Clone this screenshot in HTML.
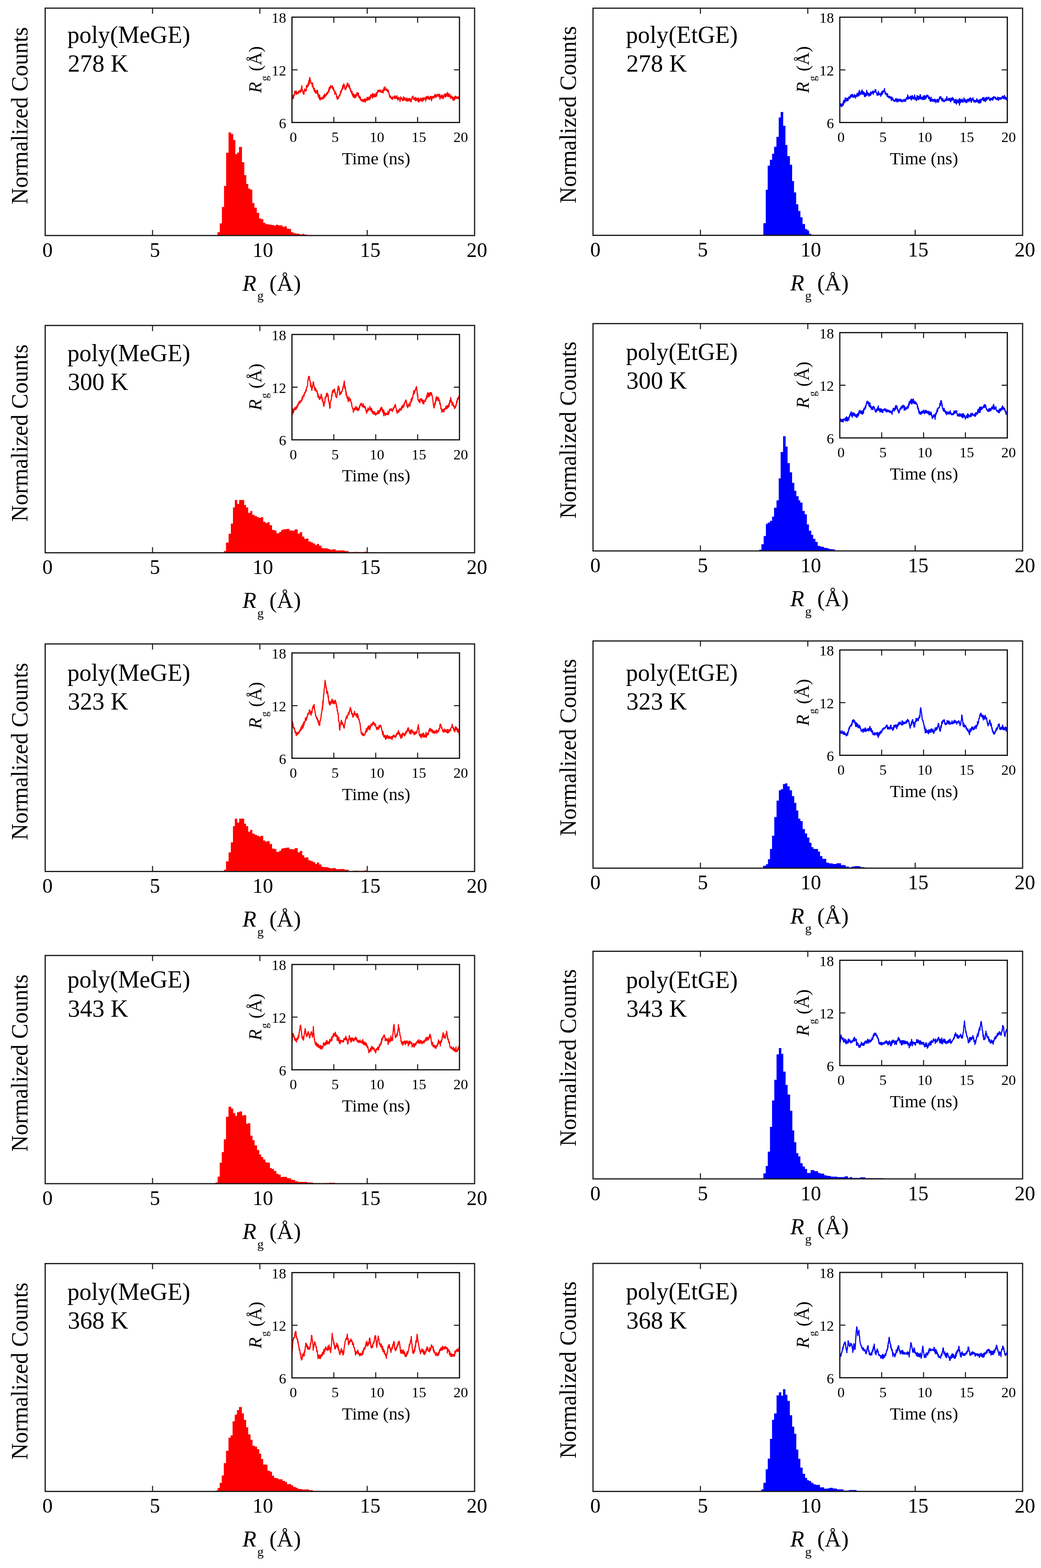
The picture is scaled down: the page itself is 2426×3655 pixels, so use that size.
<!DOCTYPE html>
<html><head><meta charset="utf-8"><style>
html,body{margin:0;padding:0;background:#fff;}
svg{display:block;}
text{font-family:"Liberation Serif", "Times New Roman", serif;fill:#000;}
</style></head><body>
<svg width="2426" height="3655" viewBox="0 0 2426 3655">
<rect width="2426" height="3655" fill="#fff"/>
<path d="M355.5 549V536M355.5 19V32M605.6 549V536M605.6 19V32M855.8 549V536M855.8 19V32" stroke="#1a1a1a" stroke-width="2.4" fill="none"/>
<path d="M499.2 549V548.7H506.8V541.3H512.2V520.7H517.2V482.4H522.1V433.4H527V356.1H532.6V308.7H538.7V312.5H543.6V326.3H548.5V359.2H552.8V355.4H556.9V342.4H563.9V378.3H569.3V408.2H573.9V428.8H578.5V439.6H583.4V441.9H588V473.2H592.9V483.9H598.4V496.2H604V509.2H608.6V510.7H613.7V519.2H618.6V522.2H623.2V523H628.5V523.7H633.1V524.5H638.5V526H643.1V523.7H647.7V525.3H653V525.3H658.4V529.1H663V527.6H668.3V532.9H673.7V533.7H678.3V541.3H683.6V543.6H689V544.4H695.1V545.2H699.7V546.7H704.3V545.2H708.9V546.7H715V547.8H730V549Z" fill="#ff0000"/>
<rect x="105.3" y="19" width="1000.7" height="530" fill="none" stroke="#1a1a1a" stroke-width="2.8"/>
<text x="110.8" y="598.5" font-size="48" text-anchor="middle">0</text>
<text x="361" y="598.5" font-size="48" text-anchor="middle">5</text>
<text x="612.6" y="598.5" font-size="48" text-anchor="middle">10</text>
<text x="862.8" y="598.5" font-size="48" text-anchor="middle">15</text>
<text x="1111.5" y="598.5" font-size="48" text-anchor="middle">20</text>
<text x="565.1" y="677.8" font-size="53"><tspan font-style="italic">R</tspan><tspan dx="2" dy="21.6" font-size="30">g</tspan><tspan dy="-21.6"> (Å)</tspan></text>
<text transform="translate(64.3,476.2) rotate(-90)" font-size="54.5" textLength="413" lengthAdjust="spacingAndGlyphs">Normalized Counts</text>
<text x="157" y="100" font-size="57" textLength="286.3" lengthAdjust="spacingAndGlyphs">poly(MeGE)</text>
<text x="158" y="167.3" font-size="57">278 K</text>
<path d="M680.4 232.6 680.8 229.6 681.3 231.5 681.7 230.6 682.1 222.2 682.6 225.4 683.0 223.1 683.4 225.7 683.9 229.1 684.3 225.6 684.7 223.3 685.2 219.9 685.6 222.9 686.0 221.6 686.5 217.8 686.9 212.9 687.3 213.3 687.8 217.1 688.2 214.1 688.6 215.2 689.1 217.2 689.5 217.4 689.9 211.8 690.4 213.4 690.8 220.3 691.2 217.4 691.7 217.9 692.1 215.5 692.5 217.0 693.0 215.3 693.4 216.5 693.8 215.6 694.3 217.5 694.7 218.4 695.1 218.0 695.6 214.7 696.0 212.4 696.4 214.2 696.9 212.9 697.3 214.8 697.8 214.1 698.2 214.9 698.6 213.9 699.1 210.2 699.5 215.7 699.9 210.7 700.4 211.0 700.8 212.3 701.2 213.3 701.7 212.0 702.1 205.6 702.5 209.7 703.0 206.2 703.4 199.8 703.8 209.2 704.3 208.6 704.7 211.8 705.1 212.5 705.6 211.3 706.0 214.3 706.4 218.2 706.9 216.1 707.3 216.6 707.7 216.3 708.2 220.0 708.6 216.1 709.0 211.7 709.5 211.8 709.9 207.2 710.3 211.0 710.8 208.9 711.2 209.9 711.6 212.1 712.1 209.0 712.5 209.8 712.9 212.7 713.4 210.8 713.8 209.9 714.2 199.4 714.7 203.3 715.1 204.4 715.5 202.5 716.0 198.2 716.4 203.1 716.8 198.0 717.3 198.8 717.7 200.8 718.1 194.0 718.6 200.0 719.0 194.6 719.4 194.0 719.9 187.1 720.3 192.0 720.7 196.5 721.2 189.5 721.6 180.8 722.0 180.5 722.5 186.4 722.9 188.3 723.3 185.6 723.8 190.2 724.2 191.3 724.6 194.1 725.1 192.8 725.5 194.2 725.9 193.4 726.4 194.0 726.8 195.2 727.2 197.2 727.7 198.6 728.1 202.7 728.5 193.3 729.0 198.8 729.4 202.3 729.9 202.6 730.3 206.6 730.7 206.4 731.2 204.7 731.6 206.6 732.0 211.1 732.5 208.9 732.9 206.4 733.3 214.4 733.8 210.9 734.2 213.7 734.6 210.6 735.1 212.1 735.5 213.7 735.9 217.4 736.4 213.8 736.8 215.7 737.2 211.7 737.7 213.5 738.1 215.2 738.5 216.1 739.0 214.7 739.4 218.5 739.8 210.4 740.3 213.2 740.7 221.1 741.1 221.8 741.6 220.7 742.0 226.6 742.4 219.3 742.9 224.9 743.3 225.7 743.7 226.5 744.2 228.2 744.6 231.7 745.0 221.9 745.5 228.4 745.9 232.2 746.3 233.0 746.8 232.1 747.2 232.4 747.6 231.9 748.1 228.2 748.5 229.6 748.9 227.2 749.4 229.3 749.8 227.1 750.2 230.4 750.7 228.6 751.1 229.7 751.5 228.8 752.0 228.9 752.4 230.9 752.8 228.4 753.3 224.7 753.7 226.9 754.1 223.3 754.6 225.6 755.0 222.0 755.4 228.6 755.9 226.2 756.3 226.6 756.7 219.4 757.2 225.8 757.6 224.4 758.0 223.6 758.5 221.8 758.9 222.9 759.3 223.8 759.8 220.0 760.2 219.4 760.6 220.2 761.1 221.2 761.5 216.6 762.0 220.4 762.4 216.6 762.8 214.8 763.3 218.1 763.7 217.8 764.1 214.7 764.6 216.6 765.0 213.5 765.4 212.6 765.9 208.4 766.3 212.7 766.7 213.7 767.2 204.1 767.6 208.0 768.0 205.6 768.5 209.0 768.9 204.1 769.3 202.3 769.8 204.8 770.2 205.9 770.6 199.4 771.1 203.0 771.5 200.0 771.9 201.3 772.4 203.3 772.8 201.9 773.2 201.8 773.7 200.6 774.1 203.6 774.5 200.5 775.0 205.3 775.4 207.3 775.8 203.2 776.3 203.9 776.7 209.5 777.1 204.3 777.6 208.2 778.0 208.8 778.4 212.7 778.9 213.0 779.3 212.2 779.7 211.8 780.2 219.7 780.6 213.0 781.0 214.5 781.5 215.8 781.9 218.6 782.3 215.9 782.8 217.3 783.2 217.6 783.6 219.9 784.1 225.7 784.5 226.4 784.9 226.0 785.4 224.2 785.8 230.5 786.2 231.7 786.7 228.9 787.1 228.0 787.5 228.6 788.0 226.7 788.4 229.0 788.8 229.7 789.3 227.3 789.7 224.0 790.1 223.6 790.6 224.6 791.0 221.4 791.4 221.9 791.9 223.0 792.3 223.2 792.7 218.0 793.2 217.1 793.6 213.3 794.0 212.8 794.5 211.7 794.9 216.2 795.4 212.0 795.8 211.3 796.2 208.8 796.7 210.7 797.1 206.2 797.5 207.1 798.0 205.2 798.4 199.5 798.8 202.3 799.3 207.1 799.7 202.7 800.1 202.3 800.6 203.0 801.0 195.4 801.4 199.2 801.9 201.4 802.3 197.9 802.7 201.9 803.2 203.1 803.6 205.0 804.0 208.9 804.5 208.2 804.9 208.5 805.3 207.8 805.8 207.5 806.2 207.3 806.6 203.1 807.1 199.4 807.5 204.8 807.9 201.7 808.4 199.3 808.8 201.1 809.2 193.9 809.7 196.6 810.1 196.1 810.5 195.5 811.0 194.5 811.4 199.4 811.8 200.7 812.3 200.9 812.7 199.5 813.1 203.6 813.6 202.8 814.0 198.0 814.4 201.7 814.9 202.4 815.3 207.7 815.7 205.3 816.2 205.9 816.6 206.5 817.0 210.8 817.5 213.9 817.9 210.3 818.3 213.6 818.8 213.6 819.2 215.1 819.6 217.9 820.1 213.3 820.5 212.9 820.9 218.8 821.4 222.4 821.8 219.1 822.2 219.3 822.7 220.6 823.1 226.2 823.5 218.3 824.0 224.3 824.4 223.7 824.8 221.1 825.3 227.2 825.7 227.7 826.1 226.6 826.6 225.8 827.0 221.3 827.5 226.4 827.9 228.3 828.3 220.8 828.8 222.4 829.2 223.4 829.6 223.5 830.1 225.5 830.5 221.9 830.9 219.1 831.4 221.0 831.8 215.7 832.2 219.8 832.7 216.1 833.1 221.4 833.5 221.6 834.0 220.1 834.4 223.3 834.8 217.9 835.3 217.0 835.7 223.6 836.1 226.9 836.6 224.5 837.0 226.1 837.4 224.8 837.9 224.2 838.3 229.3 838.7 230.5 839.2 226.0 839.6 229.9 840.0 227.2 840.5 230.5 840.9 233.6 841.3 233.0 841.8 232.7 842.2 235.5 842.6 232.6 843.1 232.8 843.5 232.2 843.9 233.0 844.4 232.7 844.8 231.8 845.2 233.2 845.7 237.0 846.1 237.5 846.5 236.3 847.0 233.8 847.4 234.3 847.8 232.3 848.3 234.2 848.7 235.5 849.1 236.6 849.6 230.1 850.0 234.1 850.4 234.6 850.9 235.9 851.3 238.2 851.7 233.0 852.2 231.6 852.6 230.7 853.0 231.1 853.5 231.9 853.9 231.0 854.3 234.2 854.8 234.3 855.2 233.6 855.6 227.1 856.1 233.8 856.5 230.6 856.9 226.9 857.4 231.4 857.8 231.1 858.2 230.9 858.7 228.6 859.1 232.1 859.6 228.5 860.0 226.2 860.4 228.7 860.9 232.6 861.3 232.6 861.7 227.6 862.2 227.6 862.6 224.8 863.0 223.8 863.5 229.1 863.9 220.9 864.3 222.2 864.8 223.0 865.2 220.7 865.6 222.5 866.1 222.5 866.5 221.5 866.9 226.7 867.4 224.1 867.8 221.7 868.2 218.0 868.7 229.0 869.1 221.7 869.5 225.4 870.0 219.5 870.4 225.5 870.8 224.0 871.3 221.6 871.7 222.2 872.1 220.4 872.6 225.8 873.0 218.7 873.4 221.6 873.9 222.4 874.3 224.7 874.7 222.2 875.2 221.2 875.6 224.7 876.0 225.7 876.5 217.2 876.9 216.2 877.3 223.5 877.8 221.1 878.2 222.2 878.6 217.9 879.1 215.6 879.5 214.0 879.9 213.8 880.4 211.6 880.8 214.1 881.2 210.2 881.7 214.3 882.1 212.7 882.5 211.1 883.0 212.0 883.4 213.0 883.8 211.5 884.3 212.9 884.7 210.5 885.1 211.3 885.6 210.5 886.0 209.3 886.4 214.4 886.9 212.9 887.3 212.7 887.7 213.0 888.2 214.9 888.6 212.5 889.0 213.2 889.5 213.6 889.9 215.4 890.3 213.7 890.8 213.4 891.2 209.5 891.6 210.5 892.1 212.2 892.5 213.9 893.0 216.4 893.4 211.7 893.8 209.4 894.3 209.2 894.7 204.5 895.1 208.6 895.6 210.8 896.0 207.4 896.4 208.6 896.9 205.1 897.3 202.5 897.7 206.5 898.2 207.3 898.6 209.8 899.0 209.5 899.5 208.4 899.9 210.3 900.3 210.0 900.8 207.4 901.2 210.9 901.6 207.8 902.1 208.0 902.5 209.8 902.9 213.5 903.4 209.8 903.8 211.5 904.2 214.1 904.7 214.3 905.1 210.5 905.5 216.0 906.0 217.4 906.4 217.0 906.8 217.3 907.3 223.1 907.7 221.8 908.1 225.8 908.6 222.9 909.0 227.6 909.4 225.2 909.9 223.8 910.3 225.4 910.7 227.4 911.2 226.6 911.6 226.6 912.0 227.9 912.5 230.3 912.9 227.0 913.3 229.9 913.8 228.6 914.2 232.0 914.6 227.1 915.1 226.0 915.5 229.7 915.9 226.4 916.4 226.0 916.8 226.3 917.2 227.4 917.7 227.2 918.1 226.2 918.5 225.6 919.0 224.1 919.4 229.1 919.8 230.1 920.3 223.2 920.7 226.2 921.1 227.4 921.6 228.7 922.0 229.4 922.4 228.5 922.9 228.7 923.3 224.7 923.7 227.9 924.2 226.6 924.6 227.1 925.1 223.4 925.5 230.2 925.9 231.1 926.4 232.4 926.8 230.3 927.2 233.3 927.7 227.7 928.1 228.0 928.5 227.2 929.0 231.3 929.4 228.7 929.8 226.9 930.3 229.8 930.7 231.2 931.1 230.8 931.6 232.0 932.0 235.9 932.4 236.4 932.9 232.1 933.3 230.7 933.7 225.8 934.2 226.4 934.6 231.3 935.0 230.8 935.5 228.5 935.9 228.4 936.3 230.9 936.8 230.3 937.2 232.2 937.6 234.6 938.1 230.9 938.5 234.3 938.9 229.8 939.4 234.2 939.8 230.8 940.2 225.6 940.7 227.5 941.1 233.9 941.5 228.5 942.0 232.6 942.4 232.0 942.8 229.2 943.3 232.8 943.7 227.6 944.1 232.6 944.6 230.9 945.0 231.3 945.4 233.6 945.9 231.1 946.3 233.9 946.7 234.6 947.2 231.4 947.6 235.5 948.0 228.3 948.5 234.9 948.9 232.2 949.3 231.2 949.8 231.6 950.2 235.8 950.6 230.2 951.1 235.0 951.5 233.4 951.9 230.4 952.4 234.3 952.8 231.4 953.2 229.5 953.7 229.7 954.1 235.0 954.5 232.6 955.0 232.2 955.4 229.8 955.8 229.8 956.3 230.0 956.7 233.5 957.2 236.9 957.6 235.6 958.0 237.9 958.5 231.9 958.9 232.8 959.3 232.0 959.8 229.8 960.2 227.5 960.6 225.4 961.1 226.9 961.5 226.5 961.9 226.0 962.4 224.0 962.8 227.4 963.2 231.3 963.7 230.3 964.1 231.2 964.5 228.8 965.0 228.6 965.4 230.9 965.8 230.8 966.3 229.7 966.7 231.6 967.1 233.7 967.6 226.8 968.0 227.9 968.4 235.0 968.9 229.7 969.3 229.9 969.7 232.8 970.2 228.7 970.6 234.1 971.0 230.5 971.5 233.7 971.9 231.6 972.3 229.4 972.8 230.7 973.2 232.5 973.6 234.8 974.1 233.3 974.5 232.6 974.9 238.0 975.4 228.3 975.8 229.5 976.2 237.3 976.7 234.1 977.1 233.4 977.5 234.0 978.0 232.1 978.4 234.2 978.8 235.7 979.3 234.3 979.7 231.0 980.1 233.8 980.6 228.4 981.0 232.0 981.4 233.7 981.9 230.2 982.3 233.7 982.7 233.2 983.2 234.3 983.6 236.6 984.0 236.0 984.5 229.8 984.9 235.8 985.3 234.3 985.8 227.6 986.2 233.9 986.6 233.8 987.1 233.2 987.5 229.4 987.9 232.1 988.4 229.6 988.8 228.1 989.2 229.2 989.7 230.3 990.1 228.7 990.6 229.0 991.0 230.3 991.4 228.5 991.9 235.7 992.3 225.9 992.7 230.4 993.2 227.1 993.6 231.6 994.0 226.9 994.5 229.8 994.9 225.1 995.3 229.5 995.8 229.6 996.2 227.0 996.6 224.7 997.1 225.6 997.5 227.6 997.9 224.2 998.4 230.7 998.8 228.5 999.2 226.8 999.7 228.4 1000.1 227.2 1000.5 228.1 1001.0 232.3 1001.4 228.5 1001.8 226.1 1002.3 227.3 1002.7 230.4 1003.1 225.4 1003.6 227.1 1004.0 226.6 1004.4 224.4 1004.9 225.7 1005.3 229.4 1005.7 234.9 1006.2 231.1 1006.6 228.9 1007.0 226.7 1007.5 226.6 1007.9 224.9 1008.3 226.0 1008.8 226.4 1009.2 225.7 1009.6 229.3 1010.1 224.6 1010.5 228.2 1010.9 227.2 1011.4 225.1 1011.8 227.5 1012.2 222.9 1012.7 226.9 1013.1 225.3 1013.5 225.8 1014.0 219.7 1014.4 225.6 1014.8 224.4 1015.3 221.3 1015.7 223.4 1016.1 227.4 1016.6 225.6 1017.0 223.1 1017.4 222.1 1017.9 222.5 1018.3 220.5 1018.7 221.9 1019.2 224.3 1019.6 220.9 1020.0 220.8 1020.5 219.4 1020.9 223.3 1021.3 221.8 1021.8 221.1 1022.2 222.4 1022.7 225.8 1023.1 222.4 1023.5 225.4 1024.0 219.8 1024.4 225.9 1024.8 219.6 1025.3 231.3 1025.7 224.0 1026.1 225.4 1026.6 226.5 1027.0 227.7 1027.4 226.7 1027.9 224.9 1028.3 223.0 1028.7 227.0 1029.2 221.8 1029.6 225.2 1030.0 223.0 1030.5 229.6 1030.9 221.9 1031.3 224.4 1031.8 227.9 1032.2 227.0 1032.6 225.5 1033.1 229.6 1033.5 227.2 1033.9 224.1 1034.4 224.5 1034.8 220.6 1035.2 224.7 1035.7 222.7 1036.1 219.3 1036.5 221.4 1037.0 223.7 1037.4 224.9 1037.8 225.5 1038.3 226.6 1038.7 222.8 1039.1 218.0 1039.6 218.5 1040.0 220.9 1040.4 219.3 1040.9 220.0 1041.3 223.1 1041.7 224.6 1042.2 223.6 1042.6 221.0 1043.0 215.3 1043.5 218.9 1043.9 220.3 1044.3 221.2 1044.8 225.5 1045.2 222.6 1045.6 223.1 1046.1 221.1 1046.5 218.9 1046.9 224.8 1047.4 220.0 1047.8 223.1 1048.2 219.8 1048.7 222.9 1049.1 225.2 1049.5 229.2 1050.0 226.0 1050.4 227.7 1050.8 226.9 1051.3 223.5 1051.7 227.6 1052.1 226.1 1052.6 227.9 1053.0 224.4 1053.4 225.0 1053.9 231.2 1054.3 229.3 1054.8 227.3 1055.2 229.7 1055.6 228.3 1056.1 227.5 1056.5 234.2 1056.9 226.9 1057.4 231.3 1057.8 229.1 1058.2 231.8 1058.7 232.0 1059.1 233.2 1059.5 228.2 1060.0 224.9 1060.4 230.3 1060.8 225.2 1061.3 224.2 1061.7 228.6 1062.1 227.4 1062.6 228.9 1063.0 225.9 1063.4 229.5 1063.9 225.5 1064.3 227.2 1064.7 227.1 1065.2 228.3 1065.6 226.7 1066.0 229.9 1066.5 227.0 1066.9 228.5 1067.3 227.7 1067.8 229.4 1068.2 225.9 1068.6 226.5 1069.1 229.7 1069.5 228.3 1069.9 228.2 1070.4 224.4 1070.8 225.7" fill="none" stroke="#ff0000" stroke-width="2.6" stroke-linejoin="round"/>
<rect x="680.4" y="40" width="390.4" height="245.5" fill="none" stroke="#111" stroke-width="2.8"/>
<path d="M778 285.5V272.5M778 40V53M875.6 285.5V272.5M875.6 40V53M973.2 285.5V272.5M973.2 40V53M680.4 162.8H693.4M1070.8 162.8H1057.8" stroke="#111" stroke-width="2.3" fill="none"/>
<text x="683.4" y="330.8" font-size="34" text-anchor="middle">0</text>
<text x="781" y="330.8" font-size="34" text-anchor="middle">5</text>
<text x="878.6" y="330.8" font-size="34" text-anchor="middle">10</text>
<text x="976.2" y="330.8" font-size="34" text-anchor="middle">15</text>
<text x="1073.8" y="330.8" font-size="34" text-anchor="middle">20</text>
<text x="666.9" y="298.7" font-size="34" text-anchor="end">6</text>
<text x="666.9" y="175.9" font-size="34" text-anchor="end">12</text>
<text x="666.9" y="53.2" font-size="34" text-anchor="end">18</text>
<text x="876.6" y="382.5" font-size="41" text-anchor="middle">Time (ns)</text>
<text transform="translate(608.6,216.7) rotate(-90)" font-size="42"><tspan font-style="italic">R</tspan><tspan dx="2" dy="16.4" font-size="25">g</tspan><tspan dy="-16.4"> (Å)</tspan></text>
<path d="M1632.3 548.6V535.6M1632.3 19.1V32.1M1882.5 548.6V535.6M1882.5 19.1V32.1M2132.8 548.6V535.6M2132.8 19.1V32.1" stroke="#1a1a1a" stroke-width="2.4" fill="none"/>
<path d="M1774.9 548.6V547.7H1779V520.2H1784.6V442.3H1789.1V386.2H1794.1V372.6H1799.3V358.4H1804V342.2H1809.4V318.9H1814.8V273.8H1819.3V261H1825.2V293.2H1830.4V338.1H1834.9V364.1H1840.9V384.1H1846V422H1850.4V448.4H1855.4V476.2H1860.4V491.7H1865.3V506.6H1870.3V522.2H1876.1V533.7H1880.5V538.4H1885.9V545.2H1890.6V547.9H1900.8V548.6Z" fill="#0000ff"/>
<rect x="1382" y="19.1" width="1001.1" height="529.5" fill="none" stroke="#1a1a1a" stroke-width="2.8"/>
<text x="1387.5" y="598.1" font-size="48" text-anchor="middle">0</text>
<text x="1637.8" y="598.1" font-size="48" text-anchor="middle">5</text>
<text x="1889.5" y="598.1" font-size="48" text-anchor="middle">10</text>
<text x="2139.8" y="598.1" font-size="48" text-anchor="middle">15</text>
<text x="2388.6" y="598.1" font-size="48" text-anchor="middle">20</text>
<text x="1841.8" y="677.4" font-size="53"><tspan font-style="italic">R</tspan><tspan dx="2" dy="21.6" font-size="30">g</tspan><tspan dy="-21.6"> (Å)</tspan></text>
<text transform="translate(1342,473.9) rotate(-90)" font-size="54.5" textLength="413" lengthAdjust="spacingAndGlyphs">Normalized Counts</text>
<text x="1458.7" y="100" font-size="57" textLength="260.6" lengthAdjust="spacingAndGlyphs">poly(EtGE)</text>
<text x="1459.7" y="167.3" font-size="57">278 K</text>
<path d="M1957.1 243.7 1957.5 243.8 1958.0 243.3 1958.4 241.9 1958.8 243.7 1959.3 242.4 1959.7 247.6 1960.1 242.9 1960.6 242.5 1961.0 244.5 1961.4 245.7 1961.9 248.4 1962.3 245.9 1962.7 243.3 1963.2 244.9 1963.6 241.6 1964.0 243.6 1964.5 245.6 1964.9 238.7 1965.3 244.6 1965.8 234.8 1966.2 241.4 1966.6 239.6 1967.1 233.6 1967.5 233.5 1967.9 236.0 1968.4 238.6 1968.8 239.0 1969.2 235.3 1969.7 227.7 1970.1 234.5 1970.5 233.6 1971.0 232.7 1971.4 234.3 1971.8 235.8 1972.3 234.4 1972.7 232.1 1973.1 229.1 1973.6 231.8 1974.0 235.0 1974.5 229.4 1974.9 231.2 1975.3 230.6 1975.8 231.2 1976.2 234.9 1976.6 232.0 1977.1 227.2 1977.5 229.3 1977.9 227.3 1978.4 229.4 1978.8 225.9 1979.2 227.1 1979.7 228.0 1980.1 226.1 1980.5 230.0 1981.0 224.0 1981.4 226.6 1981.8 223.4 1982.3 223.8 1982.7 226.6 1983.1 220.7 1983.6 226.0 1984.0 224.0 1984.4 225.5 1984.9 221.7 1985.3 220.7 1985.7 224.0 1986.2 223.2 1986.6 219.7 1987.0 224.1 1987.5 225.9 1987.9 223.0 1988.3 227.1 1988.8 223.0 1989.2 224.4 1989.6 224.6 1990.1 226.5 1990.5 226.9 1990.9 221.1 1991.4 223.9 1991.8 220.5 1992.2 224.3 1992.7 224.2 1993.1 224.1 1993.5 224.1 1994.0 228.8 1994.4 223.0 1994.8 222.4 1995.3 223.2 1995.7 221.6 1996.1 223.7 1996.6 223.5 1997.0 224.3 1997.4 217.4 1997.9 221.4 1998.3 220.9 1998.7 224.9 1999.2 221.5 1999.6 223.4 2000.0 218.6 2000.5 222.8 2000.9 217.4 2001.3 214.8 2001.8 223.2 2002.2 213.7 2002.6 210.8 2003.1 216.9 2003.5 217.9 2003.9 216.5 2004.4 218.2 2004.8 220.8 2005.2 219.2 2005.7 218.5 2006.1 216.7 2006.6 213.2 2007.0 216.4 2007.4 214.5 2007.9 219.3 2008.3 215.3 2008.7 209.8 2009.2 212.9 2009.6 218.6 2010.0 212.3 2010.5 215.0 2010.9 216.5 2011.3 220.2 2011.8 213.9 2012.2 219.1 2012.6 214.4 2013.1 215.3 2013.5 215.7 2013.9 218.4 2014.4 222.4 2014.8 225.4 2015.2 218.4 2015.7 216.7 2016.1 222.9 2016.5 220.6 2017.0 224.6 2017.4 222.5 2017.8 219.2 2018.3 222.4 2018.7 221.1 2019.1 222.8 2019.6 210.5 2020.0 222.1 2020.4 217.8 2020.9 219.0 2021.3 219.2 2021.7 215.1 2022.2 220.6 2022.6 218.3 2023.0 216.9 2023.5 221.4 2023.9 218.2 2024.3 219.4 2024.8 224.2 2025.2 220.3 2025.6 221.0 2026.1 218.3 2026.5 221.7 2026.9 218.7 2027.4 223.0 2027.8 219.4 2028.2 220.4 2028.7 214.6 2029.1 221.8 2029.5 220.9 2030.0 219.8 2030.4 219.0 2030.8 218.3 2031.3 216.6 2031.7 214.5 2032.1 214.4 2032.6 216.9 2033.0 214.9 2033.4 212.8 2033.9 215.3 2034.3 215.5 2034.7 217.3 2035.2 220.0 2035.6 212.4 2036.0 215.8 2036.5 214.0 2036.9 215.4 2037.3 213.9 2037.8 215.2 2038.2 215.3 2038.7 213.1 2039.1 213.9 2039.5 208.7 2040.0 212.6 2040.4 213.1 2040.8 208.9 2041.3 210.9 2041.7 216.5 2042.1 215.8 2042.6 217.3 2043.0 217.6 2043.4 216.7 2043.9 220.8 2044.3 222.6 2044.7 220.6 2045.2 219.5 2045.6 219.9 2046.0 220.0 2046.5 219.5 2046.9 213.1 2047.3 215.2 2047.8 221.9 2048.2 215.7 2048.6 218.6 2049.1 219.8 2049.5 220.2 2049.9 219.0 2050.4 219.3 2050.8 219.8 2051.2 220.5 2051.7 219.5 2052.1 217.8 2052.5 224.5 2053.0 221.0 2053.4 217.4 2053.8 221.4 2054.3 214.8 2054.7 216.0 2055.1 217.8 2055.6 213.2 2056.0 214.0 2056.4 219.8 2056.9 215.0 2057.3 216.6 2057.7 211.6 2058.2 214.1 2058.6 212.4 2059.0 213.1 2059.5 214.6 2059.9 213.9 2060.3 210.3 2060.8 212.1 2061.2 206.2 2061.6 211.3 2062.1 213.1 2062.5 213.2 2062.9 219.0 2063.4 217.7 2063.8 219.7 2064.2 216.5 2064.7 217.5 2065.1 217.8 2065.5 219.2 2066.0 219.8 2066.4 218.1 2066.8 222.9 2067.3 223.8 2067.7 222.3 2068.1 225.5 2068.6 218.9 2069.0 224.6 2069.4 224.4 2069.9 224.0 2070.3 226.1 2070.7 227.5 2071.2 225.1 2071.6 227.4 2072.1 226.2 2072.5 226.6 2072.9 225.8 2073.4 224.3 2073.8 228.1 2074.2 229.4 2074.7 225.3 2075.1 227.4 2075.5 227.8 2076.0 228.5 2076.4 226.8 2076.8 227.5 2077.3 234.5 2077.7 229.0 2078.1 226.4 2078.6 226.5 2079.0 228.7 2079.4 232.1 2079.9 229.7 2080.3 231.1 2080.7 229.0 2081.2 232.8 2081.6 232.4 2082.0 234.4 2082.5 233.4 2082.9 233.2 2083.3 233.0 2083.8 236.4 2084.2 234.8 2084.6 235.7 2085.1 235.3 2085.5 234.1 2085.9 236.5 2086.4 232.7 2086.8 231.9 2087.2 234.5 2087.7 232.3 2088.1 229.3 2088.5 231.9 2089.0 231.1 2089.4 234.6 2089.8 236.7 2090.3 237.8 2090.7 235.5 2091.1 231.9 2091.6 234.8 2092.0 234.5 2092.4 230.6 2092.9 234.9 2093.3 232.2 2093.7 237.0 2094.2 234.9 2094.6 232.6 2095.0 232.8 2095.5 235.5 2095.9 232.6 2096.3 231.5 2096.8 233.7 2097.2 232.3 2097.6 231.2 2098.1 233.3 2098.5 232.1 2098.9 236.5 2099.4 236.2 2099.8 234.4 2100.2 231.7 2100.7 236.4 2101.1 235.5 2101.5 236.6 2102.0 236.2 2102.4 236.9 2102.8 236.0 2103.3 237.6 2103.7 234.1 2104.2 232.8 2104.6 232.9 2105.0 234.4 2105.5 235.0 2105.9 234.7 2106.3 233.7 2106.8 231.5 2107.2 234.3 2107.6 236.3 2108.1 232.3 2108.5 235.5 2108.9 235.9 2109.4 236.1 2109.8 231.7 2110.2 236.4 2110.7 231.2 2111.1 234.3 2111.5 232.4 2112.0 228.0 2112.4 227.7 2112.8 227.7 2113.3 230.1 2113.7 229.2 2114.1 229.1 2114.6 226.6 2115.0 231.5 2115.4 221.2 2115.9 225.6 2116.3 223.8 2116.7 230.2 2117.2 227.8 2117.6 228.2 2118.0 226.7 2118.5 229.8 2118.9 227.4 2119.3 227.5 2119.8 226.8 2120.2 229.8 2120.6 228.7 2121.1 226.7 2121.5 224.4 2121.9 230.2 2122.4 225.2 2122.8 225.7 2123.2 231.9 2123.7 224.1 2124.1 233.3 2124.5 231.7 2125.0 231.3 2125.4 227.6 2125.8 224.6 2126.3 222.7 2126.7 225.3 2127.1 226.4 2127.6 229.5 2128.0 228.2 2128.4 228.6 2128.9 227.1 2129.3 226.1 2129.7 231.4 2130.2 228.0 2130.6 226.8 2131.0 230.2 2131.5 221.2 2131.9 228.9 2132.3 224.8 2132.8 230.2 2133.2 232.2 2133.6 228.1 2134.1 230.2 2134.5 228.4 2134.9 229.0 2135.4 234.7 2135.8 230.6 2136.3 233.3 2136.7 228.1 2137.1 222.6 2137.6 227.4 2138.0 229.3 2138.4 229.4 2138.9 226.5 2139.3 224.6 2139.7 229.2 2140.2 232.5 2140.6 228.7 2141.0 226.1 2141.5 224.7 2141.9 231.4 2142.3 228.5 2142.8 227.5 2143.2 226.7 2143.6 229.8 2144.1 220.9 2144.5 227.1 2144.9 223.9 2145.4 221.4 2145.8 230.8 2146.2 229.2 2146.7 227.4 2147.1 227.2 2147.5 228.8 2148.0 227.1 2148.4 231.4 2148.8 227.2 2149.3 226.8 2149.7 226.1 2150.1 226.9 2150.6 226.1 2151.0 229.1 2151.4 232.6 2151.9 230.8 2152.3 231.1 2152.7 223.5 2153.2 226.7 2153.6 229.9 2154.0 227.7 2154.5 222.8 2154.9 231.5 2155.3 231.8 2155.8 227.3 2156.2 227.9 2156.6 224.3 2157.1 227.1 2157.5 230.3 2157.9 229.3 2158.4 226.4 2158.8 226.9 2159.2 222.1 2159.7 226.5 2160.1 223.5 2160.5 223.5 2161.0 224.6 2161.4 222.0 2161.8 221.7 2162.3 225.0 2162.7 223.3 2163.1 223.0 2163.6 226.9 2164.0 230.3 2164.4 227.7 2164.9 229.4 2165.3 227.0 2165.7 230.0 2166.2 226.1 2166.6 226.6 2167.0 232.8 2167.5 235.1 2167.9 235.7 2168.3 234.4 2168.8 232.2 2169.2 229.3 2169.7 236.3 2170.1 226.9 2170.5 232.5 2171.0 231.2 2171.4 232.2 2171.8 234.9 2172.3 234.4 2172.7 235.0 2173.1 236.0 2173.6 231.3 2174.0 235.9 2174.4 232.7 2174.9 232.1 2175.3 233.7 2175.7 233.8 2176.2 234.2 2176.6 234.5 2177.0 237.1 2177.5 234.0 2177.9 231.1 2178.3 232.5 2178.8 235.8 2179.2 231.2 2179.6 233.1 2180.1 235.4 2180.5 237.0 2180.9 239.5 2181.4 238.6 2181.8 234.0 2182.2 234.8 2182.7 235.1 2183.1 233.0 2183.5 232.2 2184.0 235.6 2184.4 235.8 2184.8 235.3 2185.3 238.5 2185.7 231.2 2186.1 237.1 2186.6 237.3 2187.0 237.4 2187.4 237.6 2187.9 234.0 2188.3 233.0 2188.7 233.0 2189.2 229.0 2189.6 227.5 2190.0 225.5 2190.5 230.2 2190.9 227.4 2191.3 227.0 2191.8 225.9 2192.2 228.5 2192.6 225.5 2193.1 226.7 2193.5 228.2 2193.9 232.3 2194.4 229.9 2194.8 234.5 2195.2 229.8 2195.7 230.6 2196.1 232.5 2196.5 235.8 2197.0 232.7 2197.4 229.7 2197.8 234.0 2198.3 233.1 2198.7 235.0 2199.1 236.3 2199.6 234.6 2200.0 237.2 2200.4 236.5 2200.9 234.3 2201.3 234.9 2201.8 235.8 2202.2 235.1 2202.6 231.4 2203.1 232.2 2203.5 233.4 2203.9 234.6 2204.4 231.3 2204.8 229.8 2205.2 231.7 2205.7 228.8 2206.1 232.0 2206.5 225.2 2207.0 234.6 2207.4 232.0 2207.8 232.0 2208.3 231.9 2208.7 232.9 2209.1 231.0 2209.6 230.6 2210.0 232.4 2210.4 229.5 2210.9 234.4 2211.3 233.0 2211.7 231.1 2212.2 232.9 2212.6 229.1 2213.0 231.1 2213.5 230.7 2213.9 234.0 2214.3 231.6 2214.8 236.3 2215.2 231.4 2215.6 237.5 2216.1 228.7 2216.5 234.6 2216.9 230.3 2217.4 230.6 2217.8 229.5 2218.2 233.6 2218.7 229.7 2219.1 233.8 2219.5 227.0 2220.0 230.7 2220.4 230.5 2220.8 231.8 2221.3 230.1 2221.7 229.2 2222.1 233.2 2222.6 233.2 2223.0 233.8 2223.4 239.2 2223.9 233.4 2224.3 232.4 2224.7 233.7 2225.2 238.9 2225.6 235.8 2226.0 237.7 2226.5 240.1 2226.9 232.0 2227.3 239.3 2227.8 231.3 2228.2 237.0 2228.6 240.1 2229.1 242.9 2229.5 237.7 2229.9 234.1 2230.4 233.6 2230.8 238.3 2231.2 237.6 2231.7 238.8 2232.1 233.1 2232.5 237.3 2233.0 234.0 2233.4 233.5 2233.9 239.9 2234.3 233.7 2234.7 233.8 2235.2 235.6 2235.6 229.8 2236.0 245.1 2236.5 233.4 2236.9 236.1 2237.3 234.7 2237.8 236.1 2238.2 231.3 2238.6 239.5 2239.1 238.2 2239.5 237.7 2239.9 233.9 2240.4 235.7 2240.8 233.3 2241.2 234.1 2241.7 236.9 2242.1 230.9 2242.5 233.2 2243.0 233.0 2243.4 236.0 2243.8 237.9 2244.3 238.7 2244.7 235.0 2245.1 233.9 2245.6 233.3 2246.0 233.4 2246.4 228.6 2246.9 230.2 2247.3 234.1 2247.7 237.1 2248.2 234.1 2248.6 231.0 2249.0 234.2 2249.5 236.5 2249.9 234.0 2250.3 237.5 2250.8 234.4 2251.2 236.2 2251.6 239.7 2252.1 235.2 2252.5 235.2 2252.9 232.2 2253.4 234.2 2253.8 238.7 2254.2 234.2 2254.7 232.8 2255.1 231.2 2255.5 232.3 2256.0 231.3 2256.4 235.3 2256.8 233.4 2257.3 233.4 2257.7 232.5 2258.1 237.2 2258.6 231.3 2259.0 229.6 2259.4 233.8 2259.9 233.3 2260.3 229.5 2260.7 232.9 2261.2 234.7 2261.6 227.8 2262.0 234.3 2262.5 229.2 2262.9 234.1 2263.3 238.8 2263.8 238.1 2264.2 233.9 2264.6 231.6 2265.1 232.6 2265.5 233.2 2265.9 230.3 2266.4 232.6 2266.8 233.3 2267.3 228.0 2267.7 230.8 2268.1 233.6 2268.6 235.9 2269.0 234.8 2269.4 233.1 2269.9 237.7 2270.3 235.5 2270.7 234.6 2271.2 235.5 2271.6 234.4 2272.0 238.0 2272.5 235.6 2272.9 238.5 2273.3 237.0 2273.8 233.7 2274.2 235.7 2274.6 234.2 2275.1 236.2 2275.5 236.6 2275.9 236.8 2276.4 230.1 2276.8 233.0 2277.2 237.9 2277.7 236.5 2278.1 233.7 2278.5 235.5 2279.0 238.1 2279.4 233.1 2279.8 236.9 2280.3 235.7 2280.7 237.6 2281.1 238.1 2281.6 240.6 2282.0 238.7 2282.4 233.2 2282.9 239.9 2283.3 236.0 2283.7 236.9 2284.2 231.5 2284.6 238.9 2285.0 234.8 2285.5 239.5 2285.9 233.4 2286.3 232.0 2286.8 236.1 2287.2 230.8 2287.6 233.0 2288.1 231.1 2288.5 232.4 2288.9 231.6 2289.4 231.5 2289.8 227.6 2290.2 230.7 2290.7 230.8 2291.1 231.3 2291.5 234.8 2292.0 231.6 2292.4 234.7 2292.8 227.0 2293.3 231.7 2293.7 232.8 2294.1 234.8 2294.6 234.1 2295.0 230.1 2295.4 230.5 2295.9 237.0 2296.3 235.5 2296.7 228.2 2297.2 234.7 2297.6 233.0 2298.0 230.4 2298.5 234.1 2298.9 226.9 2299.4 231.1 2299.8 227.4 2300.2 227.6 2300.7 231.9 2301.1 229.8 2301.5 230.2 2302.0 230.4 2302.4 228.3 2302.8 230.0 2303.3 228.0 2303.7 226.4 2304.1 228.1 2304.6 226.8 2305.0 227.4 2305.4 231.6 2305.9 231.1 2306.3 233.1 2306.7 231.8 2307.2 234.9 2307.6 233.1 2308.0 230.3 2308.5 230.8 2308.9 229.8 2309.3 228.5 2309.8 230.6 2310.2 232.6 2310.6 231.2 2311.1 230.6 2311.5 232.1 2311.9 231.3 2312.4 228.9 2312.8 227.9 2313.2 233.7 2313.7 230.2 2314.1 226.9 2314.5 232.1 2315.0 228.5 2315.4 229.6 2315.8 225.3 2316.3 227.8 2316.7 228.6 2317.1 225.8 2317.6 226.4 2318.0 227.3 2318.4 227.6 2318.9 227.7 2319.3 226.6 2319.7 229.0 2320.2 229.9 2320.6 227.0 2321.0 231.7 2321.5 231.8 2321.9 230.7 2322.3 231.1 2322.8 232.1 2323.2 230.4 2323.6 229.0 2324.1 229.0 2324.5 229.9 2324.9 231.5 2325.4 226.0 2325.8 227.8 2326.2 230.3 2326.7 234.3 2327.1 229.3 2327.5 228.9 2328.0 228.0 2328.4 229.5 2328.8 230.1 2329.3 228.2 2329.7 231.7 2330.1 227.4 2330.6 228.5 2331.0 230.6 2331.5 227.7 2331.9 231.3 2332.3 230.3 2332.8 228.9 2333.2 228.5 2333.6 231.0 2334.1 229.3 2334.5 228.9 2334.9 229.1 2335.4 224.5 2335.8 226.1 2336.2 226.5 2336.7 229.0 2337.1 224.4 2337.5 227.4 2338.0 227.1 2338.4 228.4 2338.8 227.5 2339.3 225.5 2339.7 230.4 2340.1 223.7 2340.6 225.8 2341.0 222.5 2341.4 230.0 2341.9 226.7 2342.3 228.8 2342.7 226.4 2343.2 226.2 2343.6 229.6 2344.0 231.7 2344.5 228.4 2344.9 232.1 2345.3 227.8 2345.8 229.8 2346.2 228.6 2346.6 233.5 2347.1 233.9 2347.5 233.5" fill="none" stroke="#0000ff" stroke-width="2.6" stroke-linejoin="round"/>
<rect x="1957.1" y="40.1" width="390.4" height="245.5" fill="none" stroke="#111" stroke-width="2.8"/>
<path d="M2054.7 285.6V272.6M2054.7 40.1V53.1M2152.3 285.6V272.6M2152.3 40.1V53.1M2249.9 285.6V272.6M2249.9 40.1V53.1M1957.1 162.9H1970.1M2347.5 162.9H2334.5" stroke="#111" stroke-width="2.3" fill="none"/>
<text x="1960.1" y="330.9" font-size="34" text-anchor="middle">0</text>
<text x="2057.7" y="330.9" font-size="34" text-anchor="middle">5</text>
<text x="2155.3" y="330.9" font-size="34" text-anchor="middle">10</text>
<text x="2252.9" y="330.9" font-size="34" text-anchor="middle">15</text>
<text x="2350.5" y="330.9" font-size="34" text-anchor="middle">20</text>
<text x="1943.6" y="298.8" font-size="34" text-anchor="end">6</text>
<text x="1943.6" y="176.1" font-size="34" text-anchor="end">12</text>
<text x="1943.6" y="53.3" font-size="34" text-anchor="end">18</text>
<text x="2153.3" y="382.6" font-size="41" text-anchor="middle">Time (ns)</text>
<text transform="translate(1885.3,216.8) rotate(-90)" font-size="42"><tspan font-style="italic">R</tspan><tspan dx="2" dy="16.4" font-size="25">g</tspan><tspan dy="-16.4"> (Å)</tspan></text>
<path d="M355.5 1288.5V1275.5M355.5 758.7V771.7M605.6 1288.5V1275.5M605.6 758.7V771.7M855.8 1288.5V1275.5M855.8 758.7V771.7" stroke="#1a1a1a" stroke-width="2.4" fill="none"/>
<path d="M521.8 1288.5V1284.6H526.7V1264.8H532.7V1244.2H538V1220.6H542.9V1182.8H547.3V1165.4H552.8V1174.6H557.4V1165.4H563.5V1165.4H569.1V1177H573.4V1182.8H578.3V1195.7H583.1V1191.3H588V1200H593.3V1203H598.9V1205.4H603.7V1207.1H607.8V1205.4H613.4V1216.3H618.3V1219.2H622.4V1217.5H628.4V1224.3H634V1235.2H639.3V1236.4H644.2V1242.9H650.7V1240H655.1V1235.7H658.7V1234H664.8V1233.2H669.6V1232.8H674.5V1236.4H681.3V1236.9H686.6V1234H693.9V1243.9H698.7V1240.5H704.3V1250.7H709.1V1256.3H713.3V1255.5H718.8V1262.3H724.2V1264.3H729V1266.7H734.6V1270.8H738.7V1267.7H743.6V1272H749.1V1277.6H754V1278.3H759.3V1278.3H764.2V1279.8H769V1281.2H775.1V1280.5H782.3V1283.2H789.6V1282.9H802.9V1284.6H812.6V1287H822.3V1286.6H834.4V1286.8H849V1286.1H856.2V1287.5H868.4V1288.5Z" fill="#ff0000"/>
<rect x="105.3" y="758.7" width="1000.7" height="529.8" fill="none" stroke="#1a1a1a" stroke-width="2.8"/>
<text x="110.8" y="1338" font-size="48" text-anchor="middle">0</text>
<text x="361" y="1338" font-size="48" text-anchor="middle">5</text>
<text x="612.6" y="1338" font-size="48" text-anchor="middle">10</text>
<text x="862.8" y="1338" font-size="48" text-anchor="middle">15</text>
<text x="1111.5" y="1338" font-size="48" text-anchor="middle">20</text>
<text x="565.1" y="1417.3" font-size="53"><tspan font-style="italic">R</tspan><tspan dx="2" dy="21.6" font-size="30">g</tspan><tspan dy="-21.6"> (Å)</tspan></text>
<text transform="translate(64.3,1215.9) rotate(-90)" font-size="54.5" textLength="413" lengthAdjust="spacingAndGlyphs">Normalized Counts</text>
<text x="157" y="841.6" font-size="57" textLength="286.3" lengthAdjust="spacingAndGlyphs">poly(MeGE)</text>
<text x="158" y="908.9" font-size="57">300 K</text>
<path d="M680.4 964.2 680.8 964.3 681.3 959.7 681.7 962.9 682.1 965.6 682.6 956.3 683.0 957.9 683.4 953.0 683.9 957.2 684.3 961.1 684.7 959.4 685.2 954.6 685.6 955.5 686.0 955.0 686.5 952.1 686.9 954.6 687.3 949.8 687.8 951.4 688.2 952.5 688.6 952.1 689.1 955.1 689.5 954.0 689.9 949.1 690.4 953.2 690.8 946.9 691.2 950.3 691.7 950.2 692.1 948.8 692.5 950.6 693.0 946.2 693.4 944.1 693.8 946.1 694.3 941.8 694.7 945.6 695.1 945.2 695.6 938.7 696.0 939.5 696.4 939.0 696.9 940.0 697.3 940.3 697.8 934.8 698.2 935.1 698.6 939.7 699.1 937.7 699.5 935.3 699.9 936.1 700.4 938.2 700.8 935.3 701.2 933.8 701.7 933.0 702.1 934.4 702.5 932.3 703.0 932.6 703.4 934.5 703.8 926.6 704.3 931.4 704.7 927.2 705.1 926.9 705.6 928.9 706.0 922.2 706.4 924.1 706.9 924.5 707.3 924.0 707.7 921.0 708.2 921.8 708.6 923.7 709.0 917.6 709.5 915.7 709.9 916.2 710.3 915.3 710.8 916.2 711.2 916.4 711.6 913.1 712.1 911.1 712.5 910.6 712.9 909.1 713.4 912.1 713.8 906.4 714.2 905.4 714.7 904.3 715.1 902.5 715.5 901.2 716.0 901.3 716.4 899.9 716.8 896.8 717.3 890.0 717.7 885.7 718.1 886.6 718.6 884.1 719.0 878.5 719.4 877.6 719.9 880.8 720.3 880.9 720.7 877.4 721.2 881.6 721.6 884.9 722.0 887.1 722.5 889.0 722.9 888.2 723.3 893.5 723.8 901.1 724.2 899.4 724.6 892.9 725.1 902.5 725.5 900.3 725.9 901.6 726.4 908.7 726.8 909.8 727.2 905.8 727.7 901.8 728.1 901.2 728.5 902.9 729.0 897.3 729.4 894.4 729.9 890.4 730.3 889.9 730.7 892.6 731.2 896.0 731.6 899.5 732.0 898.5 732.5 901.2 732.9 902.0 733.3 905.7 733.8 908.5 734.2 910.6 734.6 909.5 735.1 904.0 735.5 906.1 735.9 908.7 736.4 907.3 736.8 911.7 737.2 910.0 737.7 912.7 738.1 910.7 738.5 912.6 739.0 912.0 739.4 916.7 739.8 917.9 740.3 916.3 740.7 920.5 741.1 926.0 741.6 919.2 742.0 921.6 742.4 922.3 742.9 924.4 743.3 924.9 743.7 929.0 744.2 926.6 744.6 931.1 745.0 931.0 745.5 925.2 745.9 929.1 746.3 928.9 746.8 929.4 747.2 924.6 747.6 924.0 748.1 923.2 748.5 918.9 748.9 922.8 749.4 921.7 749.8 927.6 750.2 925.2 750.7 932.8 751.1 931.0 751.5 935.4 752.0 930.1 752.4 934.1 752.8 937.8 753.3 938.2 753.7 944.4 754.1 945.3 754.6 947.3 755.0 945.3 755.4 943.1 755.9 936.7 756.3 938.1 756.7 939.3 757.2 936.7 757.6 926.8 758.0 927.3 758.5 925.9 758.9 927.1 759.3 927.5 759.8 922.6 760.2 921.2 760.6 925.0 761.1 917.0 761.5 918.4 762.0 917.8 762.4 916.5 762.8 923.5 763.3 918.1 763.7 917.6 764.1 920.5 764.6 921.1 765.0 923.7 765.4 934.2 765.9 932.1 766.3 935.8 766.7 936.3 767.2 941.6 767.6 940.3 768.0 946.0 768.5 951.6 768.9 950.9 769.3 949.3 769.8 938.3 770.2 937.4 770.6 935.0 771.1 933.7 771.5 933.7 771.9 930.5 772.4 929.1 772.8 924.9 773.2 920.7 773.7 923.7 774.1 914.1 774.5 917.2 775.0 911.2 775.4 914.1 775.8 909.5 776.3 912.6 776.7 913.3 777.1 912.1 777.6 913.8 778.0 907.9 778.4 907.8 778.9 909.3 779.3 911.1 779.7 907.3 780.2 911.7 780.6 914.5 781.0 917.6 781.5 915.7 781.9 916.5 782.3 923.9 782.8 923.0 783.2 924.2 783.6 923.8 784.1 926.6 784.5 926.9 784.9 923.2 785.4 922.0 785.8 916.4 786.2 913.5 786.7 914.1 787.1 909.0 787.5 902.9 788.0 902.9 788.4 899.7 788.8 903.8 789.3 907.5 789.7 908.6 790.1 902.8 790.6 908.6 791.0 907.2 791.4 920.4 791.9 916.1 792.3 920.0 792.7 915.9 793.2 913.9 793.6 914.4 794.0 915.4 794.5 917.1 794.9 915.2 795.4 917.6 795.8 913.6 796.2 912.3 796.7 912.6 797.1 912.7 797.5 912.3 798.0 907.4 798.4 908.6 798.8 905.0 799.3 901.3 799.7 904.6 800.1 900.1 800.6 899.3 801.0 894.3 801.4 894.6 801.9 895.1 802.3 888.1 802.7 892.7 803.2 904.0 803.6 898.9 804.0 905.1 804.5 906.5 804.9 903.4 805.3 910.3 805.8 911.0 806.2 913.2 806.6 921.5 807.1 913.5 807.5 921.0 807.9 921.2 808.4 921.9 808.8 927.6 809.2 923.3 809.7 927.5 810.1 930.0 810.5 928.3 811.0 928.8 811.4 936.1 811.8 930.1 812.3 932.8 812.7 933.9 813.1 925.1 813.6 927.7 814.0 933.3 814.4 930.6 814.9 931.7 815.3 933.9 815.7 930.5 816.2 934.8 816.6 929.7 817.0 934.9 817.5 935.5 817.9 935.2 818.3 937.5 818.8 941.4 819.2 940.5 819.6 940.3 820.1 946.7 820.5 948.2 820.9 948.7 821.4 952.0 821.8 951.9 822.2 952.0 822.7 954.8 823.1 955.6 823.5 961.1 824.0 955.1 824.4 953.1 824.8 954.8 825.3 957.0 825.7 954.0 826.1 951.8 826.6 954.1 827.0 954.7 827.5 950.4 827.9 950.1 828.3 950.4 828.8 950.8 829.2 954.6 829.6 947.0 830.1 949.2 830.5 949.6 830.9 951.0 831.4 950.5 831.8 954.3 832.2 956.2 832.7 951.9 833.1 951.5 833.5 956.0 834.0 955.4 834.4 957.3 834.8 951.6 835.3 953.7 835.7 956.1 836.1 951.1 836.6 954.9 837.0 953.9 837.4 951.0 837.9 946.9 838.3 950.0 838.7 945.1 839.2 945.2 839.6 942.5 840.0 945.2 840.5 940.8 840.9 941.4 841.3 944.1 841.8 942.8 842.2 942.1 842.6 943.9 843.1 939.9 843.5 945.6 843.9 943.8 844.4 948.0 844.8 944.6 845.2 946.2 845.7 948.1 846.1 945.6 846.5 945.8 847.0 941.5 847.4 945.3 847.8 949.6 848.3 947.8 848.7 950.2 849.1 948.8 849.6 948.6 850.0 950.7 850.4 950.8 850.9 947.1 851.3 951.5 851.7 949.9 852.2 953.4 852.6 956.7 853.0 957.4 853.5 958.9 853.9 958.7 854.3 963.4 854.8 961.2 855.2 956.3 855.6 958.5 856.1 959.3 856.5 954.7 856.9 957.7 857.4 952.9 857.8 950.8 858.2 957.2 858.7 953.1 859.1 953.2 859.6 955.1 860.0 953.3 860.4 953.4 860.9 954.0 861.3 954.4 861.7 952.6 862.2 947.4 862.6 950.1 863.0 952.5 863.5 956.2 863.9 953.7 864.3 953.9 864.8 953.0 865.2 954.5 865.6 960.0 866.1 951.9 866.5 955.7 866.9 958.1 867.4 956.8 867.8 960.0 868.2 960.6 868.7 963.9 869.1 960.1 869.5 958.5 870.0 959.2 870.4 963.6 870.8 962.3 871.3 965.7 871.7 961.9 872.1 963.4 872.6 964.9 873.0 959.5 873.4 962.4 873.9 965.9 874.3 963.1 874.7 966.8 875.2 965.3 875.6 967.7 876.0 964.0 876.5 965.7 876.9 963.3 877.3 965.7 877.8 964.0 878.2 964.5 878.6 964.4 879.1 961.9 879.5 961.7 879.9 963.1 880.4 964.8 880.8 957.1 881.2 963.9 881.7 958.3 882.1 961.6 882.5 959.9 883.0 961.4 883.4 963.5 883.8 956.9 884.3 960.9 884.7 961.0 885.1 959.2 885.6 957.6 886.0 958.5 886.4 951.8 886.9 957.9 887.3 951.5 887.7 952.8 888.2 955.4 888.6 949.1 889.0 954.4 889.5 952.9 889.9 950.2 890.3 952.1 890.8 955.1 891.2 955.7 891.6 960.9 892.1 957.3 892.5 955.4 893.0 954.9 893.4 964.1 893.8 959.4 894.3 969.2 894.7 957.9 895.1 964.3 895.6 964.9 896.0 960.9 896.4 965.6 896.9 963.8 897.3 963.6 897.7 965.0 898.2 968.9 898.6 963.5 899.0 964.2 899.5 966.5 899.9 965.0 900.3 963.7 900.8 964.4 901.2 966.3 901.6 965.1 902.1 964.9 902.5 963.7 902.9 963.1 903.4 965.7 903.8 965.7 904.2 958.6 904.7 967.0 905.1 961.7 905.5 961.5 906.0 964.9 906.4 964.1 906.8 959.7 907.3 961.1 907.7 954.0 908.1 954.1 908.6 955.4 909.0 957.0 909.4 956.2 909.9 954.1 910.3 953.9 910.7 956.1 911.2 953.2 911.6 952.1 912.0 954.9 912.5 957.3 912.9 954.8 913.3 957.1 913.8 956.2 914.2 958.0 914.6 959.1 915.1 955.3 915.5 955.5 915.9 952.1 916.4 952.0 916.8 950.3 917.2 954.3 917.7 950.6 918.1 950.8 918.5 950.9 919.0 946.8 919.4 947.7 919.8 949.0 920.3 944.4 920.7 947.2 921.1 942.5 921.6 945.6 922.0 948.2 922.4 948.1 922.9 951.2 923.3 953.2 923.7 954.7 924.2 956.6 924.6 959.5 925.1 959.8 925.5 963.4 925.9 957.0 926.4 959.9 926.8 961.6 927.2 959.9 927.7 959.8 928.1 956.8 928.5 958.4 929.0 960.9 929.4 957.8 929.8 955.7 930.3 959.2 930.7 953.4 931.1 956.3 931.6 953.9 932.0 952.8 932.4 952.5 932.9 955.7 933.3 952.8 933.7 952.6 934.2 953.3 934.6 956.7 935.0 952.9 935.5 948.7 935.9 951.0 936.3 952.7 936.8 950.2 937.2 946.3 937.6 948.8 938.1 950.0 938.5 944.9 938.9 949.4 939.4 949.4 939.8 947.3 940.2 949.2 940.7 948.7 941.1 944.0 941.5 940.7 942.0 945.3 942.4 938.5 942.8 938.9 943.3 938.4 943.7 937.5 944.1 937.1 944.6 935.8 945.0 933.0 945.4 937.6 945.9 932.8 946.3 932.6 946.7 934.7 947.2 936.4 947.6 942.0 948.0 939.5 948.5 947.1 948.9 942.8 949.3 947.4 949.8 950.2 950.2 949.5 950.6 949.7 951.1 945.4 951.5 947.4 951.9 945.9 952.4 942.7 952.8 942.1 953.2 942.2 953.7 945.5 954.1 942.4 954.5 941.1 955.0 939.5 955.4 947.2 955.8 939.2 956.3 941.6 956.7 936.2 957.2 936.4 957.6 937.7 958.0 930.8 958.5 936.9 958.9 935.2 959.3 928.1 959.8 934.5 960.2 927.3 960.6 931.3 961.1 930.0 961.5 925.6 961.9 926.9 962.4 921.1 962.8 921.1 963.2 916.7 963.7 916.5 964.1 911.0 964.5 918.3 965.0 912.7 965.4 917.2 965.8 916.4 966.3 914.7 966.7 911.1 967.1 909.3 967.6 911.4 968.0 910.8 968.4 908.4 968.9 904.8 969.3 908.0 969.7 903.1 970.2 904.5 970.6 900.7 971.0 906.0 971.5 906.6 971.9 912.2 972.3 915.8 972.8 922.9 973.2 918.4 973.6 922.2 974.1 932.4 974.5 932.1 974.9 931.9 975.4 934.1 975.8 935.1 976.2 936.4 976.7 932.8 977.1 934.8 977.5 932.0 978.0 938.3 978.4 934.8 978.8 938.7 979.3 930.4 979.7 929.4 980.1 931.8 980.6 931.8 981.0 931.6 981.4 930.3 981.9 932.5 982.3 929.2 982.7 935.1 983.2 931.5 983.6 931.5 984.0 935.0 984.5 933.7 984.9 939.9 985.3 935.5 985.8 939.1 986.2 937.1 986.6 935.2 987.1 932.6 987.5 941.9 987.9 936.9 988.4 937.0 988.8 936.8 989.2 935.7 989.7 935.4 990.1 936.2 990.6 935.7 991.0 931.6 991.4 935.3 991.9 934.6 992.3 929.0 992.7 930.8 993.2 930.1 993.6 924.3 994.0 926.9 994.5 923.0 994.9 927.5 995.3 918.8 995.8 921.7 996.2 923.1 996.6 925.6 997.1 915.2 997.5 920.9 997.9 923.1 998.4 924.2 998.8 917.1 999.2 920.4 999.7 921.3 1000.1 924.0 1000.5 924.4 1001.0 921.3 1001.4 915.6 1001.8 922.2 1002.3 917.7 1002.7 918.4 1003.1 914.7 1003.6 917.7 1004.0 917.2 1004.4 920.4 1004.9 915.2 1005.3 915.9 1005.7 917.2 1006.2 919.8 1006.6 920.2 1007.0 924.1 1007.5 923.9 1007.9 929.5 1008.3 931.5 1008.8 933.3 1009.2 936.0 1009.6 939.9 1010.1 944.3 1010.5 944.9 1010.9 949.9 1011.4 949.5 1011.8 950.8 1012.2 945.9 1012.7 946.5 1013.1 940.1 1013.5 938.0 1014.0 943.1 1014.4 937.2 1014.8 936.5 1015.3 933.3 1015.7 928.9 1016.1 935.7 1016.6 927.6 1017.0 924.9 1017.4 924.9 1017.9 932.3 1018.3 926.3 1018.7 928.9 1019.2 925.9 1019.6 929.1 1020.0 926.9 1020.5 929.0 1020.9 926.6 1021.3 934.5 1021.8 929.4 1022.2 927.7 1022.7 929.1 1023.1 932.5 1023.5 932.2 1024.0 933.2 1024.4 933.0 1024.8 941.1 1025.3 942.5 1025.7 939.1 1026.1 940.4 1026.6 945.7 1027.0 946.9 1027.4 952.9 1027.9 953.3 1028.3 952.2 1028.7 954.5 1029.2 953.7 1029.6 961.2 1030.0 957.8 1030.5 957.8 1030.9 954.2 1031.3 956.6 1031.8 958.5 1032.2 956.9 1032.6 958.1 1033.1 956.1 1033.5 959.5 1033.9 954.5 1034.4 955.5 1034.8 960.2 1035.2 952.4 1035.7 953.7 1036.1 954.5 1036.5 954.5 1037.0 954.2 1037.4 954.4 1037.8 953.4 1038.3 953.5 1038.7 947.9 1039.1 946.9 1039.6 950.7 1040.0 953.1 1040.4 947.1 1040.9 947.2 1041.3 948.4 1041.7 948.9 1042.2 951.8 1042.6 945.3 1043.0 950.4 1043.5 950.8 1043.9 946.2 1044.3 949.8 1044.8 947.3 1045.2 943.3 1045.6 943.4 1046.1 941.2 1046.5 947.8 1046.9 941.1 1047.4 939.5 1047.8 940.2 1048.2 933.4 1048.7 935.4 1049.1 934.8 1049.5 937.8 1050.0 934.3 1050.4 926.8 1050.8 930.4 1051.3 932.9 1051.7 932.2 1052.1 935.8 1052.6 938.8 1053.0 938.7 1053.4 944.5 1053.9 939.2 1054.3 942.2 1054.8 943.5 1055.2 938.0 1055.6 940.5 1056.1 944.5 1056.5 943.8 1056.9 947.7 1057.4 945.2 1057.8 944.2 1058.2 946.6 1058.7 947.4 1059.1 952.4 1059.5 952.5 1060.0 951.5 1060.4 948.9 1060.8 950.5 1061.3 947.6 1061.7 949.4 1062.1 944.3 1062.6 946.6 1063.0 945.0 1063.4 941.3 1063.9 939.8 1064.3 934.3 1064.7 937.1 1065.2 938.3 1065.6 933.6 1066.0 928.6 1066.5 932.1 1066.9 928.6 1067.3 929.2 1067.8 930.3 1068.2 926.7 1068.6 928.9 1069.1 924.2 1069.5 925.1 1069.9 923.7 1070.4 924.4 1070.8 919.5" fill="none" stroke="#ff0000" stroke-width="2.6" stroke-linejoin="round"/>
<rect x="680.4" y="779.7" width="390.4" height="245.5" fill="none" stroke="#111" stroke-width="2.8"/>
<path d="M778 1025.2V1012.2M778 779.7V792.7M875.6 1025.2V1012.2M875.6 779.7V792.7M973.2 1025.2V1012.2M973.2 779.7V792.7M680.4 902.5H693.4M1070.8 902.5H1057.8" stroke="#111" stroke-width="2.3" fill="none"/>
<text x="683.4" y="1070.5" font-size="34" text-anchor="middle">0</text>
<text x="781" y="1070.5" font-size="34" text-anchor="middle">5</text>
<text x="878.6" y="1070.5" font-size="34" text-anchor="middle">10</text>
<text x="976.2" y="1070.5" font-size="34" text-anchor="middle">15</text>
<text x="1073.8" y="1070.5" font-size="34" text-anchor="middle">20</text>
<text x="666.9" y="1038.4" font-size="34" text-anchor="end">6</text>
<text x="666.9" y="915.7" font-size="34" text-anchor="end">12</text>
<text x="666.9" y="792.9" font-size="34" text-anchor="end">18</text>
<text x="876.6" y="1122.2" font-size="41" text-anchor="middle">Time (ns)</text>
<text transform="translate(608.6,956.4) rotate(-90)" font-size="42"><tspan font-style="italic">R</tspan><tspan dx="2" dy="16.4" font-size="25">g</tspan><tspan dy="-16.4"> (Å)</tspan></text>
<path d="M1632.3 1284.2V1271.2M1632.3 754.3V767.3M1882.5 1284.2V1271.2M1882.5 754.3V767.3M2132.8 1284.2V1271.2M2132.8 754.3V767.3" stroke="#1a1a1a" stroke-width="2.4" fill="none"/>
<path d="M1769.2 1284.2V1281.6H1774.4V1268.5H1779.7V1249.4H1784.9V1221.2H1788.9V1218H1794.4V1214H1799.3V1204.2H1803.9V1183.6H1809.6V1166.2H1814.8V1115H1819.3V1053.4H1824.9V1016.7H1830.8V1040.9H1835.4V1079.6H1840.7V1101H1845.9V1125.5H1851.1V1143.9H1855.7V1156.6H1861V1166.2H1864.9V1171.4H1870.2V1191.1H1875.4V1199H1880.4V1222.6H1885.2V1237H1890.5V1246.8H1895.1V1256H1900.3V1263.2H1905.6V1272.4H1912.1V1274.4H1920V1277H1925.2V1277.6H1930.5V1279.6H1935.7V1280.3H1941V1280.7H1946.2V1283.3H1956.7V1284.2Z" fill="#0000ff"/>
<rect x="1382" y="754.3" width="1001.1" height="529.9" fill="none" stroke="#1a1a1a" stroke-width="2.8"/>
<text x="1387.5" y="1333.7" font-size="48" text-anchor="middle">0</text>
<text x="1637.8" y="1333.7" font-size="48" text-anchor="middle">5</text>
<text x="1889.5" y="1333.7" font-size="48" text-anchor="middle">10</text>
<text x="2139.8" y="1333.7" font-size="48" text-anchor="middle">15</text>
<text x="2388.6" y="1333.7" font-size="48" text-anchor="middle">20</text>
<text x="1841.8" y="1413" font-size="53"><tspan font-style="italic">R</tspan><tspan dx="2" dy="21.6" font-size="30">g</tspan><tspan dy="-21.6"> (Å)</tspan></text>
<text transform="translate(1342,1209.1) rotate(-90)" font-size="54.5" textLength="413" lengthAdjust="spacingAndGlyphs">Normalized Counts</text>
<text x="1458.7" y="839" font-size="57" textLength="260.6" lengthAdjust="spacingAndGlyphs">poly(EtGE)</text>
<text x="1459.7" y="906.3" font-size="57">300 K</text>
<path d="M1957.1 980.0 1957.5 978.4 1958.0 982.1 1958.4 979.5 1958.8 976.4 1959.3 977.5 1959.7 980.4 1960.1 978.2 1960.6 982.3 1961.0 982.2 1961.4 982.9 1961.9 979.5 1962.3 978.7 1962.7 977.8 1963.2 980.5 1963.6 977.9 1964.0 982.9 1964.5 979.9 1964.9 983.9 1965.3 980.8 1965.8 978.9 1966.2 976.2 1966.6 976.6 1967.1 979.2 1967.5 977.9 1967.9 978.8 1968.4 978.4 1968.8 977.5 1969.2 979.3 1969.7 977.4 1970.1 974.0 1970.5 976.2 1971.0 974.1 1971.4 981.4 1971.8 977.6 1972.3 979.4 1972.7 971.3 1973.1 977.6 1973.6 975.2 1974.0 979.4 1974.5 975.5 1974.9 981.6 1975.3 973.5 1975.8 973.4 1976.2 976.8 1976.6 974.1 1977.1 977.3 1977.5 975.3 1977.9 979.4 1978.4 976.6 1978.8 970.8 1979.2 970.5 1979.7 971.8 1980.1 968.1 1980.5 970.9 1981.0 967.9 1981.4 963.8 1981.8 963.6 1982.3 963.3 1982.7 964.2 1983.1 964.2 1983.6 959.6 1984.0 968.0 1984.4 969.2 1984.9 965.3 1985.3 968.5 1985.7 966.6 1986.2 972.8 1986.6 968.6 1987.0 961.8 1987.5 967.2 1987.9 965.3 1988.3 965.1 1988.8 967.8 1989.2 965.0 1989.6 962.5 1990.1 963.2 1990.5 967.2 1990.9 969.8 1991.4 966.0 1991.8 964.9 1992.2 964.7 1992.7 968.1 1993.1 967.2 1993.5 968.9 1994.0 970.7 1994.4 971.2 1994.8 968.7 1995.3 966.5 1995.7 972.9 1996.1 967.7 1996.6 967.4 1997.0 966.9 1997.4 973.0 1997.9 968.9 1998.3 964.5 1998.7 967.9 1999.2 967.2 1999.6 963.6 2000.0 969.8 2000.5 968.0 2000.9 966.8 2001.3 966.6 2001.8 960.7 2002.2 957.9 2002.6 958.8 2003.1 962.2 2003.5 959.0 2003.9 959.5 2004.4 956.4 2004.8 963.2 2005.2 960.7 2005.7 961.4 2006.1 959.0 2006.6 959.1 2007.0 960.6 2007.4 964.0 2007.9 962.9 2008.3 962.0 2008.7 958.1 2009.2 963.5 2009.6 965.4 2010.0 957.7 2010.5 959.1 2010.9 963.2 2011.3 958.4 2011.8 957.3 2012.2 963.6 2012.6 953.8 2013.1 957.1 2013.5 955.4 2013.9 950.8 2014.4 954.5 2014.8 952.5 2015.2 953.0 2015.7 953.8 2016.1 952.9 2016.5 946.9 2017.0 946.7 2017.4 950.7 2017.8 944.8 2018.3 946.0 2018.7 943.3 2019.1 939.4 2019.6 939.8 2020.0 937.9 2020.4 935.8 2020.9 940.0 2021.3 938.4 2021.7 935.3 2022.2 940.4 2022.6 938.6 2023.0 938.6 2023.5 940.9 2023.9 942.0 2024.3 937.1 2024.8 945.7 2025.2 943.5 2025.6 943.3 2026.1 947.3 2026.5 944.8 2026.9 944.4 2027.4 939.0 2027.8 949.1 2028.2 946.0 2028.7 949.6 2029.1 945.4 2029.5 950.4 2030.0 950.8 2030.4 948.1 2030.8 954.4 2031.3 948.8 2031.7 950.5 2032.1 953.4 2032.6 948.8 2033.0 953.6 2033.4 951.8 2033.9 949.3 2034.3 955.0 2034.7 950.3 2035.2 947.2 2035.6 949.0 2036.0 947.0 2036.5 947.9 2036.9 949.4 2037.3 949.3 2037.8 952.8 2038.2 951.4 2038.7 955.8 2039.1 957.1 2039.5 956.9 2040.0 959.7 2040.4 957.6 2040.8 960.3 2041.3 958.2 2041.7 960.6 2042.1 953.8 2042.6 958.3 2043.0 954.3 2043.4 958.0 2043.9 954.4 2044.3 954.6 2044.7 952.5 2045.2 956.1 2045.6 950.2 2046.0 953.5 2046.5 950.7 2046.9 946.0 2047.3 954.3 2047.8 956.8 2048.2 956.2 2048.6 952.3 2049.1 954.5 2049.5 956.6 2049.9 953.1 2050.4 954.6 2050.8 960.5 2051.2 954.5 2051.7 955.9 2052.1 952.7 2052.5 959.3 2053.0 955.1 2053.4 955.6 2053.8 957.2 2054.3 953.4 2054.7 960.5 2055.1 958.8 2055.6 955.9 2056.0 958.6 2056.4 957.0 2056.9 955.6 2057.3 961.8 2057.7 955.0 2058.2 958.1 2058.6 955.4 2059.0 955.8 2059.5 955.1 2059.9 954.4 2060.3 956.0 2060.8 955.9 2061.2 952.5 2061.6 954.9 2062.1 953.8 2062.5 957.6 2062.9 957.9 2063.4 955.1 2063.8 956.8 2064.2 953.3 2064.7 958.2 2065.1 956.4 2065.5 960.2 2066.0 959.5 2066.4 955.4 2066.8 960.5 2067.3 958.5 2067.7 955.9 2068.1 955.6 2068.6 955.5 2069.0 956.9 2069.4 959.1 2069.9 958.6 2070.3 956.4 2070.7 957.9 2071.2 958.7 2071.6 959.7 2072.1 959.1 2072.5 958.1 2072.9 961.4 2073.4 956.5 2073.8 958.2 2074.2 958.3 2074.7 959.2 2075.1 959.3 2075.5 962.1 2076.0 961.9 2076.4 961.2 2076.8 961.0 2077.3 959.0 2077.7 961.1 2078.1 961.5 2078.6 959.1 2079.0 966.0 2079.4 957.4 2079.9 959.9 2080.3 955.6 2080.7 957.0 2081.2 953.9 2081.6 951.7 2082.0 955.8 2082.5 955.7 2082.9 953.6 2083.3 953.4 2083.8 952.2 2084.2 958.1 2084.6 952.9 2085.1 951.7 2085.5 952.9 2085.9 952.2 2086.4 951.5 2086.8 946.4 2087.2 954.7 2087.7 945.6 2088.1 951.3 2088.5 951.1 2089.0 947.7 2089.4 948.8 2089.8 947.6 2090.3 945.9 2090.7 948.5 2091.1 953.2 2091.6 954.0 2092.0 952.6 2092.4 957.6 2092.9 957.6 2093.3 959.6 2093.7 956.5 2094.2 959.8 2094.6 962.7 2095.0 962.1 2095.5 960.9 2095.9 960.0 2096.3 956.6 2096.8 956.0 2097.2 952.5 2097.6 953.5 2098.1 953.5 2098.5 953.0 2098.9 954.5 2099.4 949.3 2099.8 953.4 2100.2 948.3 2100.7 950.8 2101.1 950.4 2101.5 947.2 2102.0 949.5 2102.4 946.4 2102.8 947.8 2103.3 951.5 2103.7 945.6 2104.2 946.4 2104.6 949.0 2105.0 944.6 2105.5 945.8 2105.9 946.5 2106.3 949.0 2106.8 945.6 2107.2 955.9 2107.6 947.3 2108.1 948.2 2108.5 950.4 2108.9 947.8 2109.4 950.8 2109.8 955.7 2110.2 955.7 2110.7 952.7 2111.1 952.0 2111.5 952.0 2112.0 952.5 2112.4 950.5 2112.8 953.0 2113.3 949.1 2113.7 951.0 2114.1 952.5 2114.6 947.7 2115.0 949.4 2115.4 949.4 2115.9 946.4 2116.3 951.3 2116.7 949.6 2117.2 941.9 2117.6 945.8 2118.0 943.0 2118.5 945.8 2118.9 936.3 2119.3 938.1 2119.8 940.4 2120.2 941.4 2120.6 938.1 2121.1 936.5 2121.5 934.2 2121.9 933.2 2122.4 936.3 2122.8 939.4 2123.2 935.9 2123.7 930.4 2124.1 931.0 2124.5 936.8 2125.0 942.2 2125.4 934.4 2125.8 934.6 2126.3 931.6 2126.7 934.0 2127.1 934.5 2127.6 937.6 2128.0 939.2 2128.4 930.0 2128.9 934.6 2129.3 938.5 2129.7 938.7 2130.2 940.7 2130.6 940.6 2131.0 939.6 2131.5 935.1 2131.9 940.8 2132.3 938.9 2132.8 937.8 2133.2 936.8 2133.6 936.7 2134.1 940.7 2134.5 941.8 2134.9 938.9 2135.4 939.1 2135.8 940.7 2136.3 941.1 2136.7 942.4 2137.1 942.4 2137.6 943.2 2138.0 950.1 2138.4 947.7 2138.9 946.8 2139.3 954.5 2139.7 951.4 2140.2 952.6 2140.6 952.9 2141.0 959.2 2141.5 959.4 2141.9 964.0 2142.3 963.4 2142.8 958.3 2143.2 960.4 2143.6 961.8 2144.1 961.6 2144.5 964.0 2144.9 965.6 2145.4 963.9 2145.8 961.4 2146.2 960.5 2146.7 962.2 2147.1 965.3 2147.5 960.3 2148.0 961.6 2148.4 961.6 2148.8 958.1 2149.3 963.4 2149.7 958.3 2150.1 960.1 2150.6 958.5 2151.0 958.7 2151.4 959.3 2151.9 960.5 2152.3 961.8 2152.7 955.9 2153.2 958.8 2153.6 960.6 2154.0 960.9 2154.5 964.6 2154.9 961.3 2155.3 959.6 2155.8 962.3 2156.2 958.4 2156.6 956.2 2157.1 962.0 2157.5 957.8 2157.9 956.6 2158.4 959.2 2158.8 961.2 2159.2 959.7 2159.7 962.5 2160.1 958.5 2160.5 960.4 2161.0 958.7 2161.4 961.2 2161.8 962.8 2162.3 963.2 2162.7 959.4 2163.1 964.2 2163.6 961.7 2164.0 962.9 2164.4 958.9 2164.9 964.6 2165.3 967.2 2165.7 961.0 2166.2 963.9 2166.6 960.1 2167.0 964.0 2167.5 964.4 2167.9 965.4 2168.3 965.3 2168.8 967.3 2169.2 965.5 2169.7 960.6 2170.1 965.9 2170.5 962.7 2171.0 965.9 2171.4 970.5 2171.8 968.7 2172.3 970.7 2172.7 975.6 2173.1 972.8 2173.6 973.6 2174.0 969.6 2174.4 969.3 2174.9 970.5 2175.3 972.3 2175.7 972.0 2176.2 966.8 2176.6 972.0 2177.0 966.8 2177.5 971.3 2177.9 970.0 2178.3 971.0 2178.8 966.0 2179.2 977.5 2179.6 969.7 2180.1 970.7 2180.5 968.7 2180.9 962.5 2181.4 965.9 2181.8 964.4 2182.2 964.1 2182.7 963.1 2183.1 959.5 2183.5 956.0 2184.0 954.6 2184.4 953.1 2184.8 959.7 2185.3 956.6 2185.7 952.0 2186.1 953.1 2186.6 950.4 2187.0 951.1 2187.4 951.3 2187.9 951.0 2188.3 950.6 2188.7 950.5 2189.2 949.2 2189.6 946.8 2190.0 945.9 2190.5 940.3 2190.9 942.6 2191.3 945.6 2191.8 939.1 2192.2 936.4 2192.6 934.0 2193.1 935.2 2193.5 934.2 2193.9 935.5 2194.4 941.4 2194.8 939.5 2195.2 946.7 2195.7 942.8 2196.1 948.8 2196.5 952.2 2197.0 952.3 2197.4 951.4 2197.8 953.7 2198.3 957.9 2198.7 955.7 2199.1 956.7 2199.6 957.3 2200.0 958.2 2200.4 951.8 2200.9 959.1 2201.3 958.5 2201.8 958.9 2202.2 956.2 2202.6 960.3 2203.1 960.3 2203.5 961.3 2203.9 963.8 2204.4 962.4 2204.8 958.7 2205.2 962.8 2205.7 961.1 2206.1 966.8 2206.5 964.2 2207.0 962.4 2207.4 962.6 2207.8 961.5 2208.3 959.8 2208.7 962.6 2209.1 963.4 2209.6 964.9 2210.0 962.7 2210.4 963.6 2210.9 965.0 2211.3 963.8 2211.7 960.2 2212.2 965.0 2212.6 960.9 2213.0 962.4 2213.5 963.0 2213.9 962.1 2214.3 957.5 2214.8 964.3 2215.2 963.1 2215.6 961.4 2216.1 963.4 2216.5 965.8 2216.9 966.2 2217.4 965.5 2217.8 967.1 2218.2 964.5 2218.7 966.4 2219.1 964.2 2219.5 966.5 2220.0 966.0 2220.4 966.9 2220.8 964.2 2221.3 963.5 2221.7 966.5 2222.1 963.9 2222.6 963.3 2223.0 959.8 2223.4 957.9 2223.9 960.6 2224.3 961.8 2224.7 964.0 2225.2 960.1 2225.6 963.4 2226.0 961.1 2226.5 957.9 2226.9 957.9 2227.3 958.5 2227.8 961.5 2228.2 961.2 2228.6 961.5 2229.1 962.4 2229.5 957.4 2229.9 963.2 2230.4 963.6 2230.8 966.0 2231.2 968.5 2231.7 969.8 2232.1 965.3 2232.5 969.0 2233.0 967.4 2233.4 967.8 2233.9 967.0 2234.3 966.6 2234.7 969.6 2235.2 965.1 2235.6 968.5 2236.0 964.4 2236.5 966.2 2236.9 970.6 2237.3 965.8 2237.8 964.7 2238.2 969.2 2238.6 969.1 2239.1 967.4 2239.5 969.8 2239.9 968.3 2240.4 967.0 2240.8 967.3 2241.2 965.6 2241.7 972.5 2242.1 970.1 2242.5 964.3 2243.0 971.6 2243.4 969.8 2243.8 973.9 2244.3 971.9 2244.7 966.1 2245.1 970.6 2245.6 964.3 2246.0 971.4 2246.4 968.9 2246.9 969.2 2247.3 970.9 2247.7 971.4 2248.2 968.1 2248.6 970.9 2249.0 974.7 2249.5 974.7 2249.9 977.1 2250.3 972.3 2250.8 973.0 2251.2 972.9 2251.6 971.9 2252.1 972.6 2252.5 968.7 2252.9 969.9 2253.4 968.8 2253.8 967.1 2254.2 974.0 2254.7 973.8 2255.1 965.2 2255.5 964.4 2256.0 974.2 2256.4 966.0 2256.8 967.2 2257.3 968.8 2257.7 967.7 2258.1 970.4 2258.6 968.6 2259.0 969.5 2259.4 969.0 2259.9 968.5 2260.3 968.7 2260.7 971.9 2261.2 968.5 2261.6 970.6 2262.0 965.5 2262.5 963.8 2262.9 966.0 2263.3 969.0 2263.8 967.4 2264.2 970.5 2264.6 963.9 2265.1 966.3 2265.5 967.8 2265.9 963.5 2266.4 963.5 2266.8 967.3 2267.3 966.3 2267.7 967.3 2268.1 967.5 2268.6 967.1 2269.0 967.6 2269.4 966.9 2269.9 969.2 2270.3 966.2 2270.7 967.3 2271.2 966.1 2271.6 965.4 2272.0 970.8 2272.5 963.2 2272.9 967.8 2273.3 965.3 2273.8 969.4 2274.2 968.1 2274.6 961.7 2275.1 961.5 2275.5 963.3 2275.9 965.3 2276.4 964.6 2276.8 964.9 2277.2 964.8 2277.7 965.2 2278.1 961.3 2278.5 957.3 2279.0 960.8 2279.4 954.2 2279.8 960.0 2280.3 961.7 2280.7 957.7 2281.1 958.9 2281.6 957.5 2282.0 951.8 2282.4 961.2 2282.9 950.1 2283.3 948.8 2283.7 952.4 2284.2 961.4 2284.6 954.9 2285.0 952.9 2285.5 955.7 2285.9 949.6 2286.3 949.0 2286.8 948.4 2287.2 952.5 2287.6 953.9 2288.1 951.8 2288.5 954.5 2288.9 949.9 2289.4 950.0 2289.8 949.7 2290.2 951.0 2290.7 949.4 2291.1 951.0 2291.5 948.5 2292.0 947.0 2292.4 945.9 2292.8 949.0 2293.3 944.2 2293.7 946.5 2294.1 947.1 2294.6 943.0 2295.0 950.0 2295.4 943.3 2295.9 943.2 2296.3 948.3 2296.7 948.4 2297.2 945.3 2297.6 947.4 2298.0 950.3 2298.5 953.4 2298.9 952.0 2299.4 952.4 2299.8 955.1 2300.2 956.5 2300.7 955.4 2301.1 955.7 2301.5 955.1 2302.0 955.9 2302.4 959.4 2302.8 956.6 2303.3 955.9 2303.7 955.5 2304.1 953.9 2304.6 952.8 2305.0 959.0 2305.4 958.7 2305.9 957.5 2306.3 956.3 2306.7 954.3 2307.2 951.9 2307.6 953.5 2308.0 953.7 2308.5 957.5 2308.9 957.3 2309.3 957.4 2309.8 952.9 2310.2 951.8 2310.6 950.6 2311.1 951.9 2311.5 948.4 2311.9 949.6 2312.4 953.5 2312.8 952.8 2313.2 953.1 2313.7 949.4 2314.1 947.6 2314.5 945.8 2315.0 944.0 2315.4 949.9 2315.8 942.5 2316.3 954.5 2316.7 949.9 2317.1 947.6 2317.6 949.4 2318.0 953.7 2318.4 952.1 2318.9 952.3 2319.3 951.1 2319.7 953.4 2320.2 953.3 2320.6 951.7 2321.0 948.4 2321.5 954.9 2321.9 955.4 2322.3 957.8 2322.8 957.3 2323.2 957.9 2323.6 958.3 2324.1 957.8 2324.5 959.2 2324.9 957.5 2325.4 960.4 2325.8 959.3 2326.2 956.0 2326.7 961.1 2327.1 957.6 2327.5 961.9 2328.0 961.2 2328.4 958.7 2328.8 962.4 2329.3 954.1 2329.7 957.2 2330.1 955.0 2330.6 955.8 2331.0 952.2 2331.5 958.3 2331.9 954.2 2332.3 952.7 2332.8 954.7 2333.2 954.0 2333.6 955.1 2334.1 952.5 2334.5 956.2 2334.9 949.0 2335.4 948.6 2335.8 947.3 2336.2 952.4 2336.7 946.1 2337.1 953.8 2337.5 952.6 2338.0 951.4 2338.4 953.0 2338.8 949.7 2339.3 954.7 2339.7 953.8 2340.1 954.7 2340.6 951.5 2341.0 952.7 2341.4 952.1 2341.9 956.4 2342.3 958.3 2342.7 957.0 2343.2 960.8 2343.6 957.8 2344.0 959.4 2344.5 965.4 2344.9 960.5 2345.3 964.5 2345.8 961.9 2346.2 961.8 2346.6 966.3 2347.1 964.6 2347.5 967.2" fill="none" stroke="#0000ff" stroke-width="2.6" stroke-linejoin="round"/>
<rect x="1957.1" y="775.3" width="390.4" height="245.5" fill="none" stroke="#111" stroke-width="2.8"/>
<path d="M2054.7 1020.8V1007.8M2054.7 775.3V788.3M2152.3 1020.8V1007.8M2152.3 775.3V788.3M2249.9 1020.8V1007.8M2249.9 775.3V788.3M1957.1 898H1970.1M2347.5 898H2334.5" stroke="#111" stroke-width="2.3" fill="none"/>
<text x="1960.1" y="1066.1" font-size="34" text-anchor="middle">0</text>
<text x="2057.7" y="1066.1" font-size="34" text-anchor="middle">5</text>
<text x="2155.3" y="1066.1" font-size="34" text-anchor="middle">10</text>
<text x="2252.9" y="1066.1" font-size="34" text-anchor="middle">15</text>
<text x="2350.5" y="1066.1" font-size="34" text-anchor="middle">20</text>
<text x="1943.6" y="1034" font-size="34" text-anchor="end">6</text>
<text x="1943.6" y="911.2" font-size="34" text-anchor="end">12</text>
<text x="1943.6" y="788.5" font-size="34" text-anchor="end">18</text>
<text x="2153.3" y="1117.8" font-size="41" text-anchor="middle">Time (ns)</text>
<text transform="translate(1885.3,952) rotate(-90)" font-size="42"><tspan font-style="italic">R</tspan><tspan dx="2" dy="16.4" font-size="25">g</tspan><tspan dy="-16.4"> (Å)</tspan></text>
<path d="M355.5 2031.4V2018.4M355.5 1501V1514M605.6 2031.4V2018.4M605.6 1501V1514M855.8 2031.4V2018.4M855.8 1501V1514" stroke="#1a1a1a" stroke-width="2.4" fill="none"/>
<path d="M521.8 2031.4V2027.5H526.7V2007.7H532.7V1987.1H538V1963.5H542.9V1925.7H547.3V1908.3H552.8V1917.5H557.4V1908.3H563.5V1908.3H569.1V1919.9H573.4V1925.7H578.3V1938.6H583.1V1934.2H588V1942.9H593.3V1945.9H598.9V1948.3H603.7V1950H607.8V1948.3H613.4V1959.2H618.3V1962.1H622.4V1960.4H628.4V1967.2H634V1978.1H639.3V1979.3H644.2V1985.8H650.7V1982.9H655.1V1978.6H658.7V1976.9H664.8V1976.1H669.6V1975.7H674.5V1979.3H681.3V1979.8H686.6V1976.9H693.9V1986.8H698.7V1983.4H704.3V1993.6H709.1V1999.2H713.3V1998.4H718.8V2005.2H724.2V2007.2H729V2009.6H734.6V2013.7H738.7V2010.6H743.6V2014.9H749.1V2020.5H754V2021.2H759.3V2021.2H764.2V2022.7H769V2024.1H775.1V2023.4H782.3V2026.1H789.6V2025.8H802.9V2027.5H812.6V2029.9H822.3V2029.5H834.4V2029.7H849V2029H856.2V2030.4H868.4V2031.4Z" fill="#ff0000"/>
<rect x="105.3" y="1501" width="1000.7" height="530.4" fill="none" stroke="#1a1a1a" stroke-width="2.8"/>
<text x="110.8" y="2080.9" font-size="48" text-anchor="middle">0</text>
<text x="361" y="2080.9" font-size="48" text-anchor="middle">5</text>
<text x="612.6" y="2080.9" font-size="48" text-anchor="middle">10</text>
<text x="862.8" y="2080.9" font-size="48" text-anchor="middle">15</text>
<text x="1111.5" y="2080.9" font-size="48" text-anchor="middle">20</text>
<text x="565.1" y="2160.2" font-size="53"><tspan font-style="italic">R</tspan><tspan dx="2" dy="21.6" font-size="30">g</tspan><tspan dy="-21.6"> (Å)</tspan></text>
<text transform="translate(64.3,1958.2) rotate(-90)" font-size="54.5" textLength="413" lengthAdjust="spacingAndGlyphs">Normalized Counts</text>
<text x="157" y="1586.5" font-size="57" textLength="286.3" lengthAdjust="spacingAndGlyphs">poly(MeGE)</text>
<text x="158" y="1653.8" font-size="57">323 K</text>
<path d="M680.4 1676.4 680.8 1684.4 681.3 1683.9 681.7 1682.9 682.1 1684.1 682.6 1688.0 683.0 1687.7 683.4 1695.0 683.9 1697.0 684.3 1695.7 684.7 1697.0 685.2 1699.5 685.6 1695.8 686.0 1700.2 686.5 1699.8 686.9 1699.3 687.3 1702.8 687.8 1708.0 688.2 1707.3 688.6 1705.2 689.1 1707.0 689.5 1710.2 689.9 1707.6 690.4 1714.9 690.8 1709.8 691.2 1709.0 691.7 1708.2 692.1 1708.0 692.5 1712.8 693.0 1709.6 693.4 1707.0 693.8 1711.7 694.3 1711.1 694.7 1707.1 695.1 1707.0 695.6 1708.0 696.0 1709.5 696.4 1709.2 696.9 1705.8 697.3 1707.4 697.8 1703.7 698.2 1703.0 698.6 1704.9 699.1 1700.9 699.5 1703.6 699.9 1701.8 700.4 1702.6 700.8 1700.9 701.2 1695.6 701.7 1695.3 702.1 1695.6 702.5 1700.8 703.0 1694.9 703.4 1694.2 703.8 1690.8 704.3 1693.5 704.7 1696.3 705.1 1697.7 705.6 1689.3 706.0 1696.5 706.4 1686.2 706.9 1694.0 707.3 1692.0 707.7 1687.0 708.2 1682.6 708.6 1689.5 709.0 1685.8 709.5 1684.3 709.9 1683.0 710.3 1684.1 710.8 1681.2 711.2 1681.1 711.6 1674.1 712.1 1679.5 712.5 1675.8 712.9 1674.2 713.4 1673.2 713.8 1675.4 714.2 1678.9 714.7 1671.6 715.1 1670.8 715.5 1670.6 716.0 1672.9 716.4 1667.8 716.8 1667.2 717.3 1665.7 717.7 1662.2 718.1 1664.8 718.6 1664.7 719.0 1664.6 719.4 1665.1 719.9 1662.0 720.3 1660.7 720.7 1656.8 721.2 1654.6 721.6 1656.6 722.0 1654.8 722.5 1660.2 722.9 1659.5 723.3 1664.3 723.8 1659.3 724.2 1663.1 724.6 1664.1 725.1 1667.3 725.5 1658.3 725.9 1663.8 726.4 1661.8 726.8 1661.6 727.2 1659.9 727.7 1652.3 728.1 1650.5 728.5 1649.7 729.0 1651.3 729.4 1645.9 729.9 1647.6 730.3 1650.1 730.7 1648.2 731.2 1644.2 731.6 1648.8 732.0 1642.2 732.5 1644.5 732.9 1652.0 733.3 1654.4 733.8 1656.7 734.2 1657.8 734.6 1662.9 735.1 1662.6 735.5 1668.8 735.9 1667.9 736.4 1668.9 736.8 1669.7 737.2 1673.9 737.7 1672.4 738.1 1675.2 738.5 1674.4 739.0 1676.2 739.4 1673.8 739.8 1678.2 740.3 1678.5 740.7 1679.0 741.1 1683.9 741.6 1681.8 742.0 1678.5 742.4 1683.8 742.9 1689.5 743.3 1685.9 743.7 1688.5 744.2 1687.9 744.6 1685.5 745.0 1691.2 745.5 1682.4 745.9 1680.4 746.3 1679.9 746.8 1679.7 747.2 1675.3 747.6 1673.7 748.1 1673.4 748.5 1665.3 748.9 1664.8 749.4 1661.5 749.8 1659.6 750.2 1656.4 750.7 1653.4 751.1 1646.6 751.5 1653.9 752.0 1646.0 752.4 1634.3 752.8 1642.4 753.3 1633.2 753.7 1629.7 754.1 1619.3 754.6 1619.3 755.0 1612.9 755.4 1606.9 755.9 1605.2 756.3 1600.6 756.7 1595.2 757.2 1591.6 757.6 1585.8 758.0 1589.6 758.5 1591.3 758.9 1597.3 759.3 1598.2 759.8 1602.8 760.2 1604.0 760.6 1602.3 761.1 1607.0 761.5 1616.2 762.0 1616.4 762.4 1611.1 762.8 1611.3 763.3 1612.8 763.7 1613.4 764.1 1619.1 764.6 1625.6 765.0 1621.6 765.4 1626.9 765.9 1631.9 766.3 1635.0 766.7 1638.0 767.2 1641.2 767.6 1639.2 768.0 1635.5 768.5 1640.9 768.9 1643.5 769.3 1639.4 769.8 1636.9 770.2 1641.4 770.6 1638.3 771.1 1635.1 771.5 1639.2 771.9 1639.8 772.4 1634.0 772.8 1636.2 773.2 1635.1 773.7 1629.7 774.1 1630.6 774.5 1634.6 775.0 1633.5 775.4 1639.1 775.8 1634.3 776.3 1632.6 776.7 1636.7 777.1 1638.7 777.6 1640.7 778.0 1635.1 778.4 1636.6 778.9 1639.8 779.3 1635.5 779.7 1634.3 780.2 1635.8 780.6 1639.0 781.0 1632.2 781.5 1632.6 781.9 1636.2 782.3 1636.4 782.8 1636.7 783.2 1642.2 783.6 1639.4 784.1 1648.5 784.5 1645.3 784.9 1647.5 785.4 1648.4 785.8 1656.4 786.2 1657.4 786.7 1656.0 787.1 1659.7 787.5 1663.3 788.0 1665.1 788.4 1663.8 788.8 1676.6 789.3 1680.6 789.7 1679.8 790.1 1682.5 790.6 1685.0 791.0 1697.2 791.4 1699.3 791.9 1702.0 792.3 1696.5 792.7 1692.9 793.2 1689.0 793.6 1688.6 794.0 1684.7 794.5 1686.4 794.9 1680.3 795.4 1679.0 795.8 1685.1 796.2 1681.6 796.7 1688.5 797.1 1686.4 797.5 1685.0 798.0 1683.8 798.4 1685.3 798.8 1688.9 799.3 1689.3 799.7 1688.5 800.1 1690.5 800.6 1694.6 801.0 1694.3 801.4 1693.3 801.9 1697.4 802.3 1697.0 802.7 1690.0 803.2 1688.2 803.6 1688.3 804.0 1686.3 804.5 1682.5 804.9 1679.0 805.3 1678.2 805.8 1675.0 806.2 1674.9 806.6 1675.7 807.1 1669.4 807.5 1673.6 807.9 1670.1 808.4 1673.6 808.8 1674.5 809.2 1672.3 809.7 1667.6 810.1 1668.1 810.5 1665.8 811.0 1665.8 811.4 1667.0 811.8 1661.3 812.3 1665.4 812.7 1662.9 813.1 1661.9 813.6 1664.7 814.0 1657.9 814.4 1659.8 814.9 1654.9 815.3 1656.4 815.7 1656.6 816.2 1648.9 816.6 1657.0 817.0 1655.0 817.5 1655.2 817.9 1652.3 818.3 1657.7 818.8 1657.3 819.2 1663.5 819.6 1660.2 820.1 1662.6 820.5 1662.8 820.9 1666.1 821.4 1664.1 821.8 1665.0 822.2 1671.9 822.7 1668.5 823.1 1671.0 823.5 1665.5 824.0 1667.0 824.4 1668.1 824.8 1662.1 825.3 1662.2 825.7 1664.0 826.1 1659.9 826.6 1658.1 827.0 1666.0 827.5 1665.7 827.9 1664.6 828.3 1664.6 828.8 1666.4 829.2 1664.3 829.6 1667.2 830.1 1669.4 830.5 1665.2 830.9 1664.0 831.4 1668.5 831.8 1666.5 832.2 1670.0 832.7 1673.0 833.1 1663.6 833.5 1667.5 834.0 1666.9 834.4 1670.2 834.8 1669.0 835.3 1674.6 835.7 1674.6 836.1 1677.4 836.6 1676.5 837.0 1678.5 837.4 1681.6 837.9 1683.6 838.3 1683.6 838.7 1683.8 839.2 1689.3 839.6 1688.7 840.0 1697.3 840.5 1698.3 840.9 1702.0 841.3 1703.0 841.8 1709.2 842.2 1709.2 842.6 1710.8 843.1 1709.7 843.5 1712.8 843.9 1709.8 844.4 1711.1 844.8 1708.1 845.2 1713.7 845.7 1710.8 846.1 1710.8 846.5 1711.9 847.0 1711.8 847.4 1712.7 847.8 1715.2 848.3 1711.5 848.7 1711.7 849.1 1713.8 849.6 1712.4 850.0 1711.4 850.4 1711.5 850.9 1711.1 851.3 1706.9 851.7 1707.4 852.2 1704.6 852.6 1703.6 853.0 1704.6 853.5 1698.5 853.9 1704.7 854.3 1704.0 854.8 1706.1 855.2 1704.7 855.6 1704.0 856.1 1696.4 856.5 1696.8 856.9 1698.7 857.4 1699.4 857.8 1694.2 858.2 1693.7 858.7 1697.4 859.1 1698.3 859.6 1693.7 860.0 1691.2 860.4 1695.4 860.9 1701.1 861.3 1696.6 861.7 1695.0 862.2 1700.6 862.6 1693.2 863.0 1692.9 863.5 1695.8 863.9 1694.2 864.3 1688.3 864.8 1688.6 865.2 1689.7 865.6 1688.6 866.1 1687.9 866.5 1691.2 866.9 1686.6 867.4 1691.3 867.8 1686.4 868.2 1686.5 868.7 1685.4 869.1 1686.9 869.5 1683.6 870.0 1682.7 870.4 1688.0 870.8 1686.4 871.3 1686.6 871.7 1686.5 872.1 1685.4 872.6 1686.1 873.0 1690.3 873.4 1691.1 873.9 1687.1 874.3 1692.0 874.7 1692.4 875.2 1688.8 875.6 1693.3 876.0 1694.0 876.5 1693.9 876.9 1697.6 877.3 1695.9 877.8 1700.6 878.2 1699.0 878.6 1695.2 879.1 1698.4 879.5 1696.4 879.9 1695.6 880.4 1698.5 880.8 1699.4 881.2 1697.2 881.7 1696.8 882.1 1695.2 882.5 1699.6 883.0 1697.9 883.4 1690.8 883.8 1694.6 884.3 1695.7 884.7 1695.2 885.1 1692.7 885.6 1691.2 886.0 1691.1 886.4 1692.6 886.9 1690.9 887.3 1691.0 887.7 1693.8 888.2 1693.4 888.6 1695.4 889.0 1697.4 889.5 1699.3 889.9 1704.4 890.3 1703.9 890.8 1703.9 891.2 1706.7 891.6 1712.2 892.1 1708.8 892.5 1710.6 893.0 1705.7 893.4 1712.1 893.8 1715.9 894.3 1713.7 894.7 1718.2 895.1 1713.6 895.6 1715.5 896.0 1715.9 896.4 1718.0 896.9 1719.3 897.3 1715.0 897.7 1716.7 898.2 1718.4 898.6 1723.4 899.0 1715.0 899.5 1717.8 899.9 1722.4 900.3 1720.8 900.8 1718.3 901.2 1720.0 901.6 1714.7 902.1 1716.5 902.5 1714.0 902.9 1714.2 903.4 1718.7 903.8 1715.9 904.2 1720.1 904.7 1718.7 905.1 1719.3 905.5 1721.4 906.0 1720.2 906.4 1716.9 906.8 1718.9 907.3 1715.8 907.7 1719.4 908.1 1718.3 908.6 1721.0 909.0 1719.1 909.4 1721.8 909.9 1719.5 910.3 1719.0 910.7 1718.1 911.2 1717.5 911.6 1720.6 912.0 1718.0 912.5 1716.9 912.9 1717.4 913.3 1722.9 913.8 1723.8 914.2 1716.9 914.6 1718.5 915.1 1719.9 915.5 1716.1 915.9 1715.8 916.4 1714.1 916.8 1718.0 917.2 1716.9 917.7 1714.7 918.1 1713.3 918.5 1713.2 919.0 1717.1 919.4 1716.1 919.8 1716.6 920.3 1718.0 920.7 1719.1 921.1 1717.8 921.6 1718.8 922.0 1715.9 922.4 1714.4 922.9 1713.6 923.3 1716.6 923.7 1714.7 924.2 1709.7 924.6 1710.8 925.1 1709.6 925.5 1710.8 925.9 1712.3 926.4 1708.1 926.8 1710.4 927.2 1709.8 927.7 1706.2 928.1 1708.3 928.5 1702.8 929.0 1710.7 929.4 1707.5 929.8 1707.0 930.3 1707.6 930.7 1707.6 931.1 1711.5 931.6 1714.6 932.0 1711.2 932.4 1716.5 932.9 1713.4 933.3 1716.0 933.7 1715.4 934.2 1721.3 934.6 1720.7 935.0 1717.9 935.5 1715.5 935.9 1711.4 936.3 1717.6 936.8 1715.7 937.2 1719.0 937.6 1713.9 938.1 1715.2 938.5 1709.4 938.9 1708.7 939.4 1711.3 939.8 1712.3 940.2 1712.2 940.7 1710.7 941.1 1712.1 941.5 1711.0 942.0 1714.1 942.4 1710.8 942.8 1713.3 943.3 1715.8 943.7 1713.4 944.1 1708.5 944.6 1710.7 945.0 1707.6 945.4 1711.7 945.9 1705.1 946.3 1706.3 946.7 1708.8 947.2 1707.4 947.6 1704.2 948.0 1703.8 948.5 1705.6 948.9 1705.5 949.3 1699.5 949.8 1699.6 950.2 1704.2 950.6 1696.8 951.1 1700.8 951.5 1699.1 951.9 1696.6 952.4 1701.7 952.8 1699.6 953.2 1702.4 953.7 1706.0 954.1 1707.9 954.5 1704.6 955.0 1705.0 955.4 1710.5 955.8 1706.0 956.3 1702.6 956.7 1705.2 957.2 1707.8 957.6 1707.1 958.0 1711.0 958.5 1702.5 958.9 1706.5 959.3 1702.6 959.8 1700.6 960.2 1702.3 960.6 1706.6 961.1 1705.8 961.5 1707.0 961.9 1704.4 962.4 1706.9 962.8 1709.3 963.2 1708.7 963.7 1706.3 964.1 1706.2 964.5 1706.3 965.0 1712.6 965.4 1711.9 965.8 1707.9 966.3 1711.5 966.7 1710.5 967.1 1712.0 967.6 1709.1 968.0 1708.6 968.4 1705.9 968.9 1710.4 969.3 1708.5 969.7 1707.0 970.2 1707.0 970.6 1705.0 971.0 1709.0 971.5 1706.1 971.9 1706.0 972.3 1703.4 972.8 1699.3 973.2 1699.7 973.6 1694.9 974.1 1696.0 974.5 1694.4 974.9 1689.1 975.4 1694.6 975.8 1696.9 976.2 1697.7 976.7 1708.6 977.1 1711.8 977.5 1714.5 978.0 1712.0 978.4 1712.4 978.8 1712.6 979.3 1714.7 979.7 1713.2 980.1 1718.2 980.6 1715.5 981.0 1710.7 981.4 1719.2 981.9 1719.8 982.3 1712.4 982.7 1714.6 983.2 1714.3 983.6 1714.2 984.0 1713.7 984.5 1712.6 984.9 1709.6 985.3 1715.9 985.8 1718.3 986.2 1717.5 986.6 1711.5 987.1 1708.7 987.5 1714.3 987.9 1711.9 988.4 1715.9 988.8 1718.1 989.2 1717.8 989.7 1717.8 990.1 1714.7 990.6 1712.9 991.0 1718.2 991.4 1716.6 991.9 1715.1 992.3 1714.1 992.7 1707.0 993.2 1709.6 993.6 1718.7 994.0 1710.8 994.5 1713.5 994.9 1714.6 995.3 1713.5 995.8 1710.9 996.2 1710.2 996.6 1708.9 997.1 1711.9 997.5 1712.9 997.9 1709.1 998.4 1711.4 998.8 1707.9 999.2 1706.7 999.7 1701.8 1000.1 1705.3 1000.5 1704.9 1001.0 1699.4 1001.4 1702.5 1001.8 1697.5 1002.3 1702.2 1002.7 1699.6 1003.1 1698.9 1003.6 1704.0 1004.0 1703.0 1004.4 1700.1 1004.9 1703.1 1005.3 1704.5 1005.7 1702.5 1006.2 1700.1 1006.6 1706.1 1007.0 1700.7 1007.5 1706.9 1007.9 1704.0 1008.3 1704.8 1008.8 1703.5 1009.2 1705.2 1009.6 1708.7 1010.1 1703.6 1010.5 1707.4 1010.9 1707.7 1011.4 1705.6 1011.8 1707.2 1012.2 1709.4 1012.7 1709.1 1013.1 1704.9 1013.5 1706.9 1014.0 1707.5 1014.4 1707.1 1014.8 1708.1 1015.3 1706.0 1015.7 1703.1 1016.1 1707.0 1016.6 1703.7 1017.0 1708.0 1017.4 1701.8 1017.9 1709.1 1018.3 1705.5 1018.7 1706.6 1019.2 1703.8 1019.6 1706.0 1020.0 1703.7 1020.5 1705.7 1020.9 1704.1 1021.3 1706.3 1021.8 1704.3 1022.2 1704.6 1022.7 1698.5 1023.1 1701.5 1023.5 1699.1 1024.0 1698.6 1024.4 1698.3 1024.8 1694.2 1025.3 1689.3 1025.7 1694.2 1026.1 1687.9 1026.6 1688.1 1027.0 1692.7 1027.4 1689.1 1027.9 1693.2 1028.3 1694.6 1028.7 1697.3 1029.2 1697.1 1029.6 1697.7 1030.0 1695.8 1030.5 1701.0 1030.9 1700.3 1031.3 1703.1 1031.8 1704.7 1032.2 1703.1 1032.6 1704.5 1033.1 1706.5 1033.5 1703.0 1033.9 1704.6 1034.4 1707.0 1034.8 1706.2 1035.2 1701.0 1035.7 1699.5 1036.1 1704.4 1036.5 1702.0 1037.0 1702.1 1037.4 1704.2 1037.8 1701.5 1038.3 1705.9 1038.7 1701.1 1039.1 1702.7 1039.6 1704.1 1040.0 1706.3 1040.4 1705.1 1040.9 1703.9 1041.3 1705.7 1041.7 1707.7 1042.2 1700.2 1042.6 1700.4 1043.0 1707.1 1043.5 1705.4 1043.9 1709.0 1044.3 1704.8 1044.8 1701.6 1045.2 1706.7 1045.6 1701.9 1046.1 1702.1 1046.5 1706.7 1046.9 1702.2 1047.4 1701.3 1047.8 1701.4 1048.2 1702.5 1048.7 1702.8 1049.1 1700.1 1049.5 1703.3 1050.0 1703.2 1050.4 1698.4 1050.8 1698.0 1051.3 1696.1 1051.7 1696.4 1052.1 1696.0 1052.6 1695.1 1053.0 1694.9 1053.4 1690.7 1053.9 1688.0 1054.3 1693.1 1054.8 1693.3 1055.2 1695.9 1055.6 1697.3 1056.1 1695.1 1056.5 1695.6 1056.9 1697.7 1057.4 1703.0 1057.8 1700.4 1058.2 1701.3 1058.7 1698.6 1059.1 1701.2 1059.5 1702.9 1060.0 1706.3 1060.4 1701.6 1060.8 1700.8 1061.3 1693.9 1061.7 1701.6 1062.1 1699.7 1062.6 1694.8 1063.0 1698.1 1063.4 1697.7 1063.9 1695.8 1064.3 1700.9 1064.7 1697.6 1065.2 1700.2 1065.6 1705.9 1066.0 1700.8 1066.5 1698.9 1066.9 1704.0 1067.3 1705.0 1067.8 1699.9 1068.2 1706.9 1068.6 1704.5 1069.1 1704.8 1069.5 1708.2 1069.9 1706.7 1070.4 1713.9 1070.8 1714.6" fill="none" stroke="#ff0000" stroke-width="2.6" stroke-linejoin="round"/>
<rect x="680.4" y="1522" width="390.4" height="245.5" fill="none" stroke="#111" stroke-width="2.8"/>
<path d="M778 1767.5V1754.5M778 1522V1535M875.6 1767.5V1754.5M875.6 1522V1535M973.2 1767.5V1754.5M973.2 1522V1535M680.4 1644.8H693.4M1070.8 1644.8H1057.8" stroke="#111" stroke-width="2.3" fill="none"/>
<text x="683.4" y="1812.8" font-size="34" text-anchor="middle">0</text>
<text x="781" y="1812.8" font-size="34" text-anchor="middle">5</text>
<text x="878.6" y="1812.8" font-size="34" text-anchor="middle">10</text>
<text x="976.2" y="1812.8" font-size="34" text-anchor="middle">15</text>
<text x="1073.8" y="1812.8" font-size="34" text-anchor="middle">20</text>
<text x="666.9" y="1780.7" font-size="34" text-anchor="end">6</text>
<text x="666.9" y="1658" font-size="34" text-anchor="end">12</text>
<text x="666.9" y="1535.2" font-size="34" text-anchor="end">18</text>
<text x="876.6" y="1864.5" font-size="41" text-anchor="middle">Time (ns)</text>
<text transform="translate(608.6,1698.7) rotate(-90)" font-size="42"><tspan font-style="italic">R</tspan><tspan dx="2" dy="16.4" font-size="25">g</tspan><tspan dy="-16.4"> (Å)</tspan></text>
<path d="M1632.3 2023.7V2010.7M1632.3 1494.1V1507.1M1882.5 2023.7V2010.7M1882.5 1494.1V1507.1M2132.8 2023.7V2010.7M2132.8 1494.1V1507.1" stroke="#1a1a1a" stroke-width="2.4" fill="none"/>
<path d="M1778.2 2023.7V2018.3H1784.9V2014.5H1789.7V2002.7H1794.4V1979.1H1799.2V1947.9H1804.4V1904.5H1809.7V1866.2H1815.1V1842.3H1819.7V1839.5H1824.7V1827.6H1829.8V1826.1H1835V1833.1H1840.4V1842.3H1845.7V1855.7H1850.9V1871.4H1855.7V1889.2H1860.4V1908.3H1865.2V1914.1H1870.6V1932.6H1875.8V1942.8H1880.9V1952.3H1886.3V1964.4H1891.1V1974.7H1895.8V1979.1H1906.4V1984.9H1911.1V1995.4H1916.5V2002.1H1925.5V2010.7H1931.2V2012.6H1940.8V2014.1H1949.4V2012.2H1959.9V2016.4H1970.5V2019.9H1978.1V2021.8H1984.8V2019.9H1991.5V2018.9H2004.9V2021.2H2014.5V2022.7H2037.4V2023.3H2060V2023.7Z" fill="#0000ff"/>
<rect x="1382" y="1494.1" width="1001.1" height="529.6" fill="none" stroke="#1a1a1a" stroke-width="2.8"/>
<text x="1387.5" y="2073.2" font-size="48" text-anchor="middle">0</text>
<text x="1637.8" y="2073.2" font-size="48" text-anchor="middle">5</text>
<text x="1889.5" y="2073.2" font-size="48" text-anchor="middle">10</text>
<text x="2139.8" y="2073.2" font-size="48" text-anchor="middle">15</text>
<text x="2388.6" y="2073.2" font-size="48" text-anchor="middle">20</text>
<text x="1841.8" y="2152.5" font-size="53"><tspan font-style="italic">R</tspan><tspan dx="2" dy="21.6" font-size="30">g</tspan><tspan dy="-21.6"> (Å)</tspan></text>
<text transform="translate(1342,1948.9) rotate(-90)" font-size="54.5" textLength="413" lengthAdjust="spacingAndGlyphs">Normalized Counts</text>
<text x="1458.7" y="1586.7" font-size="57" textLength="260.6" lengthAdjust="spacingAndGlyphs">poly(EtGE)</text>
<text x="1459.7" y="1654" font-size="57">323 K</text>
<path d="M1957.1 1707.9 1957.5 1704.7 1958.0 1705.0 1958.4 1703.4 1958.8 1708.3 1959.3 1708.1 1959.7 1707.6 1960.1 1709.5 1960.6 1709.2 1961.0 1708.8 1961.4 1706.4 1961.9 1708.3 1962.3 1703.1 1962.7 1708.0 1963.2 1709.1 1963.6 1708.0 1964.0 1706.7 1964.5 1706.3 1964.9 1708.7 1965.3 1711.8 1965.8 1710.0 1966.2 1710.3 1966.6 1707.6 1967.1 1705.7 1967.5 1710.8 1967.9 1707.2 1968.4 1712.3 1968.8 1711.7 1969.2 1709.5 1969.7 1712.3 1970.1 1710.0 1970.5 1712.9 1971.0 1711.7 1971.4 1712.0 1971.8 1710.5 1972.3 1715.5 1972.7 1712.7 1973.1 1712.6 1973.6 1712.9 1974.0 1712.6 1974.5 1713.5 1974.9 1707.0 1975.3 1713.6 1975.8 1709.4 1976.2 1707.4 1976.6 1708.0 1977.1 1704.4 1977.5 1700.1 1977.9 1701.2 1978.4 1701.2 1978.8 1696.0 1979.2 1697.2 1979.7 1695.1 1980.1 1698.1 1980.5 1693.4 1981.0 1693.9 1981.4 1693.4 1981.8 1692.2 1982.3 1690.6 1982.7 1690.4 1983.1 1690.2 1983.6 1691.9 1984.0 1692.3 1984.4 1689.6 1984.9 1686.5 1985.3 1689.9 1985.7 1686.1 1986.2 1683.2 1986.6 1679.1 1987.0 1681.6 1987.5 1683.9 1987.9 1681.7 1988.3 1681.5 1988.8 1678.1 1989.2 1677.3 1989.6 1678.4 1990.1 1679.8 1990.5 1681.4 1990.9 1683.5 1991.4 1683.5 1991.8 1680.1 1992.2 1683.1 1992.7 1687.1 1993.1 1683.3 1993.5 1686.3 1994.0 1693.0 1994.4 1690.6 1994.8 1693.7 1995.3 1684.4 1995.7 1689.5 1996.1 1693.7 1996.6 1686.4 1997.0 1691.8 1997.4 1689.2 1997.9 1691.9 1998.3 1691.8 1998.7 1687.5 1999.2 1689.5 1999.6 1696.3 2000.0 1692.7 2000.5 1694.5 2000.9 1693.1 2001.3 1696.0 2001.8 1690.9 2002.2 1691.2 2002.6 1691.1 2003.1 1690.6 2003.5 1697.2 2003.9 1695.5 2004.4 1693.3 2004.8 1697.9 2005.2 1696.7 2005.7 1699.2 2006.1 1701.2 2006.6 1700.5 2007.0 1704.9 2007.4 1704.1 2007.9 1703.8 2008.3 1702.3 2008.7 1703.8 2009.2 1701.9 2009.6 1701.3 2010.0 1699.9 2010.5 1701.8 2010.9 1704.3 2011.3 1707.4 2011.8 1700.6 2012.2 1702.0 2012.6 1704.2 2013.1 1698.7 2013.5 1700.3 2013.9 1700.7 2014.4 1699.6 2014.8 1704.4 2015.2 1704.4 2015.7 1705.1 2016.1 1701.3 2016.5 1696.6 2017.0 1703.9 2017.4 1704.9 2017.8 1703.4 2018.3 1699.0 2018.7 1702.2 2019.1 1701.2 2019.6 1702.5 2020.0 1702.8 2020.4 1704.0 2020.9 1702.1 2021.3 1702.0 2021.7 1701.9 2022.2 1698.6 2022.6 1700.9 2023.0 1702.2 2023.5 1702.6 2023.9 1701.7 2024.3 1699.0 2024.8 1704.0 2025.2 1702.3 2025.6 1697.0 2026.1 1702.3 2026.5 1700.7 2026.9 1699.2 2027.4 1693.2 2027.8 1696.0 2028.2 1699.4 2028.7 1701.1 2029.1 1701.7 2029.5 1704.9 2030.0 1698.7 2030.4 1697.9 2030.8 1700.3 2031.3 1705.2 2031.7 1703.2 2032.1 1705.5 2032.6 1708.4 2033.0 1705.8 2033.4 1703.3 2033.9 1707.2 2034.3 1708.8 2034.7 1712.6 2035.2 1711.3 2035.6 1711.3 2036.0 1710.6 2036.5 1712.3 2036.9 1712.2 2037.3 1708.3 2037.8 1710.6 2038.2 1710.0 2038.7 1713.6 2039.1 1712.2 2039.5 1708.2 2040.0 1708.5 2040.4 1709.4 2040.8 1709.2 2041.3 1711.0 2041.7 1709.3 2042.1 1708.7 2042.6 1711.1 2043.0 1712.6 2043.4 1710.6 2043.9 1713.2 2044.3 1707.3 2044.7 1713.1 2045.2 1714.5 2045.6 1708.5 2046.0 1711.9 2046.5 1718.9 2046.9 1714.7 2047.3 1708.5 2047.8 1711.9 2048.2 1715.5 2048.6 1712.8 2049.1 1710.0 2049.5 1709.5 2049.9 1707.1 2050.4 1712.1 2050.8 1708.8 2051.2 1708.7 2051.7 1705.0 2052.1 1706.5 2052.5 1705.9 2053.0 1704.3 2053.4 1708.9 2053.8 1705.6 2054.3 1705.8 2054.7 1705.2 2055.1 1706.6 2055.6 1700.8 2056.0 1702.1 2056.4 1699.5 2056.9 1702.5 2057.3 1701.9 2057.7 1700.3 2058.2 1697.6 2058.6 1698.9 2059.0 1697.8 2059.5 1697.2 2059.9 1699.3 2060.3 1696.5 2060.8 1696.9 2061.2 1698.4 2061.6 1696.7 2062.1 1697.6 2062.5 1696.4 2062.9 1697.0 2063.4 1694.7 2063.8 1696.6 2064.2 1694.2 2064.7 1693.0 2065.1 1691.5 2065.5 1691.7 2066.0 1691.2 2066.4 1693.5 2066.8 1690.0 2067.3 1695.1 2067.7 1691.1 2068.1 1698.7 2068.6 1695.6 2069.0 1696.0 2069.4 1695.0 2069.9 1700.0 2070.3 1696.5 2070.7 1696.2 2071.2 1696.5 2071.6 1695.1 2072.1 1696.8 2072.5 1697.2 2072.9 1698.7 2073.4 1698.5 2073.8 1696.7 2074.2 1699.9 2074.7 1695.4 2075.1 1691.2 2075.5 1696.8 2076.0 1695.0 2076.4 1690.4 2076.8 1694.7 2077.3 1697.1 2077.7 1697.8 2078.1 1698.9 2078.6 1697.4 2079.0 1696.7 2079.4 1698.0 2079.9 1696.7 2080.3 1702.7 2080.7 1697.6 2081.2 1699.0 2081.6 1697.9 2082.0 1695.5 2082.5 1700.1 2082.9 1693.2 2083.3 1690.7 2083.8 1696.0 2084.2 1692.9 2084.6 1692.8 2085.1 1694.3 2085.5 1690.7 2085.9 1692.5 2086.4 1692.9 2086.8 1689.6 2087.2 1689.8 2087.7 1694.9 2088.1 1692.8 2088.5 1691.7 2089.0 1690.2 2089.4 1693.4 2089.8 1698.8 2090.3 1695.4 2090.7 1692.6 2091.1 1691.5 2091.6 1688.9 2092.0 1693.4 2092.4 1692.3 2092.9 1691.7 2093.3 1691.1 2093.7 1684.7 2094.2 1689.2 2094.6 1685.9 2095.0 1689.3 2095.5 1688.9 2095.9 1684.4 2096.3 1683.8 2096.8 1686.5 2097.2 1687.6 2097.6 1684.6 2098.1 1682.8 2098.5 1685.2 2098.9 1687.3 2099.4 1686.4 2099.8 1687.9 2100.2 1688.0 2100.7 1687.1 2101.1 1689.9 2101.5 1688.2 2102.0 1685.4 2102.4 1680.0 2102.8 1684.9 2103.3 1684.9 2103.7 1690.2 2104.2 1686.4 2104.6 1684.1 2105.0 1682.8 2105.5 1684.2 2105.9 1686.2 2106.3 1686.1 2106.8 1687.0 2107.2 1687.1 2107.6 1685.8 2108.1 1683.8 2108.5 1686.5 2108.9 1683.4 2109.4 1683.7 2109.8 1683.7 2110.2 1684.0 2110.7 1685.2 2111.1 1685.7 2111.5 1680.8 2112.0 1685.6 2112.4 1685.2 2112.8 1679.9 2113.3 1683.2 2113.7 1682.3 2114.1 1682.9 2114.6 1680.0 2115.0 1676.7 2115.4 1680.0 2115.9 1681.0 2116.3 1678.4 2116.7 1681.8 2117.2 1680.1 2117.6 1679.4 2118.0 1681.2 2118.5 1685.6 2118.9 1687.7 2119.3 1686.3 2119.8 1691.5 2120.2 1690.9 2120.6 1695.4 2121.1 1697.4 2121.5 1694.6 2121.9 1691.1 2122.4 1692.8 2122.8 1690.9 2123.2 1688.0 2123.7 1689.8 2124.1 1682.8 2124.5 1689.3 2125.0 1682.8 2125.4 1681.3 2125.8 1680.2 2126.3 1678.1 2126.7 1677.5 2127.1 1677.3 2127.6 1682.6 2128.0 1686.2 2128.4 1683.9 2128.9 1684.9 2129.3 1690.8 2129.7 1683.6 2130.2 1695.0 2130.6 1690.4 2131.0 1692.3 2131.5 1694.5 2131.9 1687.5 2132.3 1687.9 2132.8 1685.3 2133.2 1681.5 2133.6 1680.7 2134.1 1680.3 2134.5 1679.7 2134.9 1674.3 2135.4 1680.2 2135.8 1682.0 2136.3 1675.6 2136.7 1679.2 2137.1 1677.7 2137.6 1677.1 2138.0 1675.4 2138.4 1678.6 2138.9 1676.2 2139.3 1677.7 2139.7 1675.6 2140.2 1680.1 2140.6 1672.5 2141.0 1675.5 2141.5 1672.6 2141.9 1674.2 2142.3 1674.1 2142.8 1668.0 2143.2 1669.0 2143.6 1672.7 2144.1 1667.9 2144.5 1657.4 2144.9 1652.8 2145.4 1652.4 2145.8 1649.7 2146.2 1652.7 2146.7 1654.9 2147.1 1660.2 2147.5 1660.8 2148.0 1664.3 2148.4 1670.1 2148.8 1672.0 2149.3 1677.7 2149.7 1677.6 2150.1 1678.4 2150.6 1679.3 2151.0 1682.4 2151.4 1680.6 2151.9 1686.0 2152.3 1685.7 2152.7 1686.4 2153.2 1690.4 2153.6 1690.1 2154.0 1696.7 2154.5 1698.5 2154.9 1697.4 2155.3 1694.0 2155.8 1701.9 2156.2 1708.3 2156.6 1703.2 2157.1 1702.6 2157.5 1699.3 2157.9 1706.4 2158.4 1705.4 2158.8 1700.7 2159.2 1707.6 2159.7 1704.5 2160.1 1703.9 2160.5 1706.6 2161.0 1703.2 2161.4 1703.7 2161.8 1705.8 2162.3 1705.4 2162.7 1702.9 2163.1 1710.2 2163.6 1710.7 2164.0 1703.7 2164.4 1701.4 2164.9 1703.5 2165.3 1707.3 2165.7 1707.6 2166.2 1703.3 2166.6 1701.8 2167.0 1706.7 2167.5 1704.9 2167.9 1701.7 2168.3 1700.8 2168.8 1703.7 2169.2 1707.2 2169.7 1703.9 2170.1 1699.3 2170.5 1702.2 2171.0 1702.9 2171.4 1699.0 2171.8 1701.9 2172.3 1702.7 2172.7 1705.6 2173.1 1706.6 2173.6 1704.1 2174.0 1703.2 2174.4 1700.0 2174.9 1706.5 2175.3 1707.2 2175.7 1706.7 2176.2 1709.7 2176.6 1704.0 2177.0 1705.0 2177.5 1704.0 2177.9 1705.5 2178.3 1701.4 2178.8 1701.8 2179.2 1697.4 2179.6 1699.1 2180.1 1699.5 2180.5 1702.6 2180.9 1701.2 2181.4 1695.9 2181.8 1696.8 2182.2 1698.3 2182.7 1701.1 2183.1 1699.4 2183.5 1699.3 2184.0 1695.6 2184.4 1698.9 2184.8 1697.6 2185.3 1691.6 2185.7 1693.8 2186.1 1689.8 2186.6 1686.3 2187.0 1689.7 2187.4 1687.2 2187.9 1687.4 2188.3 1694.6 2188.7 1694.0 2189.2 1695.9 2189.6 1700.8 2190.0 1700.7 2190.5 1703.7 2190.9 1704.7 2191.3 1702.6 2191.8 1702.2 2192.2 1698.2 2192.6 1691.7 2193.1 1696.3 2193.5 1693.2 2193.9 1694.4 2194.4 1688.6 2194.8 1682.4 2195.2 1683.5 2195.7 1684.6 2196.1 1686.4 2196.5 1681.4 2197.0 1679.6 2197.4 1681.6 2197.8 1680.8 2198.3 1680.2 2198.7 1679.6 2199.1 1678.4 2199.6 1678.7 2200.0 1680.0 2200.4 1683.5 2200.9 1677.8 2201.3 1681.9 2201.8 1686.4 2202.2 1688.2 2202.6 1686.0 2203.1 1688.6 2203.5 1688.3 2203.9 1687.7 2204.4 1685.8 2204.8 1689.5 2205.2 1686.5 2205.7 1688.3 2206.1 1685.8 2206.5 1686.0 2207.0 1679.6 2207.4 1685.9 2207.8 1685.3 2208.3 1685.2 2208.7 1681.1 2209.1 1683.4 2209.6 1681.3 2210.0 1686.4 2210.4 1685.0 2210.9 1680.3 2211.3 1687.5 2211.7 1681.7 2212.2 1688.3 2212.6 1685.1 2213.0 1682.4 2213.5 1682.7 2213.9 1687.2 2214.3 1684.6 2214.8 1687.8 2215.2 1686.1 2215.6 1686.4 2216.1 1685.9 2216.5 1685.0 2216.9 1686.8 2217.4 1684.2 2217.8 1686.7 2218.2 1683.1 2218.7 1680.3 2219.1 1683.0 2219.5 1684.3 2220.0 1687.2 2220.4 1686.7 2220.8 1685.0 2221.3 1685.1 2221.7 1685.8 2222.1 1682.6 2222.6 1684.6 2223.0 1685.7 2223.4 1679.9 2223.9 1681.1 2224.3 1684.9 2224.7 1678.8 2225.2 1680.8 2225.6 1682.2 2226.0 1682.4 2226.5 1680.4 2226.9 1684.0 2227.3 1684.6 2227.8 1681.0 2228.2 1683.2 2228.6 1683.7 2229.1 1687.5 2229.5 1687.8 2229.9 1687.2 2230.4 1685.3 2230.8 1684.2 2231.2 1682.3 2231.7 1682.2 2232.1 1682.3 2232.5 1682.9 2233.0 1682.9 2233.4 1681.0 2233.9 1684.3 2234.3 1679.8 2234.7 1684.1 2235.2 1686.0 2235.6 1682.2 2236.0 1685.9 2236.5 1686.1 2236.9 1686.7 2237.3 1691.8 2237.8 1688.2 2238.2 1689.6 2238.6 1688.6 2239.1 1685.1 2239.5 1683.5 2239.9 1679.4 2240.4 1679.0 2240.8 1678.6 2241.2 1666.5 2241.7 1667.9 2242.1 1668.5 2242.5 1672.9 2243.0 1677.4 2243.4 1678.0 2243.8 1684.5 2244.3 1690.8 2244.7 1688.0 2245.1 1693.3 2245.6 1688.6 2246.0 1685.9 2246.4 1689.0 2246.9 1692.3 2247.3 1694.8 2247.7 1693.3 2248.2 1691.7 2248.6 1693.6 2249.0 1691.0 2249.5 1693.6 2249.9 1693.6 2250.3 1691.1 2250.8 1692.8 2251.2 1697.2 2251.6 1698.5 2252.1 1695.3 2252.5 1697.6 2252.9 1699.7 2253.4 1699.9 2253.8 1701.8 2254.2 1703.0 2254.7 1702.5 2255.1 1703.9 2255.5 1698.9 2256.0 1702.6 2256.4 1703.4 2256.8 1702.9 2257.3 1703.2 2257.7 1708.4 2258.1 1706.3 2258.6 1707.3 2259.0 1705.1 2259.4 1712.6 2259.9 1708.6 2260.3 1699.2 2260.7 1703.1 2261.2 1705.7 2261.6 1699.5 2262.0 1704.1 2262.5 1704.4 2262.9 1701.8 2263.3 1704.0 2263.8 1696.8 2264.2 1699.5 2264.6 1699.9 2265.1 1694.8 2265.5 1693.9 2265.9 1696.8 2266.4 1700.0 2266.8 1695.9 2267.3 1700.0 2267.7 1699.8 2268.1 1698.4 2268.6 1699.8 2269.0 1701.1 2269.4 1700.6 2269.9 1695.8 2270.3 1696.4 2270.7 1693.8 2271.2 1697.4 2271.6 1698.8 2272.0 1695.8 2272.5 1693.6 2272.9 1692.8 2273.3 1694.9 2273.8 1694.2 2274.2 1693.0 2274.6 1690.5 2275.1 1698.3 2275.5 1691.1 2275.9 1691.4 2276.4 1690.6 2276.8 1693.3 2277.2 1692.0 2277.7 1687.4 2278.1 1682.4 2278.5 1689.1 2279.0 1685.6 2279.4 1687.1 2279.8 1683.6 2280.3 1684.2 2280.7 1678.6 2281.1 1677.0 2281.6 1674.5 2282.0 1675.0 2282.4 1672.1 2282.9 1671.5 2283.3 1666.2 2283.7 1668.0 2284.2 1667.8 2284.6 1664.1 2285.0 1663.0 2285.5 1665.9 2285.9 1664.5 2286.3 1662.4 2286.8 1670.1 2287.2 1666.0 2287.6 1666.2 2288.1 1667.6 2288.5 1670.7 2288.9 1667.4 2289.4 1670.4 2289.8 1672.2 2290.2 1673.4 2290.7 1672.3 2291.1 1667.2 2291.5 1678.3 2292.0 1668.8 2292.4 1672.3 2292.8 1671.0 2293.3 1670.8 2293.7 1673.0 2294.1 1670.4 2294.6 1671.3 2295.0 1676.8 2295.4 1669.5 2295.9 1667.3 2296.3 1670.8 2296.7 1671.4 2297.2 1674.9 2297.6 1671.8 2298.0 1672.3 2298.5 1674.7 2298.9 1676.6 2299.4 1673.3 2299.8 1679.7 2300.2 1679.6 2300.7 1684.5 2301.1 1682.4 2301.5 1687.7 2302.0 1686.4 2302.4 1691.8 2302.8 1691.4 2303.3 1690.5 2303.7 1689.6 2304.1 1688.3 2304.6 1687.4 2305.0 1685.0 2305.4 1685.8 2305.9 1679.1 2306.3 1681.2 2306.7 1678.2 2307.2 1680.6 2307.6 1682.4 2308.0 1683.7 2308.5 1690.1 2308.9 1691.6 2309.3 1688.4 2309.8 1687.9 2310.2 1687.0 2310.6 1691.8 2311.1 1696.1 2311.5 1698.6 2311.9 1696.2 2312.4 1701.4 2312.8 1705.3 2313.2 1701.7 2313.7 1703.8 2314.1 1703.6 2314.5 1707.2 2315.0 1708.3 2315.4 1710.8 2315.8 1710.2 2316.3 1708.9 2316.7 1706.8 2317.1 1708.7 2317.6 1711.1 2318.0 1709.4 2318.4 1707.1 2318.9 1707.9 2319.3 1704.6 2319.7 1706.5 2320.2 1705.5 2320.6 1701.9 2321.0 1701.7 2321.5 1699.0 2321.9 1699.3 2322.3 1697.1 2322.8 1702.5 2323.2 1699.0 2323.6 1696.5 2324.1 1698.3 2324.5 1698.6 2324.9 1695.7 2325.4 1695.6 2325.8 1693.3 2326.2 1688.9 2326.7 1690.4 2327.1 1692.7 2327.5 1691.1 2328.0 1687.7 2328.4 1691.5 2328.8 1687.7 2329.3 1691.8 2329.7 1699.6 2330.1 1699.0 2330.6 1696.5 2331.0 1697.5 2331.5 1697.5 2331.9 1700.6 2332.3 1696.6 2332.8 1696.5 2333.2 1698.3 2333.6 1695.0 2334.1 1699.9 2334.5 1698.8 2334.9 1696.8 2335.4 1694.0 2335.8 1699.2 2336.2 1698.8 2336.7 1690.1 2337.1 1697.9 2337.5 1699.2 2338.0 1696.5 2338.4 1701.3 2338.8 1695.3 2339.3 1699.3 2339.7 1697.1 2340.1 1699.3 2340.6 1700.9 2341.0 1697.0 2341.4 1697.1 2341.9 1698.3 2342.3 1699.9 2342.7 1695.6 2343.2 1694.3 2343.6 1699.2 2344.0 1699.1 2344.5 1703.9 2344.9 1696.1 2345.3 1697.8 2345.8 1698.3 2346.2 1699.1 2346.6 1701.7 2347.1 1702.6 2347.5 1707.8" fill="none" stroke="#0000ff" stroke-width="2.6" stroke-linejoin="round"/>
<rect x="1957.1" y="1515.1" width="390.4" height="245.5" fill="none" stroke="#111" stroke-width="2.8"/>
<path d="M2054.7 1760.6V1747.6M2054.7 1515.1V1528.1M2152.3 1760.6V1747.6M2152.3 1515.1V1528.1M2249.9 1760.6V1747.6M2249.9 1515.1V1528.1M1957.1 1637.8H1970.1M2347.5 1637.8H2334.5" stroke="#111" stroke-width="2.3" fill="none"/>
<text x="1960.1" y="1805.9" font-size="34" text-anchor="middle">0</text>
<text x="2057.7" y="1805.9" font-size="34" text-anchor="middle">5</text>
<text x="2155.3" y="1805.9" font-size="34" text-anchor="middle">10</text>
<text x="2252.9" y="1805.9" font-size="34" text-anchor="middle">15</text>
<text x="2350.5" y="1805.9" font-size="34" text-anchor="middle">20</text>
<text x="1943.6" y="1773.8" font-size="34" text-anchor="end">6</text>
<text x="1943.6" y="1651" font-size="34" text-anchor="end">12</text>
<text x="1943.6" y="1528.3" font-size="34" text-anchor="end">18</text>
<text x="2153.3" y="1857.6" font-size="41" text-anchor="middle">Time (ns)</text>
<text transform="translate(1885.3,1691.8) rotate(-90)" font-size="42"><tspan font-style="italic">R</tspan><tspan dx="2" dy="16.4" font-size="25">g</tspan><tspan dy="-16.4"> (Å)</tspan></text>
<path d="M355.5 2759.1V2746.1M355.5 2227.2V2240.2M605.6 2759.1V2746.1M605.6 2227.2V2240.2M855.8 2759.1V2746.1M855.8 2227.2V2240.2" stroke="#1a1a1a" stroke-width="2.4" fill="none"/>
<path d="M502.4 2759.1V2756.2H507.2V2742.8H512V2710.3H516.8V2685.4H521.6V2655.8H526.7V2603.2H532.5V2579.8H538.8V2584H543.6V2594.6H548.4V2601.3H552.2V2592.6H557.9V2590.7H564.2V2600.3H568.4V2599.3H573.8V2619.4H578.4V2618.1H583.4V2647.2H588.5V2657.7H593.3V2670.1H599.1V2680.7H604.2V2691.2H608.6V2696.9H613.4V2702.7H618.6V2709.4H623.9V2710.3H629.1V2722.7H633.5V2724.7H638.3V2729.4H644V2736.1H648.8V2738.1H654.2V2743.8H659.3V2743.2H664.1V2743.2H668.9V2746.3H673.3V2746.7H678.5V2750.1H683.2V2750.5H688V2753.4H693.8V2754.9H698.5V2754.9H715.8V2756.6H729.2V2757.8H757.9V2757.4H767.4V2757H780.8V2758H790V2759.1Z" fill="#ff0000"/>
<rect x="105.3" y="2227.2" width="1000.7" height="531.9" fill="none" stroke="#1a1a1a" stroke-width="2.8"/>
<text x="110.8" y="2808.6" font-size="48" text-anchor="middle">0</text>
<text x="361" y="2808.6" font-size="48" text-anchor="middle">5</text>
<text x="612.6" y="2808.6" font-size="48" text-anchor="middle">10</text>
<text x="862.8" y="2808.6" font-size="48" text-anchor="middle">15</text>
<text x="1111.5" y="2808.6" font-size="48" text-anchor="middle">20</text>
<text x="565.1" y="2887.9" font-size="53"><tspan font-style="italic">R</tspan><tspan dx="2" dy="21.6" font-size="30">g</tspan><tspan dy="-21.6"> (Å)</tspan></text>
<text transform="translate(64.3,2684.4) rotate(-90)" font-size="54.5" textLength="413" lengthAdjust="spacingAndGlyphs">Normalized Counts</text>
<text x="157" y="2302.4" font-size="57" textLength="286.3" lengthAdjust="spacingAndGlyphs">poly(MeGE)</text>
<text x="158" y="2369.7" font-size="57">343 K</text>
<path d="M680.4 2427.3 680.8 2427.4 681.3 2419.6 681.7 2413.5 682.1 2417.6 682.6 2409.4 683.0 2412.4 683.4 2409.2 683.9 2411.7 684.3 2414.0 684.7 2414.5 685.2 2414.1 685.6 2418.8 686.0 2418.7 686.5 2422.0 686.9 2423.7 687.3 2419.5 687.8 2423.2 688.2 2425.8 688.6 2424.9 689.1 2422.1 689.5 2423.6 689.9 2422.6 690.4 2423.7 690.8 2429.0 691.2 2422.3 691.7 2421.4 692.1 2419.9 692.5 2420.2 693.0 2422.4 693.4 2423.8 693.8 2422.9 694.3 2420.4 694.7 2415.8 695.1 2413.9 695.6 2419.8 696.0 2415.6 696.4 2415.5 696.9 2409.6 697.3 2406.7 697.8 2406.4 698.2 2400.7 698.6 2402.0 699.1 2396.9 699.5 2392.0 699.9 2391.6 700.4 2389.8 700.8 2390.0 701.2 2395.5 701.7 2398.7 702.1 2401.9 702.5 2404.0 703.0 2408.6 703.4 2411.9 703.8 2416.9 704.3 2420.8 704.7 2419.5 705.1 2417.9 705.6 2416.8 706.0 2416.6 706.4 2423.6 706.9 2418.6 707.3 2424.6 707.7 2421.1 708.2 2418.1 708.6 2414.1 709.0 2411.5 709.5 2410.1 709.9 2404.3 710.3 2405.8 710.8 2401.3 711.2 2397.5 711.6 2401.4 712.1 2403.4 712.5 2406.4 712.9 2408.3 713.4 2411.3 713.8 2413.8 714.2 2412.4 714.7 2416.4 715.1 2415.4 715.5 2415.1 716.0 2410.1 716.4 2409.1 716.8 2411.4 717.3 2409.9 717.7 2405.4 718.1 2407.8 718.6 2404.9 719.0 2406.9 719.4 2410.1 719.9 2412.1 720.3 2410.1 720.7 2417.0 721.2 2415.4 721.6 2419.8 722.0 2417.6 722.5 2417.4 722.9 2413.0 723.3 2412.7 723.8 2411.1 724.2 2409.4 724.6 2409.9 725.1 2405.6 725.5 2404.9 725.9 2406.4 726.4 2411.1 726.8 2412.7 727.2 2409.4 727.7 2411.0 728.1 2418.0 728.5 2416.5 729.0 2410.1 729.4 2408.5 729.9 2401.1 730.3 2392.9 730.7 2402.1 731.2 2408.2 731.6 2410.6 732.0 2416.4 732.5 2423.0 732.9 2421.4 733.3 2425.4 733.8 2429.5 734.2 2430.5 734.6 2428.9 735.1 2435.0 735.5 2432.7 735.9 2434.6 736.4 2436.0 736.8 2429.6 737.2 2432.3 737.7 2438.2 738.1 2432.9 738.5 2438.7 739.0 2437.8 739.4 2438.1 739.8 2438.2 740.3 2438.6 740.7 2433.9 741.1 2440.2 741.6 2440.9 742.0 2434.5 742.4 2441.3 742.9 2436.3 743.3 2441.1 743.7 2440.4 744.2 2437.5 744.6 2441.3 745.0 2441.9 745.5 2439.9 745.9 2444.0 746.3 2439.9 746.8 2438.1 747.2 2444.7 747.6 2436.8 748.1 2439.2 748.5 2444.3 748.9 2442.8 749.4 2442.8 749.8 2444.4 750.2 2439.5 750.7 2445.0 751.1 2441.8 751.5 2441.7 752.0 2438.3 752.4 2439.5 752.8 2440.4 753.3 2439.5 753.7 2430.7 754.1 2433.0 754.6 2433.0 755.0 2434.8 755.4 2436.0 755.9 2432.4 756.3 2434.2 756.7 2436.9 757.2 2435.9 757.6 2432.4 758.0 2430.7 758.5 2430.1 758.9 2431.8 759.3 2435.2 759.8 2428.1 760.2 2429.0 760.6 2433.9 761.1 2431.8 761.5 2425.1 762.0 2429.2 762.4 2431.4 762.8 2426.8 763.3 2433.4 763.7 2432.0 764.1 2431.3 764.6 2431.1 765.0 2431.8 765.4 2429.6 765.9 2429.9 766.3 2431.2 766.7 2427.2 767.2 2433.6 767.6 2431.5 768.0 2430.4 768.5 2426.5 768.9 2422.0 769.3 2427.5 769.8 2425.3 770.2 2427.1 770.6 2427.3 771.1 2427.1 771.5 2424.8 771.9 2423.9 772.4 2421.0 772.8 2419.2 773.2 2417.1 773.7 2425.1 774.1 2415.8 774.5 2415.6 775.0 2417.4 775.4 2415.0 775.8 2414.8 776.3 2417.8 776.7 2412.2 777.1 2409.6 777.6 2414.4 778.0 2412.7 778.4 2408.8 778.9 2414.0 779.3 2412.5 779.7 2413.7 780.2 2414.2 780.6 2413.3 781.0 2410.6 781.5 2406.0 781.9 2411.1 782.3 2415.8 782.8 2410.4 783.2 2416.0 783.6 2414.5 784.1 2412.9 784.5 2415.5 784.9 2414.9 785.4 2418.6 785.8 2425.2 786.2 2422.4 786.7 2414.5 787.1 2423.8 787.5 2420.5 788.0 2423.9 788.4 2425.4 788.8 2426.1 789.3 2424.4 789.7 2417.9 790.1 2422.4 790.6 2431.3 791.0 2428.3 791.4 2424.8 791.9 2427.1 792.3 2429.7 792.7 2433.0 793.2 2429.9 793.6 2425.7 794.0 2424.5 794.5 2427.9 794.9 2427.5 795.4 2427.0 795.8 2428.0 796.2 2426.7 796.7 2426.4 797.1 2425.7 797.5 2427.5 798.0 2426.2 798.4 2428.9 798.8 2426.5 799.3 2427.5 799.7 2426.2 800.1 2424.9 800.6 2428.8 801.0 2425.5 801.4 2420.8 801.9 2422.9 802.3 2423.2 802.7 2420.7 803.2 2423.2 803.6 2420.3 804.0 2423.5 804.5 2421.0 804.9 2420.7 805.3 2420.0 805.8 2415.2 806.2 2417.6 806.6 2424.2 807.1 2423.2 807.5 2418.8 807.9 2421.8 808.4 2421.5 808.8 2424.1 809.2 2426.8 809.7 2427.2 810.1 2433.5 810.5 2431.3 811.0 2433.2 811.4 2430.0 811.8 2427.9 812.3 2421.7 812.7 2423.4 813.1 2422.5 813.6 2421.9 814.0 2414.9 814.4 2414.1 814.9 2417.1 815.3 2419.4 815.7 2423.0 816.2 2420.5 816.6 2425.7 817.0 2423.0 817.5 2427.3 817.9 2429.1 818.3 2419.9 818.8 2421.7 819.2 2426.1 819.6 2427.5 820.1 2424.8 820.5 2424.4 820.9 2419.4 821.4 2423.2 821.8 2424.1 822.2 2424.5 822.7 2420.5 823.1 2423.9 823.5 2423.1 824.0 2423.8 824.4 2427.3 824.8 2421.3 825.3 2421.7 825.7 2421.2 826.1 2424.5 826.6 2421.8 827.0 2420.3 827.5 2422.6 827.9 2422.9 828.3 2417.6 828.8 2421.9 829.2 2417.3 829.6 2421.6 830.1 2423.4 830.5 2421.6 830.9 2421.0 831.4 2420.4 831.8 2424.6 832.2 2428.2 832.7 2425.0 833.1 2427.8 833.5 2426.1 834.0 2426.5 834.4 2427.4 834.8 2425.5 835.3 2425.2 835.7 2430.1 836.1 2428.1 836.6 2430.5 837.0 2428.8 837.4 2426.0 837.9 2425.8 838.3 2427.9 838.7 2426.2 839.2 2424.4 839.6 2429.2 840.0 2430.2 840.5 2430.0 840.9 2428.6 841.3 2428.0 841.8 2429.8 842.2 2429.0 842.6 2429.5 843.1 2429.2 843.5 2426.4 843.9 2430.7 844.4 2432.2 844.8 2426.5 845.2 2423.2 845.7 2424.7 846.1 2429.3 846.5 2432.8 847.0 2431.1 847.4 2434.4 847.8 2428.8 848.3 2429.7 848.7 2432.9 849.1 2435.6 849.6 2429.5 850.0 2431.8 850.4 2433.5 850.9 2429.1 851.3 2431.0 851.7 2433.5 852.2 2436.2 852.6 2435.0 853.0 2438.2 853.5 2431.8 853.9 2434.5 854.3 2434.6 854.8 2437.7 855.2 2435.5 855.6 2441.1 856.1 2442.0 856.5 2439.0 856.9 2442.0 857.4 2440.9 857.8 2442.6 858.2 2446.2 858.7 2448.2 859.1 2447.8 859.6 2454.0 860.0 2451.9 860.4 2448.2 860.9 2450.9 861.3 2452.1 861.7 2447.2 862.2 2448.4 862.6 2450.5 863.0 2447.0 863.5 2443.4 863.9 2450.1 864.3 2444.9 864.8 2449.6 865.2 2442.9 865.6 2446.1 866.1 2439.0 866.5 2439.5 866.9 2441.8 867.4 2439.8 867.8 2443.2 868.2 2445.1 868.7 2443.8 869.1 2446.1 869.5 2441.3 870.0 2442.7 870.4 2443.5 870.8 2445.0 871.3 2445.5 871.7 2445.0 872.1 2443.5 872.6 2449.9 873.0 2448.2 873.4 2448.4 873.9 2447.8 874.3 2447.5 874.7 2451.5 875.2 2452.2 875.6 2454.2 876.0 2451.5 876.5 2448.4 876.9 2445.8 877.3 2446.4 877.8 2444.2 878.2 2444.1 878.6 2446.9 879.1 2444.8 879.5 2445.3 879.9 2442.8 880.4 2440.5 880.8 2444.9 881.2 2446.1 881.7 2440.6 882.1 2447.7 882.5 2443.8 883.0 2442.4 883.4 2442.5 883.8 2439.5 884.3 2434.5 884.7 2439.4 885.1 2437.4 885.6 2436.4 886.0 2437.2 886.4 2434.5 886.9 2432.7 887.3 2434.3 887.7 2432.3 888.2 2428.3 888.6 2432.8 889.0 2427.9 889.5 2420.5 889.9 2427.0 890.3 2423.5 890.8 2422.6 891.2 2419.6 891.6 2421.8 892.1 2419.3 892.5 2416.8 893.0 2418.5 893.4 2418.1 893.8 2417.7 894.3 2413.2 894.7 2413.6 895.1 2416.4 895.6 2412.2 896.0 2414.3 896.4 2416.1 896.9 2417.1 897.3 2419.3 897.7 2425.9 898.2 2425.4 898.6 2425.0 899.0 2424.5 899.5 2420.9 899.9 2423.1 900.3 2421.2 900.8 2423.7 901.2 2422.7 901.6 2425.9 902.1 2425.3 902.5 2422.9 902.9 2422.3 903.4 2423.3 903.8 2425.5 904.2 2432.3 904.7 2434.7 905.1 2424.2 905.5 2429.9 906.0 2428.2 906.4 2419.2 906.8 2426.4 907.3 2429.1 907.7 2428.6 908.1 2425.6 908.6 2427.0 909.0 2428.6 909.4 2424.8 909.9 2420.6 910.3 2424.4 910.7 2421.6 911.2 2414.5 911.6 2421.9 912.0 2425.8 912.5 2419.3 912.9 2420.0 913.3 2424.4 913.8 2422.3 914.2 2423.8 914.6 2425.3 915.1 2422.2 915.5 2410.5 915.9 2408.1 916.4 2402.4 916.8 2397.9 917.2 2392.2 917.7 2392.4 918.1 2387.9 918.5 2389.6 919.0 2398.1 919.4 2402.3 919.8 2406.1 920.3 2410.6 920.7 2410.6 921.1 2418.4 921.6 2418.0 922.0 2418.4 922.4 2415.1 922.9 2416.9 923.3 2413.4 923.7 2416.5 924.2 2413.5 924.6 2412.4 925.1 2411.1 925.5 2408.0 925.9 2413.5 926.4 2405.9 926.8 2406.0 927.2 2403.8 927.7 2400.8 928.1 2395.0 928.5 2388.4 929.0 2394.8 929.4 2396.4 929.8 2400.5 930.3 2396.6 930.7 2403.5 931.1 2406.7 931.6 2406.4 932.0 2412.1 932.4 2414.2 932.9 2415.0 933.3 2416.7 933.7 2417.6 934.2 2420.7 934.6 2427.7 935.0 2425.7 935.5 2430.3 935.9 2431.3 936.3 2431.5 936.8 2434.2 937.2 2430.4 937.6 2433.3 938.1 2428.2 938.5 2433.8 938.9 2436.4 939.4 2430.4 939.8 2428.7 940.2 2430.0 940.7 2430.7 941.1 2430.2 941.5 2427.6 942.0 2432.4 942.4 2429.4 942.8 2431.4 943.3 2427.2 943.7 2428.6 944.1 2426.0 944.6 2434.8 945.0 2434.8 945.4 2432.5 945.9 2428.1 946.3 2428.4 946.7 2430.5 947.2 2430.9 947.6 2431.2 948.0 2429.5 948.5 2425.9 948.9 2428.4 949.3 2430.3 949.8 2428.4 950.2 2432.0 950.6 2429.5 951.1 2431.4 951.5 2438.0 951.9 2435.8 952.4 2431.2 952.8 2427.5 953.2 2429.9 953.7 2432.8 954.1 2433.8 954.5 2426.6 955.0 2427.8 955.4 2430.8 955.8 2427.2 956.3 2428.7 956.7 2431.8 957.2 2429.9 957.6 2430.2 958.0 2432.5 958.5 2432.3 958.9 2429.8 959.3 2431.4 959.8 2433.0 960.2 2440.1 960.6 2433.9 961.1 2436.2 961.5 2439.5 961.9 2438.3 962.4 2436.8 962.8 2436.3 963.2 2438.0 963.7 2432.0 964.1 2437.8 964.5 2435.0 965.0 2441.0 965.4 2438.9 965.8 2439.9 966.3 2436.0 966.7 2433.1 967.1 2432.1 967.6 2433.4 968.0 2433.1 968.4 2433.3 968.9 2436.7 969.3 2431.6 969.7 2434.3 970.2 2432.0 970.6 2429.7 971.0 2430.9 971.5 2429.2 971.9 2429.0 972.3 2427.1 972.8 2428.9 973.2 2426.0 973.6 2430.4 974.1 2426.9 974.5 2426.8 974.9 2425.9 975.4 2424.7 975.8 2431.1 976.2 2423.2 976.7 2431.8 977.1 2427.4 977.5 2430.8 978.0 2431.0 978.4 2430.9 978.8 2429.8 979.3 2432.3 979.7 2425.6 980.1 2426.0 980.6 2426.8 981.0 2430.8 981.4 2428.6 981.9 2425.9 982.3 2430.1 982.7 2427.5 983.2 2427.6 983.6 2433.2 984.0 2431.9 984.5 2431.5 984.9 2430.2 985.3 2429.8 985.8 2427.7 986.2 2430.6 986.6 2427.5 987.1 2426.3 987.5 2426.0 987.9 2430.6 988.4 2430.9 988.8 2427.2 989.2 2427.9 989.7 2426.0 990.1 2424.0 990.6 2424.8 991.0 2425.8 991.4 2426.8 991.9 2421.9 992.3 2425.9 992.7 2418.9 993.2 2423.2 993.6 2425.9 994.0 2422.2 994.5 2419.9 994.9 2421.6 995.3 2417.8 995.8 2419.0 996.2 2422.0 996.6 2419.0 997.1 2424.5 997.5 2420.4 997.9 2420.6 998.4 2423.0 998.8 2423.0 999.2 2417.9 999.7 2416.6 1000.1 2416.4 1000.5 2419.1 1001.0 2416.4 1001.4 2411.9 1001.8 2415.8 1002.3 2410.7 1002.7 2414.6 1003.1 2418.9 1003.6 2414.3 1004.0 2417.5 1004.4 2421.2 1004.9 2425.5 1005.3 2428.1 1005.7 2432.5 1006.2 2429.1 1006.6 2436.2 1007.0 2431.7 1007.5 2435.2 1007.9 2434.5 1008.3 2430.0 1008.8 2434.6 1009.2 2438.6 1009.6 2440.2 1010.1 2436.4 1010.5 2438.2 1010.9 2438.9 1011.4 2436.5 1011.8 2436.1 1012.2 2438.8 1012.7 2441.3 1013.1 2441.6 1013.5 2441.7 1014.0 2438.9 1014.4 2443.2 1014.8 2437.7 1015.3 2440.2 1015.7 2443.2 1016.1 2443.7 1016.6 2440.8 1017.0 2438.6 1017.4 2439.5 1017.9 2439.3 1018.3 2436.1 1018.7 2436.4 1019.2 2438.8 1019.6 2433.9 1020.0 2433.3 1020.5 2431.0 1020.9 2434.4 1021.3 2428.9 1021.8 2423.8 1022.2 2426.8 1022.7 2427.7 1023.1 2431.9 1023.5 2431.5 1024.0 2429.5 1024.4 2429.8 1024.8 2427.9 1025.3 2430.1 1025.7 2427.2 1026.1 2438.2 1026.6 2431.2 1027.0 2431.2 1027.4 2428.2 1027.9 2426.2 1028.3 2430.6 1028.7 2424.4 1029.2 2426.5 1029.6 2423.5 1030.0 2423.6 1030.5 2417.9 1030.9 2416.0 1031.3 2416.5 1031.8 2413.1 1032.2 2411.4 1032.6 2407.1 1033.1 2412.5 1033.5 2414.2 1033.9 2418.9 1034.4 2415.0 1034.8 2411.4 1035.2 2417.3 1035.7 2416.1 1036.1 2417.1 1036.5 2417.2 1037.0 2416.9 1037.4 2420.3 1037.8 2420.4 1038.3 2415.0 1038.7 2414.2 1039.1 2410.0 1039.6 2411.2 1040.0 2409.8 1040.4 2408.6 1040.9 2403.9 1041.3 2405.9 1041.7 2412.0 1042.2 2411.4 1042.6 2418.3 1043.0 2414.6 1043.5 2422.7 1043.9 2420.8 1044.3 2424.2 1044.8 2423.2 1045.2 2422.8 1045.6 2429.9 1046.1 2429.0 1046.5 2428.4 1046.9 2431.9 1047.4 2428.8 1047.8 2434.9 1048.2 2438.5 1048.7 2440.8 1049.1 2440.7 1049.5 2441.0 1050.0 2442.8 1050.4 2443.1 1050.8 2442.3 1051.3 2440.1 1051.7 2441.2 1052.1 2441.4 1052.6 2441.9 1053.0 2444.3 1053.4 2445.4 1053.9 2443.3 1054.3 2445.0 1054.8 2444.8 1055.2 2446.3 1055.6 2446.7 1056.1 2442.9 1056.5 2447.9 1056.9 2440.9 1057.4 2443.8 1057.8 2448.3 1058.2 2445.7 1058.7 2449.7 1059.1 2444.5 1059.5 2446.5 1060.0 2445.8 1060.4 2447.9 1060.8 2451.2 1061.3 2445.4 1061.7 2449.7 1062.1 2449.7 1062.6 2440.2 1063.0 2451.7 1063.4 2448.8 1063.9 2450.3 1064.3 2450.8 1064.7 2447.7 1065.2 2448.1 1065.6 2450.4 1066.0 2450.0 1066.5 2446.7 1066.9 2444.7 1067.3 2442.7 1067.8 2443.9 1068.2 2446.5 1068.6 2442.9 1069.1 2444.6 1069.5 2439.4 1069.9 2441.2 1070.4 2440.6 1070.8 2436.4" fill="none" stroke="#ff0000" stroke-width="2.6" stroke-linejoin="round"/>
<rect x="680.4" y="2248.2" width="390.4" height="245.5" fill="none" stroke="#111" stroke-width="2.8"/>
<path d="M778 2493.7V2480.7M778 2248.2V2261.2M875.6 2493.7V2480.7M875.6 2248.2V2261.2M973.2 2493.7V2480.7M973.2 2248.2V2261.2M680.4 2370.9H693.4M1070.8 2370.9H1057.8" stroke="#111" stroke-width="2.3" fill="none"/>
<text x="683.4" y="2539" font-size="34" text-anchor="middle">0</text>
<text x="781" y="2539" font-size="34" text-anchor="middle">5</text>
<text x="878.6" y="2539" font-size="34" text-anchor="middle">10</text>
<text x="976.2" y="2539" font-size="34" text-anchor="middle">15</text>
<text x="1073.8" y="2539" font-size="34" text-anchor="middle">20</text>
<text x="666.9" y="2506.9" font-size="34" text-anchor="end">6</text>
<text x="666.9" y="2384.1" font-size="34" text-anchor="end">12</text>
<text x="666.9" y="2261.4" font-size="34" text-anchor="end">18</text>
<text x="876.6" y="2590.7" font-size="41" text-anchor="middle">Time (ns)</text>
<text transform="translate(608.6,2424.9) rotate(-90)" font-size="42"><tspan font-style="italic">R</tspan><tspan dx="2" dy="16.4" font-size="25">g</tspan><tspan dy="-16.4"> (Å)</tspan></text>
<path d="M1632.3 2748V2735M1632.3 2217.4V2230.4M1882.5 2748V2735M1882.5 2217.4V2230.4M2132.8 2748V2735M2132.8 2217.4V2230.4" stroke="#1a1a1a" stroke-width="2.4" fill="none"/>
<path d="M1774.3 2748V2746.7H1779.1V2735.2H1784.5V2718H1789.3V2684.5H1794.4V2626.7H1799.2V2565.3H1804.4V2517.1H1809.7V2457.8H1815.1V2443H1820.8V2456.4H1825.4V2497.9H1830.8V2529.1H1835.6V2551.5H1841.3V2589.2H1846.5V2635.1H1850.9V2662.5H1855.7V2687.9H1860.4V2695.6H1865.2V2711.6H1870.6V2719.3H1875.8V2724.7H1880.9V2734.2H1889.1V2727.5H1897.8V2730H1906.4V2734.2H1912.1V2735.8H1920.7V2739.6H1926.5V2740.9H1936V2742.8H1951.3V2743.8H1968.5V2741.9H1976.2V2745.7H1980V2743.8H1985.8V2745.7H2004.9V2744.2H2016.4V2746.3H2060V2748Z" fill="#0000ff"/>
<rect x="1382" y="2217.4" width="1001.1" height="530.6" fill="none" stroke="#1a1a1a" stroke-width="2.8"/>
<text x="1387.5" y="2797.5" font-size="48" text-anchor="middle">0</text>
<text x="1637.8" y="2797.5" font-size="48" text-anchor="middle">5</text>
<text x="1889.5" y="2797.5" font-size="48" text-anchor="middle">10</text>
<text x="2139.8" y="2797.5" font-size="48" text-anchor="middle">15</text>
<text x="2388.6" y="2797.5" font-size="48" text-anchor="middle">20</text>
<text x="1841.8" y="2876.8" font-size="53"><tspan font-style="italic">R</tspan><tspan dx="2" dy="21.6" font-size="30">g</tspan><tspan dy="-21.6"> (Å)</tspan></text>
<text transform="translate(1342,2672.2) rotate(-90)" font-size="54.5" textLength="413" lengthAdjust="spacingAndGlyphs">Normalized Counts</text>
<text x="1458.7" y="2302.9" font-size="57" textLength="260.6" lengthAdjust="spacingAndGlyphs">poly(EtGE)</text>
<text x="1459.7" y="2370.2" font-size="57">343 K</text>
<path d="M1957.1 2438.4 1957.5 2428.0 1958.0 2426.3 1958.4 2429.2 1958.8 2420.4 1959.3 2418.6 1959.7 2412.6 1960.1 2413.4 1960.6 2420.4 1961.0 2417.0 1961.4 2416.7 1961.9 2420.8 1962.3 2420.1 1962.7 2420.0 1963.2 2423.2 1963.6 2420.8 1964.0 2420.7 1964.5 2424.8 1964.9 2419.6 1965.3 2424.3 1965.8 2423.9 1966.2 2429.5 1966.6 2425.6 1967.1 2428.0 1967.5 2424.7 1967.9 2425.4 1968.4 2425.1 1968.8 2421.7 1969.2 2425.2 1969.7 2424.9 1970.1 2430.5 1970.5 2426.8 1971.0 2427.5 1971.4 2423.9 1971.8 2433.3 1972.3 2425.9 1972.7 2430.6 1973.1 2429.3 1973.6 2431.7 1974.0 2428.3 1974.5 2428.7 1974.9 2431.3 1975.3 2428.3 1975.8 2427.9 1976.2 2424.5 1976.6 2431.1 1977.1 2421.9 1977.5 2426.4 1977.9 2427.3 1978.4 2426.5 1978.8 2427.3 1979.2 2428.1 1979.7 2428.4 1980.1 2423.4 1980.5 2425.9 1981.0 2426.8 1981.4 2425.5 1981.8 2426.5 1982.3 2430.8 1982.7 2430.5 1983.1 2428.9 1983.6 2430.8 1984.0 2428.3 1984.4 2429.0 1984.9 2426.5 1985.3 2428.7 1985.7 2429.2 1986.2 2428.0 1986.6 2425.9 1987.0 2427.7 1987.5 2426.5 1987.9 2426.7 1988.3 2426.0 1988.8 2421.0 1989.2 2422.9 1989.6 2422.8 1990.1 2426.9 1990.5 2427.1 1990.9 2417.8 1991.4 2419.0 1991.8 2420.6 1992.2 2420.0 1992.7 2423.2 1993.1 2426.0 1993.5 2424.1 1994.0 2424.3 1994.4 2424.4 1994.8 2422.6 1995.3 2423.7 1995.7 2422.7 1996.1 2436.8 1996.6 2430.4 1997.0 2432.8 1997.4 2433.5 1997.9 2430.1 1998.3 2435.7 1998.7 2431.4 1999.2 2435.7 1999.6 2432.0 2000.0 2435.9 2000.5 2437.7 2000.9 2435.9 2001.3 2440.1 2001.8 2440.2 2002.2 2441.6 2002.6 2437.8 2003.1 2439.2 2003.5 2436.2 2003.9 2438.3 2004.4 2437.3 2004.8 2441.0 2005.2 2437.4 2005.7 2435.3 2006.1 2433.4 2006.6 2433.2 2007.0 2434.6 2007.4 2429.6 2007.9 2431.3 2008.3 2436.3 2008.7 2433.2 2009.2 2432.7 2009.6 2431.9 2010.0 2434.7 2010.5 2435.1 2010.9 2436.9 2011.3 2435.9 2011.8 2434.5 2012.2 2431.7 2012.6 2435.9 2013.1 2431.4 2013.5 2437.0 2013.9 2431.3 2014.4 2434.4 2014.8 2433.8 2015.2 2428.5 2015.7 2427.5 2016.1 2431.9 2016.5 2431.0 2017.0 2429.1 2017.4 2429.1 2017.8 2426.6 2018.3 2429.7 2018.7 2430.3 2019.1 2427.6 2019.6 2432.1 2020.0 2428.2 2020.4 2427.1 2020.9 2425.0 2021.3 2425.2 2021.7 2423.4 2022.2 2426.3 2022.6 2422.5 2023.0 2431.9 2023.5 2424.4 2023.9 2429.1 2024.3 2426.5 2024.8 2425.3 2025.2 2426.1 2025.6 2425.7 2026.1 2429.8 2026.5 2426.1 2026.9 2423.6 2027.4 2427.6 2027.8 2424.7 2028.2 2428.6 2028.7 2428.1 2029.1 2426.8 2029.5 2424.7 2030.0 2424.3 2030.4 2425.9 2030.8 2426.6 2031.3 2423.1 2031.7 2421.8 2032.1 2419.0 2032.6 2422.6 2033.0 2423.4 2033.4 2422.0 2033.9 2418.8 2034.3 2421.9 2034.7 2413.8 2035.2 2416.1 2035.6 2416.7 2036.0 2410.4 2036.5 2410.2 2036.9 2410.0 2037.3 2414.3 2037.8 2410.2 2038.2 2411.3 2038.7 2408.0 2039.1 2408.7 2039.5 2411.2 2040.0 2408.7 2040.4 2413.2 2040.8 2409.9 2041.3 2408.7 2041.7 2410.8 2042.1 2414.1 2042.6 2413.9 2043.0 2413.2 2043.4 2417.0 2043.9 2413.5 2044.3 2417.3 2044.7 2418.2 2045.2 2419.9 2045.6 2417.7 2046.0 2421.5 2046.5 2420.7 2046.9 2421.7 2047.3 2427.7 2047.8 2423.4 2048.2 2429.0 2048.6 2433.1 2049.1 2430.7 2049.5 2430.9 2049.9 2430.0 2050.4 2430.6 2050.8 2432.5 2051.2 2434.9 2051.7 2431.7 2052.1 2430.3 2052.5 2433.3 2053.0 2432.6 2053.4 2429.5 2053.8 2432.9 2054.3 2436.1 2054.7 2435.5 2055.1 2430.9 2055.6 2431.3 2056.0 2434.4 2056.4 2433.5 2056.9 2434.4 2057.3 2431.2 2057.7 2434.3 2058.2 2431.3 2058.6 2430.3 2059.0 2431.8 2059.5 2431.1 2059.9 2433.1 2060.3 2433.4 2060.8 2432.9 2061.2 2433.0 2061.6 2429.6 2062.1 2429.5 2062.5 2427.7 2062.9 2428.7 2063.4 2431.3 2063.8 2430.2 2064.2 2429.1 2064.7 2427.7 2065.1 2430.7 2065.5 2425.6 2066.0 2429.7 2066.4 2430.5 2066.8 2432.1 2067.3 2430.2 2067.7 2429.7 2068.1 2429.8 2068.6 2428.4 2069.0 2433.4 2069.4 2435.9 2069.9 2428.4 2070.3 2435.0 2070.7 2433.3 2071.2 2431.2 2071.6 2431.3 2072.1 2431.5 2072.5 2429.4 2072.9 2426.1 2073.4 2432.7 2073.8 2430.2 2074.2 2433.3 2074.7 2434.0 2075.1 2431.9 2075.5 2437.6 2076.0 2438.0 2076.4 2431.0 2076.8 2428.9 2077.3 2427.3 2077.7 2436.0 2078.1 2432.2 2078.6 2432.3 2079.0 2432.4 2079.4 2431.7 2079.9 2425.1 2080.3 2426.7 2080.7 2427.2 2081.2 2430.1 2081.6 2424.5 2082.0 2424.7 2082.5 2427.6 2082.9 2428.8 2083.3 2427.8 2083.8 2426.7 2084.2 2428.2 2084.6 2429.0 2085.1 2434.7 2085.5 2432.1 2085.9 2431.8 2086.4 2430.5 2086.8 2426.3 2087.2 2427.1 2087.7 2429.9 2088.1 2432.7 2088.5 2426.9 2089.0 2434.8 2089.4 2430.8 2089.8 2427.2 2090.3 2426.7 2090.7 2425.6 2091.1 2424.5 2091.6 2426.9 2092.0 2423.2 2092.4 2425.0 2092.9 2424.6 2093.3 2418.0 2093.7 2424.2 2094.2 2420.8 2094.6 2421.0 2095.0 2420.3 2095.5 2425.0 2095.9 2420.9 2096.3 2424.4 2096.8 2423.5 2097.2 2430.1 2097.6 2429.3 2098.1 2430.9 2098.5 2428.1 2098.9 2430.9 2099.4 2425.9 2099.8 2430.6 2100.2 2430.6 2100.7 2435.9 2101.1 2426.7 2101.5 2428.4 2102.0 2431.2 2102.4 2426.5 2102.8 2425.6 2103.3 2428.8 2103.7 2435.0 2104.2 2428.8 2104.6 2426.4 2105.0 2427.3 2105.5 2430.0 2105.9 2426.8 2106.3 2425.6 2106.8 2430.5 2107.2 2433.1 2107.6 2427.2 2108.1 2432.1 2108.5 2426.8 2108.9 2431.7 2109.4 2427.4 2109.8 2433.2 2110.2 2428.7 2110.7 2431.3 2111.1 2431.1 2111.5 2427.3 2112.0 2431.9 2112.4 2431.2 2112.8 2431.2 2113.3 2431.2 2113.7 2433.0 2114.1 2428.4 2114.6 2429.3 2115.0 2432.2 2115.4 2428.5 2115.9 2435.9 2116.3 2430.4 2116.7 2431.7 2117.2 2433.7 2117.6 2436.5 2118.0 2434.9 2118.5 2433.9 2118.9 2442.4 2119.3 2434.7 2119.8 2433.5 2120.2 2438.1 2120.6 2436.3 2121.1 2429.6 2121.5 2434.0 2121.9 2433.7 2122.4 2437.5 2122.8 2430.1 2123.2 2433.4 2123.7 2427.0 2124.1 2427.8 2124.5 2422.8 2125.0 2429.1 2125.4 2426.9 2125.8 2435.7 2126.3 2437.8 2126.7 2431.8 2127.1 2431.6 2127.6 2428.9 2128.0 2428.9 2128.4 2429.4 2128.9 2431.7 2129.3 2430.3 2129.7 2432.7 2130.2 2433.6 2130.6 2432.8 2131.0 2432.0 2131.5 2434.0 2131.9 2429.9 2132.3 2432.6 2132.8 2434.2 2133.2 2436.5 2133.6 2432.9 2134.1 2430.5 2134.5 2431.0 2134.9 2430.6 2135.4 2429.2 2135.8 2430.1 2136.3 2423.1 2136.7 2428.6 2137.1 2427.4 2137.6 2429.5 2138.0 2431.0 2138.4 2428.4 2138.9 2430.5 2139.3 2423.8 2139.7 2426.2 2140.2 2427.0 2140.6 2425.2 2141.0 2428.6 2141.5 2430.1 2141.9 2426.9 2142.3 2431.9 2142.8 2428.8 2143.2 2434.3 2143.6 2429.8 2144.1 2428.2 2144.5 2425.6 2144.9 2426.3 2145.4 2429.5 2145.8 2428.6 2146.2 2433.5 2146.7 2434.4 2147.1 2428.6 2147.5 2433.9 2148.0 2431.4 2148.4 2431.5 2148.8 2433.6 2149.3 2432.7 2149.7 2429.8 2150.1 2433.2 2150.6 2433.4 2151.0 2432.1 2151.4 2431.8 2151.9 2434.0 2152.3 2429.7 2152.7 2431.0 2153.2 2434.0 2153.6 2438.0 2154.0 2435.7 2154.5 2434.6 2154.9 2438.9 2155.3 2440.5 2155.8 2439.9 2156.2 2438.2 2156.6 2437.6 2157.1 2430.9 2157.5 2438.8 2157.9 2438.2 2158.4 2434.4 2158.8 2434.4 2159.2 2438.7 2159.7 2431.5 2160.1 2438.4 2160.5 2439.7 2161.0 2443.4 2161.4 2442.2 2161.8 2438.2 2162.3 2441.6 2162.7 2436.3 2163.1 2437.4 2163.6 2439.3 2164.0 2436.1 2164.4 2431.4 2164.9 2436.0 2165.3 2436.6 2165.7 2435.0 2166.2 2434.4 2166.6 2434.7 2167.0 2436.0 2167.5 2428.2 2167.9 2434.9 2168.3 2432.8 2168.8 2430.4 2169.2 2429.5 2169.7 2435.7 2170.1 2428.2 2170.5 2425.8 2171.0 2431.2 2171.4 2427.8 2171.8 2428.3 2172.3 2428.2 2172.7 2429.4 2173.1 2426.6 2173.6 2428.9 2174.0 2427.3 2174.4 2429.3 2174.9 2423.2 2175.3 2421.6 2175.7 2425.6 2176.2 2425.6 2176.6 2424.0 2177.0 2423.2 2177.5 2424.5 2177.9 2425.2 2178.3 2425.2 2178.8 2427.4 2179.2 2425.6 2179.6 2432.3 2180.1 2425.5 2180.5 2421.8 2180.9 2427.0 2181.4 2427.3 2181.8 2428.4 2182.2 2426.1 2182.7 2426.3 2183.1 2427.9 2183.5 2429.1 2184.0 2425.4 2184.4 2422.7 2184.8 2423.7 2185.3 2423.6 2185.7 2425.7 2186.1 2418.7 2186.6 2420.9 2187.0 2419.7 2187.4 2418.2 2187.9 2419.6 2188.3 2420.9 2188.7 2424.0 2189.2 2421.9 2189.6 2427.6 2190.0 2430.8 2190.5 2428.4 2190.9 2429.7 2191.3 2425.4 2191.8 2422.5 2192.2 2426.6 2192.6 2428.5 2193.1 2429.7 2193.5 2432.3 2193.9 2430.9 2194.4 2425.8 2194.8 2419.8 2195.2 2427.4 2195.7 2424.8 2196.1 2426.8 2196.5 2433.2 2197.0 2430.0 2197.4 2426.7 2197.8 2426.5 2198.3 2426.7 2198.7 2422.5 2199.1 2425.3 2199.6 2428.8 2200.0 2428.0 2200.4 2430.0 2200.9 2424.5 2201.3 2422.2 2201.8 2430.0 2202.2 2423.6 2202.6 2424.9 2203.1 2426.2 2203.5 2431.5 2203.9 2432.1 2204.4 2430.3 2204.8 2429.0 2205.2 2432.7 2205.7 2429.0 2206.1 2428.1 2206.5 2430.0 2207.0 2428.1 2207.4 2430.0 2207.8 2427.0 2208.3 2431.5 2208.7 2427.9 2209.1 2431.2 2209.6 2430.2 2210.0 2427.2 2210.4 2424.9 2210.9 2424.2 2211.3 2426.2 2211.7 2429.7 2212.2 2424.9 2212.6 2428.9 2213.0 2424.3 2213.5 2427.3 2213.9 2423.7 2214.3 2421.9 2214.8 2429.7 2215.2 2427.7 2215.6 2432.2 2216.1 2428.5 2216.5 2429.0 2216.9 2428.3 2217.4 2431.0 2217.8 2427.0 2218.2 2426.6 2218.7 2428.1 2219.1 2427.5 2219.5 2424.6 2220.0 2424.6 2220.4 2424.6 2220.8 2424.5 2221.3 2422.7 2221.7 2422.4 2222.1 2420.4 2222.6 2422.3 2223.0 2418.4 2223.4 2420.6 2223.9 2416.8 2224.3 2419.5 2224.7 2411.4 2225.2 2415.3 2225.6 2415.0 2226.0 2413.5 2226.5 2412.8 2226.9 2407.2 2227.3 2410.3 2227.8 2411.0 2228.2 2410.6 2228.6 2414.7 2229.1 2413.1 2229.5 2415.7 2229.9 2414.7 2230.4 2418.1 2230.8 2418.2 2231.2 2411.6 2231.7 2419.9 2232.1 2420.0 2232.5 2419.6 2233.0 2420.1 2233.4 2415.0 2233.9 2419.6 2234.3 2416.3 2234.7 2419.7 2235.2 2417.1 2235.6 2416.5 2236.0 2414.0 2236.5 2415.1 2236.9 2416.7 2237.3 2415.9 2237.8 2414.8 2238.2 2411.2 2238.6 2411.6 2239.1 2410.9 2239.5 2413.6 2239.9 2413.7 2240.4 2418.6 2240.8 2419.9 2241.2 2418.2 2241.7 2414.6 2242.1 2416.4 2242.5 2419.8 2243.0 2418.6 2243.4 2417.9 2243.8 2412.5 2244.3 2407.7 2244.7 2406.8 2245.1 2405.6 2245.6 2401.3 2246.0 2391.1 2246.4 2390.2 2246.9 2390.1 2247.3 2384.3 2247.7 2379.8 2248.2 2385.2 2248.6 2391.4 2249.0 2393.7 2249.5 2394.7 2249.9 2398.1 2250.3 2402.7 2250.8 2407.2 2251.2 2403.7 2251.6 2408.1 2252.1 2408.2 2252.5 2411.3 2252.9 2416.2 2253.4 2415.9 2253.8 2415.6 2254.2 2416.0 2254.7 2418.8 2255.1 2420.3 2255.5 2422.4 2256.0 2424.7 2256.4 2430.4 2256.8 2427.2 2257.3 2428.5 2257.7 2430.6 2258.1 2426.5 2258.6 2428.8 2259.0 2424.0 2259.4 2418.9 2259.9 2424.5 2260.3 2427.6 2260.7 2423.1 2261.2 2425.6 2261.6 2418.0 2262.0 2419.1 2262.5 2422.3 2262.9 2418.5 2263.3 2420.7 2263.8 2419.7 2264.2 2422.8 2264.6 2423.7 2265.1 2418.4 2265.5 2418.9 2265.9 2420.1 2266.4 2418.8 2266.8 2418.9 2267.3 2413.7 2267.7 2417.9 2268.1 2421.4 2268.6 2417.8 2269.0 2420.1 2269.4 2420.2 2269.9 2428.4 2270.3 2427.2 2270.7 2425.6 2271.2 2428.0 2271.6 2427.4 2272.0 2434.9 2272.5 2431.4 2272.9 2429.9 2273.3 2424.8 2273.8 2430.4 2274.2 2426.7 2274.6 2424.1 2275.1 2424.0 2275.5 2420.9 2275.9 2416.7 2276.4 2418.6 2276.8 2416.8 2277.2 2414.5 2277.7 2410.2 2278.1 2410.9 2278.5 2411.8 2279.0 2411.9 2279.4 2415.8 2279.8 2407.9 2280.3 2405.2 2280.7 2409.9 2281.1 2401.2 2281.6 2403.4 2282.0 2397.2 2282.4 2400.7 2282.9 2400.8 2283.3 2394.8 2283.7 2401.6 2284.2 2393.4 2284.6 2391.5 2285.0 2391.3 2285.5 2384.7 2285.9 2384.7 2286.3 2381.0 2286.8 2381.8 2287.2 2383.5 2287.6 2388.0 2288.1 2392.9 2288.5 2393.0 2288.9 2400.4 2289.4 2401.8 2289.8 2401.4 2290.2 2405.8 2290.7 2410.5 2291.1 2416.4 2291.5 2411.1 2292.0 2414.5 2292.4 2423.2 2292.8 2416.6 2293.3 2420.1 2293.7 2423.7 2294.1 2422.0 2294.6 2420.9 2295.0 2421.3 2295.4 2420.0 2295.9 2421.5 2296.3 2411.8 2296.7 2410.0 2297.2 2409.4 2297.6 2403.5 2298.0 2412.6 2298.5 2408.7 2298.9 2409.5 2299.4 2409.4 2299.8 2411.9 2300.2 2417.3 2300.7 2414.8 2301.1 2417.7 2301.5 2417.4 2302.0 2419.1 2302.4 2419.8 2302.8 2417.7 2303.3 2421.5 2303.7 2416.5 2304.1 2422.8 2304.6 2427.6 2305.0 2424.8 2305.4 2425.8 2305.9 2425.7 2306.3 2422.6 2306.7 2424.5 2307.2 2424.3 2307.6 2431.5 2308.0 2431.2 2308.5 2429.8 2308.9 2428.8 2309.3 2428.4 2309.8 2429.3 2310.2 2430.5 2310.6 2424.2 2311.1 2430.4 2311.5 2428.7 2311.9 2427.2 2312.4 2429.2 2312.8 2426.6 2313.2 2431.0 2313.7 2431.4 2314.1 2430.4 2314.5 2434.0 2315.0 2430.2 2315.4 2425.7 2315.8 2425.0 2316.3 2427.0 2316.7 2425.9 2317.1 2420.1 2317.6 2422.5 2318.0 2421.9 2318.4 2421.8 2318.9 2420.9 2319.3 2416.2 2319.7 2416.6 2320.2 2421.5 2320.6 2418.5 2321.0 2417.8 2321.5 2419.9 2321.9 2414.8 2322.3 2414.4 2322.8 2415.5 2323.2 2413.2 2323.6 2413.0 2324.1 2410.5 2324.5 2408.7 2324.9 2415.0 2325.4 2412.8 2325.8 2409.5 2326.2 2408.4 2326.7 2411.0 2327.1 2408.0 2327.5 2409.5 2328.0 2411.6 2328.4 2408.0 2328.8 2405.5 2329.3 2404.7 2329.7 2409.6 2330.1 2406.9 2330.6 2406.5 2331.0 2410.3 2331.5 2410.7 2331.9 2408.6 2332.3 2411.1 2332.8 2413.5 2333.2 2412.2 2333.6 2408.1 2334.1 2406.5 2334.5 2404.5 2334.9 2406.0 2335.4 2399.8 2335.8 2402.1 2336.2 2396.3 2336.7 2390.5 2337.1 2394.3 2337.5 2390.8 2338.0 2392.9 2338.4 2393.5 2338.8 2394.7 2339.3 2398.7 2339.7 2404.5 2340.1 2406.6 2340.6 2409.1 2341.0 2414.3 2341.4 2412.5 2341.9 2415.2 2342.3 2415.8 2342.7 2410.9 2343.2 2408.1 2343.6 2408.0 2344.0 2403.6 2344.5 2404.7 2344.9 2404.2 2345.3 2400.1 2345.8 2403.3 2346.2 2402.8 2346.6 2403.6 2347.1 2400.2 2347.5 2398.7" fill="none" stroke="#0000ff" stroke-width="2.6" stroke-linejoin="round"/>
<rect x="1957.1" y="2238.4" width="390.4" height="245.5" fill="none" stroke="#111" stroke-width="2.8"/>
<path d="M2054.7 2483.9V2470.9M2054.7 2238.4V2251.4M2152.3 2483.9V2470.9M2152.3 2238.4V2251.4M2249.9 2483.9V2470.9M2249.9 2238.4V2251.4M1957.1 2361.2H1970.1M2347.5 2361.2H2334.5" stroke="#111" stroke-width="2.3" fill="none"/>
<text x="1960.1" y="2529.2" font-size="34" text-anchor="middle">0</text>
<text x="2057.7" y="2529.2" font-size="34" text-anchor="middle">5</text>
<text x="2155.3" y="2529.2" font-size="34" text-anchor="middle">10</text>
<text x="2252.9" y="2529.2" font-size="34" text-anchor="middle">15</text>
<text x="2350.5" y="2529.2" font-size="34" text-anchor="middle">20</text>
<text x="1943.6" y="2497.1" font-size="34" text-anchor="end">6</text>
<text x="1943.6" y="2374.3" font-size="34" text-anchor="end">12</text>
<text x="1943.6" y="2251.6" font-size="34" text-anchor="end">18</text>
<text x="2153.3" y="2580.9" font-size="41" text-anchor="middle">Time (ns)</text>
<text transform="translate(1885.3,2415.1) rotate(-90)" font-size="42"><tspan font-style="italic">R</tspan><tspan dx="2" dy="16.4" font-size="25">g</tspan><tspan dy="-16.4"> (Å)</tspan></text>
<path d="M355.5 3476.5V3463.5M355.5 2945.4V2958.4M605.6 3476.5V3463.5M605.6 2945.4V2958.4M855.8 3476.5V3463.5M855.8 2945.4V2958.4" stroke="#1a1a1a" stroke-width="2.4" fill="none"/>
<path d="M502.4 3476.5V3474.6H507.2V3468.5H512V3456.4H516.8V3439.2H521.6V3410.5H526.7V3381.8H532.5V3351.2H537.4V3346H542V3312.9H547V3297.6H552.2V3287.1H557V3279.8H563.7V3294.4H568.4V3309.7H573.6V3326.9H578.4V3343.5H583.8V3356H588.5V3370.3H594.3V3372.2H599.1V3378H604.2V3388.5H608.6V3400.9H613.4V3413.7H618.6V3414.3H623.4V3428.3H629.1V3430.6H633.9V3439.8H638.7V3444.9H644V3445.9H648.8V3448.2H653.6V3448.2H658.4V3452H664.1V3454.5H668.9V3459.7H673.3V3459.3H678.5V3462.2H683.2V3466H689V3467.9H693.8V3470.4H698.5V3471.1H704.3V3472.3H710V3471.7H719.6V3473.6H729.2V3475.2H738.7V3475.7H757.9V3476.1H790V3476.5Z" fill="#ff0000"/>
<rect x="105.3" y="2945.4" width="1000.7" height="531.1" fill="none" stroke="#1a1a1a" stroke-width="2.8"/>
<text x="110.8" y="3526" font-size="48" text-anchor="middle">0</text>
<text x="361" y="3526" font-size="48" text-anchor="middle">5</text>
<text x="612.6" y="3526" font-size="48" text-anchor="middle">10</text>
<text x="862.8" y="3526" font-size="48" text-anchor="middle">15</text>
<text x="1111.5" y="3526" font-size="48" text-anchor="middle">20</text>
<text x="565.1" y="3605.3" font-size="53"><tspan font-style="italic">R</tspan><tspan dx="2" dy="21.6" font-size="30">g</tspan><tspan dy="-21.6"> (Å)</tspan></text>
<text transform="translate(64.3,3402.6) rotate(-90)" font-size="54.5" textLength="413" lengthAdjust="spacingAndGlyphs">Normalized Counts</text>
<text x="157" y="3030.1" font-size="57" textLength="286.3" lengthAdjust="spacingAndGlyphs">poly(MeGE)</text>
<text x="158" y="3097.4" font-size="57">368 K</text>
<path d="M680.4 3155.9 680.8 3149.0 681.3 3145.1 681.7 3137.9 682.1 3130.5 682.6 3127.9 683.0 3122.0 683.4 3121.3 683.9 3123.2 684.3 3117.7 684.7 3119.6 685.2 3116.8 685.6 3116.4 686.0 3116.3 686.5 3117.8 686.9 3112.1 687.3 3107.6 687.8 3106.4 688.2 3112.4 688.6 3103.5 689.1 3105.0 689.5 3103.6 689.9 3105.4 690.4 3114.4 690.8 3117.7 691.2 3115.3 691.7 3120.0 692.1 3121.2 692.5 3121.1 693.0 3123.0 693.4 3121.0 693.8 3128.3 694.3 3129.5 694.7 3126.9 695.1 3132.0 695.6 3134.2 696.0 3134.3 696.4 3139.6 696.9 3140.0 697.3 3147.3 697.8 3145.1 698.2 3147.3 698.6 3148.7 699.1 3148.2 699.5 3156.5 699.9 3156.5 700.4 3155.0 700.8 3155.1 701.2 3164.7 701.7 3166.9 702.1 3166.0 702.5 3170.3 703.0 3164.4 703.4 3164.3 703.8 3163.6 704.3 3168.0 704.7 3158.9 705.1 3160.0 705.6 3156.1 706.0 3159.3 706.4 3161.1 706.9 3156.8 707.3 3161.0 707.7 3157.7 708.2 3153.5 708.6 3154.5 709.0 3160.8 709.5 3149.2 709.9 3148.5 710.3 3152.2 710.8 3147.5 711.2 3143.0 711.6 3139.4 712.1 3138.0 712.5 3131.2 712.9 3130.8 713.4 3133.2 713.8 3136.8 714.2 3136.3 714.7 3139.5 715.1 3133.9 715.5 3139.6 716.0 3138.9 716.4 3137.6 716.8 3144.6 717.3 3137.7 717.7 3145.0 718.1 3141.0 718.6 3140.3 719.0 3140.7 719.4 3144.2 719.9 3144.0 720.3 3143.2 720.7 3144.7 721.2 3145.5 721.6 3140.5 722.0 3143.8 722.5 3140.1 722.9 3136.2 723.3 3131.6 723.8 3133.7 724.2 3131.0 724.6 3129.6 725.1 3125.9 725.5 3118.4 725.9 3112.7 726.4 3119.8 726.8 3113.3 727.2 3120.2 727.7 3121.9 728.1 3125.3 728.5 3126.5 729.0 3132.6 729.4 3133.6 729.9 3147.4 730.3 3141.9 730.7 3142.1 731.2 3140.7 731.6 3138.9 732.0 3134.8 732.5 3132.8 732.9 3127.7 733.3 3127.9 733.8 3128.2 734.2 3131.6 734.6 3131.8 735.1 3134.5 735.5 3133.0 735.9 3137.1 736.4 3140.7 736.8 3139.3 737.2 3139.3 737.7 3144.6 738.1 3150.3 738.5 3147.2 739.0 3147.6 739.4 3149.7 739.8 3152.1 740.3 3159.6 740.7 3159.5 741.1 3167.0 741.6 3160.9 742.0 3159.8 742.4 3163.8 742.9 3163.2 743.3 3158.5 743.7 3162.5 744.2 3163.4 744.6 3166.5 745.0 3161.5 745.5 3159.9 745.9 3161.0 746.3 3167.0 746.8 3162.7 747.2 3165.8 747.6 3160.0 748.1 3157.6 748.5 3161.5 748.9 3158.4 749.4 3160.3 749.8 3157.6 750.2 3161.4 750.7 3156.5 751.1 3153.5 751.5 3158.7 752.0 3152.1 752.4 3156.7 752.8 3155.6 753.3 3151.3 753.7 3150.6 754.1 3152.4 754.6 3145.6 755.0 3156.1 755.4 3147.9 755.9 3145.3 756.3 3150.1 756.7 3147.4 757.2 3150.2 757.6 3145.9 758.0 3143.4 758.5 3143.6 758.9 3139.5 759.3 3144.4 759.8 3142.6 760.2 3141.6 760.6 3145.0 761.1 3146.1 761.5 3143.3 762.0 3145.9 762.4 3145.0 762.8 3144.4 763.3 3148.1 763.7 3147.0 764.1 3138.4 764.6 3143.5 765.0 3142.4 765.4 3146.7 765.9 3141.6 766.3 3144.3 766.7 3135.2 767.2 3141.4 767.6 3142.4 768.0 3142.2 768.5 3141.0 768.9 3141.7 769.3 3146.0 769.8 3150.8 770.2 3147.5 770.6 3152.9 771.1 3147.7 771.5 3143.5 771.9 3138.1 772.4 3134.4 772.8 3131.2 773.2 3121.7 773.7 3114.9 774.1 3107.7 774.5 3113.6 775.0 3119.3 775.4 3116.9 775.8 3119.9 776.3 3122.6 776.7 3125.2 777.1 3124.3 777.6 3129.5 778.0 3133.7 778.4 3134.9 778.9 3130.4 779.3 3136.3 779.7 3140.8 780.2 3142.5 780.6 3144.6 781.0 3137.9 781.5 3143.6 781.9 3141.3 782.3 3141.5 782.8 3138.9 783.2 3136.7 783.6 3137.5 784.1 3135.1 784.5 3137.8 784.9 3130.9 785.4 3134.3 785.8 3133.9 786.2 3138.6 786.7 3142.0 787.1 3138.3 787.5 3135.5 788.0 3138.3 788.4 3141.1 788.8 3147.1 789.3 3147.1 789.7 3145.9 790.1 3145.7 790.6 3149.8 791.0 3155.9 791.4 3153.9 791.9 3156.1 792.3 3156.6 792.7 3157.0 793.2 3150.5 793.6 3149.9 794.0 3151.4 794.5 3149.8 794.9 3146.4 795.4 3143.3 795.8 3144.3 796.2 3149.0 796.7 3150.1 797.1 3153.0 797.5 3153.0 798.0 3152.5 798.4 3147.8 798.8 3155.8 799.3 3158.8 799.7 3157.8 800.1 3156.2 800.6 3154.9 801.0 3154.6 801.4 3151.0 801.9 3142.5 802.3 3142.0 802.7 3139.2 803.2 3134.2 803.6 3131.4 804.0 3130.7 804.5 3125.6 804.9 3125.6 805.3 3125.7 805.8 3121.4 806.2 3120.5 806.6 3122.0 807.1 3119.1 807.5 3121.0 807.9 3116.7 808.4 3122.0 808.8 3116.7 809.2 3109.9 809.7 3114.1 810.1 3119.3 810.5 3122.3 811.0 3122.8 811.4 3120.0 811.8 3131.2 812.3 3134.7 812.7 3129.0 813.1 3133.1 813.6 3128.9 814.0 3126.2 814.4 3127.9 814.9 3130.2 815.3 3128.9 815.7 3124.9 816.2 3126.5 816.6 3125.3 817.0 3122.5 817.5 3124.4 817.9 3121.2 818.3 3124.2 818.8 3125.0 819.2 3127.2 819.6 3124.4 820.1 3127.3 820.5 3127.2 820.9 3126.7 821.4 3134.2 821.8 3132.0 822.2 3132.5 822.7 3129.8 823.1 3134.7 823.5 3132.9 824.0 3133.3 824.4 3140.5 824.8 3141.0 825.3 3140.6 825.7 3143.2 826.1 3143.4 826.6 3144.8 827.0 3148.8 827.5 3150.9 827.9 3148.2 828.3 3158.6 828.8 3155.3 829.2 3152.5 829.6 3150.9 830.1 3153.5 830.5 3151.4 830.9 3155.2 831.4 3151.5 831.8 3153.2 832.2 3150.5 832.7 3153.5 833.1 3152.0 833.5 3147.4 834.0 3147.5 834.4 3149.8 834.8 3151.0 835.3 3156.6 835.7 3153.8 836.1 3153.9 836.6 3155.1 837.0 3155.5 837.4 3155.0 837.9 3159.8 838.3 3155.1 838.7 3160.5 839.2 3155.7 839.6 3158.1 840.0 3159.0 840.5 3158.7 840.9 3154.2 841.3 3154.7 841.8 3158.6 842.2 3155.7 842.6 3156.5 843.1 3158.8 843.5 3158.7 843.9 3157.4 844.4 3157.7 844.8 3149.9 845.2 3153.9 845.7 3155.8 846.1 3155.1 846.5 3151.6 847.0 3145.0 847.4 3149.9 847.8 3147.5 848.3 3142.6 848.7 3141.5 849.1 3141.3 849.6 3142.7 850.0 3144.7 850.4 3144.9 850.9 3141.0 851.3 3138.5 851.7 3139.8 852.2 3133.2 852.6 3135.4 853.0 3131.2 853.5 3128.0 853.9 3132.7 854.3 3130.9 854.8 3128.8 855.2 3126.5 855.6 3137.9 856.1 3130.5 856.5 3131.2 856.9 3131.8 857.4 3133.4 857.8 3133.5 858.2 3136.1 858.7 3132.6 859.1 3128.7 859.6 3131.2 860.0 3131.8 860.4 3121.9 860.9 3127.5 861.3 3119.0 861.7 3119.1 862.2 3121.7 862.6 3124.0 863.0 3131.5 863.5 3129.4 863.9 3135.6 864.3 3136.2 864.8 3140.6 865.2 3142.1 865.6 3139.7 866.1 3140.9 866.5 3138.6 866.9 3136.4 867.4 3139.6 867.8 3139.9 868.2 3140.8 868.7 3134.8 869.1 3131.7 869.5 3131.2 870.0 3132.6 870.4 3129.7 870.8 3131.5 871.3 3131.0 871.7 3126.3 872.1 3128.0 872.6 3119.3 873.0 3119.9 873.4 3117.0 873.9 3113.7 874.3 3116.4 874.7 3114.8 875.2 3113.4 875.6 3114.8 876.0 3124.8 876.5 3125.8 876.9 3128.3 877.3 3136.4 877.8 3137.0 878.2 3140.8 878.6 3135.1 879.1 3129.0 879.5 3126.8 879.9 3124.3 880.4 3122.1 880.8 3118.3 881.2 3114.3 881.7 3118.1 882.1 3121.1 882.5 3120.0 883.0 3122.3 883.4 3125.5 883.8 3131.7 884.3 3132.1 884.7 3130.9 885.1 3132.4 885.6 3135.6 886.0 3133.3 886.4 3132.4 886.9 3138.6 887.3 3137.5 887.7 3134.5 888.2 3139.8 888.6 3132.8 889.0 3137.4 889.5 3139.3 889.9 3138.5 890.3 3145.1 890.8 3138.0 891.2 3144.0 891.6 3139.1 892.1 3144.9 892.5 3150.9 893.0 3143.9 893.4 3144.4 893.8 3145.4 894.3 3147.3 894.7 3148.6 895.1 3147.1 895.6 3155.4 896.0 3149.3 896.4 3153.0 896.9 3156.4 897.3 3156.7 897.7 3155.7 898.2 3156.9 898.6 3158.9 899.0 3160.9 899.5 3160.1 899.9 3160.0 900.3 3166.5 900.8 3158.4 901.2 3159.2 901.6 3153.8 902.1 3155.6 902.5 3153.8 902.9 3149.8 903.4 3148.7 903.8 3141.8 904.2 3140.0 904.7 3137.8 905.1 3142.5 905.5 3139.2 906.0 3135.2 906.4 3137.1 906.8 3134.2 907.3 3134.1 907.7 3137.8 908.1 3140.5 908.6 3143.6 909.0 3142.2 909.4 3142.8 909.9 3144.3 910.3 3148.4 910.7 3145.0 911.2 3152.7 911.6 3148.3 912.0 3146.0 912.5 3146.3 912.9 3146.1 913.3 3140.2 913.8 3143.6 914.2 3143.5 914.6 3140.7 915.1 3139.0 915.5 3133.6 915.9 3138.3 916.4 3132.9 916.8 3133.2 917.2 3129.4 917.7 3130.2 918.1 3126.8 918.5 3134.1 919.0 3129.2 919.4 3139.1 919.8 3144.2 920.3 3144.6 920.7 3142.5 921.1 3147.0 921.6 3148.6 922.0 3147.7 922.4 3146.1 922.9 3145.8 923.3 3146.8 923.7 3140.8 924.2 3142.0 924.6 3142.7 925.1 3138.9 925.5 3135.3 925.9 3139.4 926.4 3135.4 926.8 3136.0 927.2 3134.7 927.7 3129.1 928.1 3135.2 928.5 3129.9 929.0 3129.6 929.4 3130.0 929.8 3126.0 930.3 3127.6 930.7 3128.1 931.1 3131.9 931.6 3132.3 932.0 3140.7 932.4 3138.5 932.9 3147.2 933.3 3148.8 933.7 3153.7 934.2 3151.6 934.6 3154.1 935.0 3150.0 935.5 3146.7 935.9 3147.9 936.3 3154.5 936.8 3150.5 937.2 3148.6 937.6 3153.6 938.1 3148.4 938.5 3147.6 938.9 3154.7 939.4 3153.1 939.8 3146.8 940.2 3150.7 940.7 3154.1 941.1 3152.2 941.5 3156.3 942.0 3154.6 942.4 3156.5 942.8 3150.9 943.3 3156.7 943.7 3159.1 944.1 3161.3 944.6 3159.2 945.0 3160.1 945.4 3162.6 945.9 3157.3 946.3 3158.8 946.7 3161.6 947.2 3159.5 947.6 3154.2 948.0 3159.3 948.5 3155.5 948.9 3150.6 949.3 3156.2 949.8 3152.2 950.2 3152.7 950.6 3154.2 951.1 3150.0 951.5 3150.2 951.9 3147.8 952.4 3144.9 952.8 3142.7 953.2 3140.3 953.7 3134.8 954.1 3137.3 954.5 3134.0 955.0 3134.8 955.4 3132.0 955.8 3133.4 956.3 3126.8 956.7 3126.4 957.2 3124.5 957.6 3124.6 958.0 3120.5 958.5 3115.3 958.9 3123.5 959.3 3131.0 959.8 3131.3 960.2 3135.2 960.6 3139.5 961.1 3145.0 961.5 3146.7 961.9 3153.8 962.4 3152.9 962.8 3155.2 963.2 3152.0 963.7 3149.1 964.1 3154.1 964.5 3150.1 965.0 3147.5 965.4 3151.8 965.8 3148.4 966.3 3142.5 966.7 3149.2 967.1 3141.4 967.6 3138.4 968.0 3135.3 968.4 3140.3 968.9 3130.7 969.3 3124.9 969.7 3130.2 970.2 3124.6 970.6 3129.0 971.0 3123.2 971.5 3116.2 971.9 3110.3 972.3 3118.3 972.8 3114.0 973.2 3120.4 973.6 3121.9 974.1 3126.2 974.5 3127.7 974.9 3129.6 975.4 3134.6 975.8 3136.3 976.2 3137.5 976.7 3140.0 977.1 3143.6 977.5 3145.7 978.0 3144.0 978.4 3149.4 978.8 3145.6 979.3 3151.8 979.7 3153.6 980.1 3155.6 980.6 3151.5 981.0 3150.9 981.4 3149.6 981.9 3149.6 982.3 3148.8 982.7 3149.5 983.2 3144.3 983.6 3145.7 984.0 3151.7 984.5 3146.6 984.9 3148.3 985.3 3146.7 985.8 3147.3 986.2 3146.2 986.6 3147.6 987.1 3156.0 987.5 3154.9 987.9 3148.7 988.4 3150.2 988.8 3156.1 989.2 3155.7 989.7 3157.7 990.1 3153.5 990.6 3155.4 991.0 3153.5 991.4 3150.7 991.9 3152.3 992.3 3152.1 992.7 3145.9 993.2 3149.6 993.6 3149.0 994.0 3143.1 994.5 3146.2 994.9 3142.6 995.3 3139.5 995.8 3141.3 996.2 3142.7 996.6 3147.1 997.1 3141.7 997.5 3146.6 997.9 3147.7 998.4 3146.7 998.8 3149.9 999.2 3147.2 999.7 3149.4 1000.1 3149.6 1000.5 3149.8 1001.0 3151.2 1001.4 3142.9 1001.8 3141.5 1002.3 3148.4 1002.7 3147.0 1003.1 3143.9 1003.6 3146.1 1004.0 3144.9 1004.4 3140.5 1004.9 3140.7 1005.3 3134.7 1005.7 3137.9 1006.2 3139.5 1006.6 3139.5 1007.0 3140.2 1007.5 3139.7 1007.9 3137.9 1008.3 3140.9 1008.8 3142.2 1009.2 3139.3 1009.6 3147.3 1010.1 3142.4 1010.5 3147.8 1010.9 3151.7 1011.4 3146.6 1011.8 3151.5 1012.2 3151.8 1012.7 3153.7 1013.1 3152.0 1013.5 3151.5 1014.0 3155.8 1014.4 3156.0 1014.8 3159.2 1015.3 3156.6 1015.7 3157.7 1016.1 3157.1 1016.6 3157.1 1017.0 3153.1 1017.4 3157.7 1017.9 3155.6 1018.3 3160.4 1018.7 3158.1 1019.2 3155.9 1019.6 3155.2 1020.0 3158.3 1020.5 3159.9 1020.9 3156.5 1021.3 3155.3 1021.8 3152.7 1022.2 3153.0 1022.7 3158.2 1023.1 3151.1 1023.5 3149.4 1024.0 3153.1 1024.4 3147.0 1024.8 3145.9 1025.3 3146.2 1025.7 3148.7 1026.1 3144.5 1026.6 3148.3 1027.0 3146.3 1027.4 3141.8 1027.9 3142.7 1028.3 3146.4 1028.7 3141.7 1029.2 3145.7 1029.6 3147.8 1030.0 3144.5 1030.5 3147.3 1030.9 3137.8 1031.3 3142.3 1031.8 3141.7 1032.2 3145.0 1032.6 3141.4 1033.1 3140.4 1033.5 3143.9 1033.9 3140.9 1034.4 3144.4 1034.8 3142.4 1035.2 3141.0 1035.7 3140.5 1036.1 3144.2 1036.5 3139.0 1037.0 3139.7 1037.4 3140.4 1037.8 3143.3 1038.3 3142.2 1038.7 3139.0 1039.1 3141.7 1039.6 3143.3 1040.0 3141.9 1040.4 3141.1 1040.9 3140.9 1041.3 3144.1 1041.7 3142.0 1042.2 3143.7 1042.6 3153.6 1043.0 3142.9 1043.5 3143.8 1043.9 3147.0 1044.3 3148.1 1044.8 3146.2 1045.2 3149.7 1045.6 3146.5 1046.1 3148.3 1046.5 3147.5 1046.9 3151.7 1047.4 3157.7 1047.8 3149.6 1048.2 3156.9 1048.7 3151.6 1049.1 3154.6 1049.5 3160.5 1050.0 3158.6 1050.4 3161.5 1050.8 3159.2 1051.3 3161.2 1051.7 3161.6 1052.1 3155.2 1052.6 3157.9 1053.0 3159.6 1053.4 3158.3 1053.9 3162.1 1054.3 3159.2 1054.8 3157.3 1055.2 3158.1 1055.6 3159.4 1056.1 3158.2 1056.5 3158.9 1056.9 3158.6 1057.4 3157.1 1057.8 3161.7 1058.2 3160.5 1058.7 3158.0 1059.1 3155.8 1059.5 3160.3 1060.0 3153.7 1060.4 3149.3 1060.8 3150.5 1061.3 3150.9 1061.7 3153.7 1062.1 3148.4 1062.6 3149.5 1063.0 3148.2 1063.4 3150.6 1063.9 3147.4 1064.3 3148.3 1064.7 3145.6 1065.2 3148.2 1065.6 3148.0 1066.0 3144.9 1066.5 3150.5 1066.9 3144.7 1067.3 3147.9 1067.8 3149.3 1068.2 3149.6 1068.6 3145.3 1069.1 3145.1 1069.5 3145.6 1069.9 3142.4 1070.4 3140.6 1070.8 3143.8" fill="none" stroke="#ff0000" stroke-width="2.6" stroke-linejoin="round"/>
<rect x="680.4" y="2966.4" width="390.4" height="245.5" fill="none" stroke="#111" stroke-width="2.8"/>
<path d="M778 3211.9V3198.9M778 2966.4V2979.4M875.6 3211.9V3198.9M875.6 2966.4V2979.4M973.2 3211.9V3198.9M973.2 2966.4V2979.4M680.4 3089.2H693.4M1070.8 3089.2H1057.8" stroke="#111" stroke-width="2.3" fill="none"/>
<text x="683.4" y="3257.2" font-size="34" text-anchor="middle">0</text>
<text x="781" y="3257.2" font-size="34" text-anchor="middle">5</text>
<text x="878.6" y="3257.2" font-size="34" text-anchor="middle">10</text>
<text x="976.2" y="3257.2" font-size="34" text-anchor="middle">15</text>
<text x="1073.8" y="3257.2" font-size="34" text-anchor="middle">20</text>
<text x="666.9" y="3225.1" font-size="34" text-anchor="end">6</text>
<text x="666.9" y="3102.3" font-size="34" text-anchor="end">12</text>
<text x="666.9" y="2979.6" font-size="34" text-anchor="end">18</text>
<text x="876.6" y="3308.9" font-size="41" text-anchor="middle">Time (ns)</text>
<text transform="translate(608.6,3143.1) rotate(-90)" font-size="42"><tspan font-style="italic">R</tspan><tspan dx="2" dy="16.4" font-size="25">g</tspan><tspan dy="-16.4"> (Å)</tspan></text>
<path d="M1632.3 3476.5V3463.5M1632.3 2945V2958M1882.5 3476.5V3463.5M1882.5 2945V2958M2132.8 3476.5V3463.5M2132.8 2945V2958" stroke="#1a1a1a" stroke-width="2.4" fill="none"/>
<path d="M1774.3 3476.5V3471.7H1779.1V3456.4H1784.5V3424.8H1789.3V3400H1794.4V3354.1H1799.2V3309.5H1804V3294.7H1809.7V3252.6H1815.1V3245.6H1820.8V3253.6H1824.7V3238.3H1830.4V3251.3H1835V3265.5H1840.7V3299.1H1846.1V3325.4H1850.9V3342H1855.7V3378.9H1860.4V3400.5H1865.2V3421H1870.6V3435.4H1876.3V3444.9H1880.9V3450.3H1885.3V3452.2H1890.5V3456.4H1895.5V3459.9H1901.2V3461.2H1910.8V3466.9H1920.7V3470.2H1927.4V3469.4H1933.2V3467.9H1940.8V3469.8H1950.4V3471.7H1965.7V3474.6H1978.1V3473.2H1996.3V3475H2012.6V3475.5H2027.9V3476.1H2060V3476.5Z" fill="#0000ff"/>
<rect x="1382" y="2945" width="1001.1" height="531.5" fill="none" stroke="#1a1a1a" stroke-width="2.8"/>
<text x="1387.5" y="3526" font-size="48" text-anchor="middle">0</text>
<text x="1637.8" y="3526" font-size="48" text-anchor="middle">5</text>
<text x="1889.5" y="3526" font-size="48" text-anchor="middle">10</text>
<text x="2139.8" y="3526" font-size="48" text-anchor="middle">15</text>
<text x="2388.6" y="3526" font-size="48" text-anchor="middle">20</text>
<text x="1841.8" y="3605.3" font-size="53"><tspan font-style="italic">R</tspan><tspan dx="2" dy="21.6" font-size="30">g</tspan><tspan dy="-21.6"> (Å)</tspan></text>
<text transform="translate(1342,3399.8) rotate(-90)" font-size="54.5" textLength="413" lengthAdjust="spacingAndGlyphs">Normalized Counts</text>
<text x="1458.7" y="3029.2" font-size="57" textLength="260.6" lengthAdjust="spacingAndGlyphs">poly(EtGE)</text>
<text x="1459.7" y="3096.5" font-size="57">368 K</text>
<path d="M1957.1 3168.6 1957.5 3162.1 1958.0 3157.0 1958.4 3159.3 1958.8 3160.6 1959.3 3161.3 1959.7 3158.6 1960.1 3160.4 1960.6 3154.7 1961.0 3153.8 1961.4 3154.1 1961.9 3150.7 1962.3 3151.4 1962.7 3149.5 1963.2 3145.1 1963.6 3147.1 1964.0 3140.6 1964.5 3144.5 1964.9 3140.9 1965.3 3139.7 1965.8 3136.3 1966.2 3137.5 1966.6 3133.0 1967.1 3133.4 1967.5 3130.8 1967.9 3130.3 1968.4 3131.5 1968.8 3129.5 1969.2 3127.9 1969.7 3129.2 1970.1 3134.6 1970.5 3131.4 1971.0 3137.1 1971.4 3142.4 1971.8 3143.8 1972.3 3147.6 1972.7 3143.2 1973.1 3144.3 1973.6 3153.1 1974.0 3142.9 1974.5 3145.9 1974.9 3144.0 1975.3 3139.2 1975.8 3135.5 1976.2 3131.6 1976.6 3125.4 1977.1 3128.4 1977.5 3132.6 1977.9 3134.2 1978.4 3129.8 1978.8 3136.3 1979.2 3136.1 1979.7 3135.9 1980.1 3139.3 1980.5 3138.6 1981.0 3136.9 1981.4 3137.1 1981.8 3136.1 1982.3 3131.5 1982.7 3136.2 1983.1 3134.3 1983.6 3131.7 1984.0 3132.1 1984.4 3135.7 1984.9 3133.7 1985.3 3135.4 1985.7 3141.4 1986.2 3141.3 1986.6 3144.1 1987.0 3147.7 1987.5 3152.5 1987.9 3142.9 1988.3 3148.3 1988.8 3137.7 1989.2 3138.2 1989.6 3132.2 1990.1 3133.5 1990.5 3133.8 1990.9 3132.9 1991.4 3141.1 1991.8 3145.6 1992.2 3145.1 1992.7 3144.6 1993.1 3140.8 1993.5 3133.9 1994.0 3124.6 1994.4 3119.0 1994.8 3112.8 1995.3 3103.1 1995.7 3100.3 1996.1 3097.6 1996.6 3092.9 1997.0 3094.0 1997.4 3096.3 1997.9 3102.8 1998.3 3107.3 1998.7 3113.6 1999.2 3109.2 1999.6 3107.7 2000.0 3106.5 2000.5 3106.8 2000.9 3104.2 2001.3 3103.0 2001.8 3100.8 2002.2 3110.4 2002.6 3113.0 2003.1 3114.1 2003.5 3120.8 2003.9 3125.3 2004.4 3129.5 2004.8 3129.6 2005.2 3133.0 2005.7 3133.5 2006.1 3133.9 2006.6 3137.4 2007.0 3138.5 2007.4 3138.7 2007.9 3137.6 2008.3 3141.7 2008.7 3140.7 2009.2 3143.8 2009.6 3144.3 2010.0 3145.1 2010.5 3144.3 2010.9 3141.9 2011.3 3145.0 2011.8 3147.9 2012.2 3141.9 2012.6 3147.3 2013.1 3146.2 2013.5 3146.9 2013.9 3147.8 2014.4 3149.3 2014.8 3147.7 2015.2 3146.3 2015.7 3148.3 2016.1 3145.9 2016.5 3148.0 2017.0 3151.4 2017.4 3154.3 2017.8 3150.6 2018.3 3153.9 2018.7 3155.7 2019.1 3152.8 2019.6 3151.7 2020.0 3148.4 2020.4 3145.2 2020.9 3142.4 2021.3 3141.8 2021.7 3138.5 2022.2 3144.7 2022.6 3138.1 2023.0 3136.5 2023.5 3143.5 2023.9 3147.8 2024.3 3150.3 2024.8 3149.8 2025.2 3148.2 2025.6 3155.5 2026.1 3157.8 2026.5 3154.1 2026.9 3158.0 2027.4 3158.1 2027.8 3155.5 2028.2 3154.8 2028.7 3156.8 2029.1 3158.9 2029.5 3155.5 2030.0 3155.3 2030.4 3153.1 2030.8 3157.6 2031.3 3156.5 2031.7 3158.5 2032.1 3153.4 2032.6 3148.6 2033.0 3150.8 2033.4 3146.1 2033.9 3148.5 2034.3 3150.5 2034.7 3144.1 2035.2 3139.4 2035.6 3145.3 2036.0 3140.2 2036.5 3142.4 2036.9 3135.7 2037.3 3133.1 2037.8 3140.5 2038.2 3142.5 2038.7 3147.2 2039.1 3146.1 2039.5 3155.3 2040.0 3150.3 2040.4 3151.8 2040.8 3154.1 2041.3 3153.7 2041.7 3157.9 2042.1 3149.0 2042.6 3152.7 2043.0 3150.6 2043.4 3152.2 2043.9 3148.8 2044.3 3144.2 2044.7 3145.9 2045.2 3148.2 2045.6 3147.8 2046.0 3149.2 2046.5 3149.8 2046.9 3155.2 2047.3 3154.6 2047.8 3157.8 2048.2 3158.6 2048.6 3160.5 2049.1 3157.4 2049.5 3158.7 2049.9 3159.6 2050.4 3159.9 2050.8 3159.6 2051.2 3160.1 2051.7 3160.5 2052.1 3160.1 2052.5 3166.0 2053.0 3160.9 2053.4 3160.0 2053.8 3161.2 2054.3 3160.4 2054.7 3164.2 2055.1 3159.2 2055.6 3162.4 2056.0 3158.6 2056.4 3166.0 2056.9 3158.8 2057.3 3157.0 2057.7 3167.4 2058.2 3157.6 2058.6 3165.4 2059.0 3163.1 2059.5 3162.1 2059.9 3160.1 2060.3 3163.2 2060.8 3160.6 2061.2 3164.0 2061.6 3160.8 2062.1 3161.3 2062.5 3155.9 2062.9 3158.8 2063.4 3158.8 2063.8 3160.2 2064.2 3158.6 2064.7 3156.7 2065.1 3155.2 2065.5 3150.9 2066.0 3149.9 2066.4 3148.3 2066.8 3147.2 2067.3 3145.3 2067.7 3148.1 2068.1 3143.0 2068.6 3142.0 2069.0 3135.7 2069.4 3141.6 2069.9 3131.7 2070.3 3128.8 2070.7 3131.9 2071.2 3125.0 2071.6 3121.1 2072.1 3117.4 2072.5 3117.8 2072.9 3124.3 2073.4 3125.7 2073.8 3128.2 2074.2 3129.5 2074.7 3132.5 2075.1 3132.3 2075.5 3140.1 2076.0 3134.5 2076.4 3142.9 2076.8 3141.8 2077.3 3141.6 2077.7 3146.5 2078.1 3145.1 2078.6 3148.9 2079.0 3146.3 2079.4 3146.1 2079.9 3153.0 2080.3 3155.3 2080.7 3161.7 2081.2 3152.5 2081.6 3154.1 2082.0 3157.8 2082.5 3157.6 2082.9 3156.6 2083.3 3157.0 2083.8 3158.2 2084.2 3158.8 2084.6 3160.5 2085.1 3163.2 2085.5 3159.3 2085.9 3155.5 2086.4 3156.3 2086.8 3159.5 2087.2 3157.9 2087.7 3154.3 2088.1 3153.5 2088.5 3146.8 2089.0 3151.3 2089.4 3149.3 2089.8 3150.9 2090.3 3152.6 2090.7 3146.0 2091.1 3149.1 2091.6 3141.3 2092.0 3147.9 2092.4 3141.6 2092.9 3140.0 2093.3 3137.8 2093.7 3136.6 2094.2 3143.0 2094.6 3137.7 2095.0 3143.2 2095.5 3144.4 2095.9 3148.7 2096.3 3146.5 2096.8 3149.5 2097.2 3151.1 2097.6 3152.1 2098.1 3155.9 2098.5 3154.5 2098.9 3152.8 2099.4 3151.6 2099.8 3149.1 2100.2 3148.7 2100.7 3149.8 2101.1 3148.7 2101.5 3153.8 2102.0 3149.6 2102.4 3156.1 2102.8 3148.4 2103.3 3150.3 2103.7 3147.8 2104.2 3149.3 2104.6 3153.2 2105.0 3152.3 2105.5 3156.3 2105.9 3153.4 2106.3 3152.9 2106.8 3156.3 2107.2 3152.1 2107.6 3156.5 2108.1 3153.4 2108.5 3153.6 2108.9 3155.4 2109.4 3154.5 2109.8 3154.9 2110.2 3153.9 2110.7 3154.6 2111.1 3156.6 2111.5 3154.0 2112.0 3154.7 2112.4 3153.8 2112.8 3153.9 2113.3 3152.9 2113.7 3156.2 2114.1 3156.0 2114.6 3151.0 2115.0 3157.6 2115.4 3153.5 2115.9 3155.5 2116.3 3156.2 2116.7 3152.1 2117.2 3155.3 2117.6 3152.5 2118.0 3152.7 2118.5 3159.9 2118.9 3163.1 2119.3 3156.1 2119.8 3153.5 2120.2 3150.1 2120.6 3146.6 2121.1 3144.1 2121.5 3140.5 2121.9 3136.9 2122.4 3130.8 2122.8 3129.8 2123.2 3129.7 2123.7 3134.5 2124.1 3136.6 2124.5 3135.2 2125.0 3139.6 2125.4 3142.5 2125.8 3142.1 2126.3 3146.0 2126.7 3149.6 2127.1 3151.6 2127.6 3149.9 2128.0 3152.5 2128.4 3145.9 2128.9 3150.2 2129.3 3146.3 2129.7 3151.0 2130.2 3141.8 2130.6 3150.2 2131.0 3152.3 2131.5 3145.1 2131.9 3150.0 2132.3 3150.9 2132.8 3154.5 2133.2 3154.5 2133.6 3151.9 2134.1 3155.7 2134.5 3155.3 2134.9 3155.0 2135.4 3154.3 2135.8 3159.6 2136.3 3159.0 2136.7 3156.8 2137.1 3160.0 2137.6 3152.7 2138.0 3161.7 2138.4 3157.9 2138.9 3155.8 2139.3 3161.4 2139.7 3154.8 2140.2 3159.5 2140.6 3155.7 2141.0 3155.1 2141.5 3160.3 2141.9 3157.4 2142.3 3163.1 2142.8 3156.4 2143.2 3160.3 2143.6 3157.7 2144.1 3158.0 2144.5 3160.4 2144.9 3154.0 2145.4 3162.5 2145.8 3157.9 2146.2 3162.9 2146.7 3166.4 2147.1 3161.7 2147.5 3161.1 2148.0 3161.8 2148.4 3157.8 2148.8 3151.8 2149.3 3144.2 2149.7 3147.9 2150.1 3140.1 2150.6 3137.9 2151.0 3139.8 2151.4 3144.7 2151.9 3147.8 2152.3 3153.0 2152.7 3152.8 2153.2 3156.9 2153.6 3159.5 2154.0 3163.2 2154.5 3164.7 2154.9 3161.3 2155.3 3163.4 2155.8 3161.8 2156.2 3162.3 2156.6 3157.6 2157.1 3159.1 2157.5 3160.7 2157.9 3164.3 2158.4 3153.8 2158.8 3154.5 2159.2 3156.9 2159.7 3157.7 2160.1 3156.8 2160.5 3155.2 2161.0 3153.4 2161.4 3154.9 2161.8 3159.1 2162.3 3155.0 2162.7 3153.3 2163.1 3152.9 2163.6 3152.0 2164.0 3147.5 2164.4 3150.4 2164.9 3154.0 2165.3 3145.9 2165.7 3143.9 2166.2 3143.4 2166.6 3146.1 2167.0 3146.6 2167.5 3148.7 2167.9 3146.7 2168.3 3147.5 2168.8 3144.4 2169.2 3148.3 2169.7 3147.4 2170.1 3147.9 2170.5 3147.1 2171.0 3146.9 2171.4 3148.1 2171.8 3146.7 2172.3 3145.3 2172.7 3146.2 2173.1 3145.1 2173.6 3145.7 2174.0 3145.5 2174.4 3146.8 2174.9 3146.4 2175.3 3148.4 2175.7 3145.8 2176.2 3146.9 2176.6 3140.6 2177.0 3146.5 2177.5 3141.6 2177.9 3150.3 2178.3 3149.7 2178.8 3148.6 2179.2 3153.2 2179.6 3148.2 2180.1 3147.6 2180.5 3155.9 2180.9 3145.4 2181.4 3151.0 2181.8 3147.5 2182.2 3154.0 2182.7 3149.0 2183.1 3152.4 2183.5 3155.2 2184.0 3151.9 2184.4 3156.5 2184.8 3154.2 2185.3 3158.3 2185.7 3158.6 2186.1 3161.2 2186.6 3157.6 2187.0 3163.4 2187.4 3158.5 2187.9 3162.5 2188.3 3161.6 2188.7 3164.3 2189.2 3162.9 2189.6 3162.5 2190.0 3164.2 2190.5 3163.8 2190.9 3164.2 2191.3 3165.0 2191.8 3165.7 2192.2 3165.7 2192.6 3160.0 2193.1 3157.8 2193.5 3158.0 2193.9 3157.3 2194.4 3156.5 2194.8 3160.3 2195.2 3154.1 2195.7 3155.1 2196.1 3150.4 2196.5 3150.1 2197.0 3147.9 2197.4 3145.0 2197.8 3141.8 2198.3 3143.6 2198.7 3144.0 2199.1 3150.0 2199.6 3155.5 2200.0 3151.6 2200.4 3154.3 2200.9 3152.4 2201.3 3155.3 2201.8 3151.2 2202.2 3159.0 2202.6 3160.1 2203.1 3158.0 2203.5 3161.6 2203.9 3158.0 2204.4 3156.5 2204.8 3155.2 2205.2 3164.9 2205.7 3160.8 2206.1 3154.5 2206.5 3163.0 2207.0 3156.5 2207.4 3156.4 2207.8 3154.0 2208.3 3157.1 2208.7 3154.5 2209.1 3158.2 2209.6 3159.2 2210.0 3159.2 2210.4 3163.0 2210.9 3163.9 2211.3 3163.2 2211.7 3162.8 2212.2 3162.5 2212.6 3164.7 2213.0 3170.7 2213.5 3164.1 2213.9 3171.3 2214.3 3166.8 2214.8 3167.7 2215.2 3164.0 2215.6 3166.2 2216.1 3161.2 2216.5 3160.5 2216.9 3159.2 2217.4 3160.0 2217.8 3165.8 2218.2 3158.4 2218.7 3161.5 2219.1 3155.4 2219.5 3163.8 2220.0 3158.6 2220.4 3160.6 2220.8 3162.7 2221.3 3160.7 2221.7 3162.8 2222.1 3156.7 2222.6 3164.6 2223.0 3160.7 2223.4 3161.8 2223.9 3161.0 2224.3 3166.4 2224.7 3162.3 2225.2 3162.4 2225.6 3162.5 2226.0 3159.3 2226.5 3165.6 2226.9 3156.8 2227.3 3160.7 2227.8 3153.5 2228.2 3161.1 2228.6 3159.7 2229.1 3151.1 2229.5 3155.3 2229.9 3155.0 2230.4 3150.4 2230.8 3150.6 2231.2 3146.7 2231.7 3149.7 2232.1 3151.4 2232.5 3146.4 2233.0 3146.3 2233.4 3146.4 2233.9 3144.8 2234.3 3140.1 2234.7 3138.1 2235.2 3141.0 2235.6 3149.5 2236.0 3149.6 2236.5 3147.2 2236.9 3154.0 2237.3 3153.8 2237.8 3158.0 2238.2 3161.4 2238.6 3157.1 2239.1 3158.5 2239.5 3153.6 2239.9 3163.6 2240.4 3158.8 2240.8 3158.1 2241.2 3155.2 2241.7 3158.5 2242.1 3151.0 2242.5 3153.2 2243.0 3157.6 2243.4 3155.2 2243.8 3156.5 2244.3 3155.1 2244.7 3159.3 2245.1 3156.8 2245.6 3158.9 2246.0 3156.6 2246.4 3154.9 2246.9 3159.2 2247.3 3158.8 2247.7 3159.1 2248.2 3157.2 2248.6 3160.0 2249.0 3156.2 2249.5 3155.3 2249.9 3157.1 2250.3 3156.5 2250.8 3154.3 2251.2 3155.5 2251.6 3153.7 2252.1 3151.0 2252.5 3155.7 2252.9 3153.7 2253.4 3153.4 2253.8 3152.5 2254.2 3149.8 2254.7 3148.0 2255.1 3149.2 2255.5 3149.9 2256.0 3141.1 2256.4 3139.6 2256.8 3140.7 2257.3 3145.7 2257.7 3141.1 2258.1 3146.1 2258.6 3147.9 2259.0 3150.9 2259.4 3150.1 2259.9 3150.9 2260.3 3157.4 2260.7 3159.1 2261.2 3159.0 2261.6 3159.4 2262.0 3159.2 2262.5 3156.5 2262.9 3155.1 2263.3 3157.9 2263.8 3153.6 2264.2 3152.7 2264.6 3154.0 2265.1 3151.9 2265.5 3152.3 2265.9 3157.1 2266.4 3153.8 2266.8 3150.7 2267.3 3152.1 2267.7 3154.3 2268.1 3153.6 2268.6 3153.9 2269.0 3153.2 2269.4 3156.3 2269.9 3155.2 2270.3 3155.3 2270.7 3152.5 2271.2 3155.8 2271.6 3156.9 2272.0 3157.6 2272.5 3161.3 2272.9 3160.8 2273.3 3155.4 2273.8 3158.0 2274.2 3159.0 2274.6 3155.4 2275.1 3158.7 2275.5 3158.9 2275.9 3156.8 2276.4 3156.2 2276.8 3156.8 2277.2 3157.2 2277.7 3156.9 2278.1 3155.3 2278.5 3160.4 2279.0 3159.1 2279.4 3160.1 2279.8 3159.5 2280.3 3156.7 2280.7 3156.6 2281.1 3159.3 2281.6 3157.8 2282.0 3160.7 2282.4 3164.1 2282.9 3159.5 2283.3 3162.0 2283.7 3160.1 2284.2 3155.5 2284.6 3156.7 2285.0 3159.6 2285.5 3155.9 2285.9 3159.4 2286.3 3157.5 2286.8 3154.2 2287.2 3161.4 2287.6 3157.7 2288.1 3158.4 2288.5 3163.0 2288.9 3161.5 2289.4 3157.2 2289.8 3160.6 2290.2 3161.5 2290.7 3163.5 2291.1 3160.6 2291.5 3158.8 2292.0 3154.7 2292.4 3159.7 2292.8 3163.4 2293.3 3161.0 2293.7 3159.3 2294.1 3160.3 2294.6 3156.3 2295.0 3152.8 2295.4 3155.8 2295.9 3156.1 2296.3 3155.3 2296.7 3153.7 2297.2 3153.4 2297.6 3153.1 2298.0 3155.7 2298.5 3148.9 2298.9 3153.4 2299.4 3150.8 2299.8 3151.1 2300.2 3151.8 2300.7 3152.9 2301.1 3146.3 2301.5 3146.0 2302.0 3146.7 2302.4 3147.8 2302.8 3146.6 2303.3 3145.5 2303.7 3146.0 2304.1 3148.5 2304.6 3145.0 2305.0 3146.7 2305.4 3153.6 2305.9 3150.5 2306.3 3147.3 2306.7 3153.0 2307.2 3150.9 2307.6 3153.1 2308.0 3150.9 2308.5 3149.1 2308.9 3151.8 2309.3 3158.7 2309.8 3151.3 2310.2 3149.5 2310.6 3156.4 2311.1 3156.7 2311.5 3156.4 2311.9 3153.6 2312.4 3150.4 2312.8 3157.5 2313.2 3155.5 2313.7 3150.0 2314.1 3155.3 2314.5 3154.2 2315.0 3152.5 2315.4 3157.2 2315.8 3150.1 2316.3 3147.2 2316.7 3152.4 2317.1 3150.6 2317.6 3152.4 2318.0 3152.7 2318.4 3150.1 2318.9 3148.1 2319.3 3144.0 2319.7 3145.4 2320.2 3145.4 2320.6 3141.1 2321.0 3145.4 2321.5 3139.2 2321.9 3138.6 2322.3 3135.6 2322.8 3137.5 2323.2 3138.2 2323.6 3139.4 2324.1 3143.6 2324.5 3142.7 2324.9 3147.5 2325.4 3147.5 2325.8 3147.0 2326.2 3151.8 2326.7 3152.6 2327.1 3153.8 2327.5 3154.1 2328.0 3159.5 2328.4 3155.6 2328.8 3154.1 2329.3 3150.9 2329.7 3157.8 2330.1 3156.4 2330.6 3157.8 2331.0 3152.3 2331.5 3156.5 2331.9 3152.2 2332.3 3151.8 2332.8 3162.3 2333.2 3152.9 2333.6 3150.0 2334.1 3148.4 2334.5 3145.0 2334.9 3145.2 2335.4 3144.4 2335.8 3145.9 2336.2 3141.2 2336.7 3138.4 2337.1 3137.9 2337.5 3138.2 2338.0 3142.6 2338.4 3140.4 2338.8 3145.3 2339.3 3142.2 2339.7 3146.2 2340.1 3149.4 2340.6 3150.6 2341.0 3149.4 2341.4 3156.2 2341.9 3156.9 2342.3 3157.5 2342.7 3159.4 2343.2 3159.6 2343.6 3157.6 2344.0 3155.3 2344.5 3157.9 2344.9 3157.8 2345.3 3155.8 2345.8 3154.2 2346.2 3153.8 2346.6 3153.8 2347.1 3149.4 2347.5 3155.8" fill="none" stroke="#0000ff" stroke-width="2.6" stroke-linejoin="round"/>
<rect x="1957.1" y="2966" width="390.4" height="245.5" fill="none" stroke="#111" stroke-width="2.8"/>
<path d="M2054.7 3211.5V3198.5M2054.7 2966V2979M2152.3 3211.5V3198.5M2152.3 2966V2979M2249.9 3211.5V3198.5M2249.9 2966V2979M1957.1 3088.8H1970.1M2347.5 3088.8H2334.5" stroke="#111" stroke-width="2.3" fill="none"/>
<text x="1960.1" y="3256.8" font-size="34" text-anchor="middle">0</text>
<text x="2057.7" y="3256.8" font-size="34" text-anchor="middle">5</text>
<text x="2155.3" y="3256.8" font-size="34" text-anchor="middle">10</text>
<text x="2252.9" y="3256.8" font-size="34" text-anchor="middle">15</text>
<text x="2350.5" y="3256.8" font-size="34" text-anchor="middle">20</text>
<text x="1943.6" y="3224.7" font-size="34" text-anchor="end">6</text>
<text x="1943.6" y="3101.9" font-size="34" text-anchor="end">12</text>
<text x="1943.6" y="2979.2" font-size="34" text-anchor="end">18</text>
<text x="2153.3" y="3308.5" font-size="41" text-anchor="middle">Time (ns)</text>
<text transform="translate(1885.3,3142.7) rotate(-90)" font-size="42"><tspan font-style="italic">R</tspan><tspan dx="2" dy="16.4" font-size="25">g</tspan><tspan dy="-16.4"> (Å)</tspan></text>
</svg></body></html>
